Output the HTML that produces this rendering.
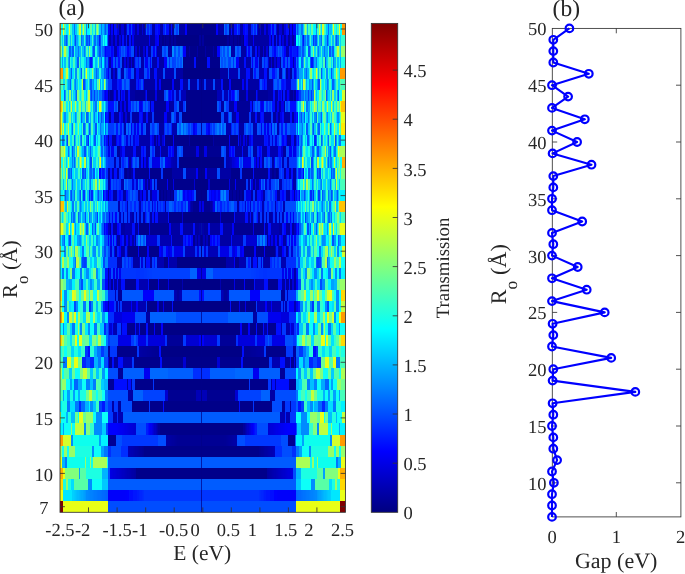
<!DOCTYPE html>
<html><head><meta charset="utf-8"><title>Figure</title>
<style>
html,body{margin:0;padding:0;background:#fff;}
body{width:685px;height:574px;overflow:hidden;font-family:"Liberation Serif",serif;}
svg{display:block;position:absolute;left:0;top:0;will-change:transform;transform:translateZ(0);}
text{font-family:"Liberation Serif",serif;fill:#262626;text-rendering:geometricPrecision;}
.tk{font-size:18.5px;}
.lb{font-size:21.5px;}
.tt{font-size:23.5px;}
.cl{font-size:18.8px;}
.ax{stroke:#333;stroke-width:0.85;fill:none;}
</style></head><body>
<svg width="685" height="574" viewBox="0 0 685 574">
<defs>
<linearGradient id="jet" x1="0" y1="1" x2="0" y2="0">
<stop offset="0.0000" stop-color="#000080"/><stop offset="0.0250" stop-color="#000099"/><stop offset="0.0500" stop-color="#0000b2"/><stop offset="0.0750" stop-color="#0000cc"/><stop offset="0.1000" stop-color="#0000e6"/><stop offset="0.1250" stop-color="#0000ff"/><stop offset="0.1500" stop-color="#0019ff"/><stop offset="0.1750" stop-color="#0033ff"/><stop offset="0.2000" stop-color="#004dff"/><stop offset="0.2250" stop-color="#0066ff"/><stop offset="0.2500" stop-color="#0080ff"/><stop offset="0.2750" stop-color="#0099ff"/><stop offset="0.3000" stop-color="#00b2ff"/><stop offset="0.3250" stop-color="#00ccff"/><stop offset="0.3500" stop-color="#00e5ff"/><stop offset="0.3750" stop-color="#00ffff"/><stop offset="0.4000" stop-color="#1affe5"/><stop offset="0.4250" stop-color="#33ffcc"/><stop offset="0.4500" stop-color="#4dffb2"/><stop offset="0.4750" stop-color="#66ff99"/><stop offset="0.5000" stop-color="#80ff80"/><stop offset="0.5250" stop-color="#99ff66"/><stop offset="0.5500" stop-color="#b3ff4c"/><stop offset="0.5750" stop-color="#ccff33"/><stop offset="0.6000" stop-color="#e5ff1a"/><stop offset="0.6250" stop-color="#ffff00"/><stop offset="0.6500" stop-color="#ffe500"/><stop offset="0.6750" stop-color="#ffcc00"/><stop offset="0.7000" stop-color="#ffb300"/><stop offset="0.7250" stop-color="#ff9900"/><stop offset="0.7500" stop-color="#ff8000"/><stop offset="0.7750" stop-color="#ff6600"/><stop offset="0.8000" stop-color="#ff4c00"/><stop offset="0.8250" stop-color="#ff3300"/><stop offset="0.8500" stop-color="#ff1a00"/><stop offset="0.8750" stop-color="#ff0000"/><stop offset="0.9000" stop-color="#e50000"/><stop offset="0.9250" stop-color="#cc0000"/><stop offset="0.9500" stop-color="#b30000"/><stop offset="0.9750" stop-color="#990000"/><stop offset="1.0000" stop-color="#800000"/></linearGradient>
<filter id="bl" x="-5%" y="-5%" width="110%" height="110%"><feGaussianBlur stdDeviation="0.75 0.3"/></filter>
<clipPath id="cp"><rect x="60.0" y="23.4" width="285.5" height="488.9"/></clipPath></defs>
<rect x="0" y="0" width="685" height="574" fill="#fff"/>
<g clip-path="url(#cp)"><g filter="url(#bl)" shape-rendering="crispEdges">
<rect x="50" y="15" width="305" height="505" fill="#0020e0"/>
<rect x="55.4" y="501" width="7.7" height="15" fill="#800000"/>
<rect x="62.8" y="501" width="45.0" height="15" fill="#e9ff16"/>
<rect x="107.5" y="501" width="188.2" height="15" fill="#004eff"/>
<rect x="295.5" y="501" width="45.0" height="15" fill="#e9ff16"/>
<rect x="340.2" y="501" width="10.2" height="15" fill="#800000"/>
<rect x="55.4" y="490" width="7.7" height="11" fill="#e9ff16"/>
<rect x="62.8" y="490" width="9.7" height="11" fill="#00e7ff"/>
<rect x="72.2" y="490" width="1.6" height="11" fill="#00d0ff"/>
<rect x="73.5" y="490" width="1.6" height="11" fill="#00caff"/>
<rect x="74.8" y="490" width="1.6" height="11" fill="#00c5ff"/>
<rect x="76.1" y="490" width="1.6" height="11" fill="#00bfff"/>
<rect x="77.4" y="490" width="1.6" height="11" fill="#00baff"/>
<rect x="78.7" y="490" width="1.6" height="11" fill="#00b4ff"/>
<rect x="79.9" y="490" width="1.6" height="11" fill="#00aeff"/>
<rect x="81.2" y="490" width="1.6" height="11" fill="#00a9ff"/>
<rect x="82.5" y="490" width="1.6" height="11" fill="#00a3ff"/>
<rect x="83.8" y="490" width="1.6" height="11" fill="#009eff"/>
<rect x="85.1" y="490" width="1.6" height="11" fill="#0098ff"/>
<rect x="86.4" y="490" width="1.6" height="11" fill="#008aff"/>
<rect x="87.7" y="490" width="1.6" height="11" fill="#0087ff"/>
<rect x="89.0" y="490" width="1.6" height="11" fill="#0085ff"/>
<rect x="90.3" y="490" width="1.6" height="11" fill="#0082ff"/>
<rect x="91.6" y="490" width="1.6" height="11" fill="#0080ff"/>
<rect x="93.0" y="490" width="1.6" height="11" fill="#007dff"/>
<rect x="94.3" y="490" width="1.6" height="11" fill="#007aff"/>
<rect x="95.6" y="490" width="1.6" height="11" fill="#0078ff"/>
<rect x="96.9" y="490" width="1.6" height="11" fill="#0075ff"/>
<rect x="98.3" y="490" width="1.6" height="11" fill="#0073ff"/>
<rect x="99.6" y="490" width="1.6" height="11" fill="#0070ff"/>
<rect x="100.9" y="490" width="1.6" height="11" fill="#006eff"/>
<rect x="102.2" y="490" width="1.6" height="11" fill="#006bff"/>
<rect x="103.6" y="490" width="1.6" height="11" fill="#0068ff"/>
<rect x="104.9" y="490" width="1.6" height="11" fill="#0066ff"/>
<rect x="106.2" y="490" width="1.6" height="11" fill="#0063ff"/>
<rect x="107.5" y="490" width="18.0" height="11" fill="#0000fb"/>
<rect x="125.3" y="490" width="1.6" height="11" fill="#0000fc"/>
<rect x="126.5" y="490" width="1.6" height="11" fill="#0001ff"/>
<rect x="127.8" y="490" width="1.6" height="11" fill="#0004ff"/>
<rect x="129.0" y="490" width="1.6" height="11" fill="#0007ff"/>
<rect x="130.3" y="490" width="1.6" height="11" fill="#000bff"/>
<rect x="131.5" y="490" width="1.6" height="11" fill="#000eff"/>
<rect x="132.8" y="490" width="1.6" height="11" fill="#0012ff"/>
<rect x="134.0" y="490" width="1.6" height="11" fill="#0015ff"/>
<rect x="135.3" y="490" width="1.6" height="11" fill="#0019ff"/>
<rect x="136.6" y="490" width="1.6" height="11" fill="#001cff"/>
<rect x="137.8" y="490" width="1.6" height="11" fill="#001fff"/>
<rect x="139.1" y="490" width="1.6" height="11" fill="#0023ff"/>
<rect x="140.3" y="490" width="1.6" height="11" fill="#0026ff"/>
<rect x="141.6" y="490" width="1.6" height="11" fill="#002aff"/>
<rect x="142.8" y="490" width="1.6" height="11" fill="#002dff"/>
<rect x="144.1" y="490" width="115.1" height="11" fill="#0035ff"/>
<rect x="258.9" y="490" width="1.6" height="11" fill="#002dff"/>
<rect x="260.2" y="490" width="1.6" height="11" fill="#002aff"/>
<rect x="261.4" y="490" width="1.6" height="11" fill="#0026ff"/>
<rect x="262.7" y="490" width="1.6" height="11" fill="#0023ff"/>
<rect x="263.9" y="490" width="1.6" height="11" fill="#001fff"/>
<rect x="265.2" y="490" width="1.6" height="11" fill="#001cff"/>
<rect x="266.4" y="490" width="1.6" height="11" fill="#0019ff"/>
<rect x="267.7" y="490" width="1.6" height="11" fill="#0015ff"/>
<rect x="268.9" y="490" width="1.6" height="11" fill="#0012ff"/>
<rect x="270.2" y="490" width="1.6" height="11" fill="#000eff"/>
<rect x="271.5" y="490" width="1.6" height="11" fill="#000bff"/>
<rect x="272.7" y="490" width="1.6" height="11" fill="#0007ff"/>
<rect x="274.0" y="490" width="1.6" height="11" fill="#0004ff"/>
<rect x="275.2" y="490" width="1.6" height="11" fill="#0001ff"/>
<rect x="276.5" y="490" width="1.6" height="11" fill="#0000fc"/>
<rect x="277.7" y="490" width="18.0" height="11" fill="#0000fb"/>
<rect x="295.5" y="490" width="1.6" height="11" fill="#0063ff"/>
<rect x="296.8" y="490" width="1.6" height="11" fill="#0066ff"/>
<rect x="298.1" y="490" width="1.6" height="11" fill="#0068ff"/>
<rect x="299.4" y="490" width="1.6" height="11" fill="#006bff"/>
<rect x="300.8" y="490" width="1.6" height="11" fill="#006eff"/>
<rect x="302.1" y="490" width="1.6" height="11" fill="#0070ff"/>
<rect x="303.4" y="490" width="1.6" height="11" fill="#0073ff"/>
<rect x="304.7" y="490" width="1.6" height="11" fill="#0075ff"/>
<rect x="306.0" y="490" width="1.6" height="11" fill="#0078ff"/>
<rect x="307.4" y="490" width="1.6" height="11" fill="#007aff"/>
<rect x="308.7" y="490" width="1.6" height="11" fill="#007dff"/>
<rect x="310.0" y="490" width="1.6" height="11" fill="#0080ff"/>
<rect x="311.3" y="490" width="1.6" height="11" fill="#0082ff"/>
<rect x="312.7" y="490" width="1.6" height="11" fill="#0085ff"/>
<rect x="314.0" y="490" width="1.6" height="11" fill="#0087ff"/>
<rect x="315.3" y="490" width="1.6" height="11" fill="#008aff"/>
<rect x="316.6" y="490" width="1.6" height="11" fill="#0098ff"/>
<rect x="317.9" y="490" width="1.6" height="11" fill="#009eff"/>
<rect x="319.2" y="490" width="1.6" height="11" fill="#00a3ff"/>
<rect x="320.5" y="490" width="1.6" height="11" fill="#00a9ff"/>
<rect x="321.8" y="490" width="1.6" height="11" fill="#00aeff"/>
<rect x="323.1" y="490" width="1.6" height="11" fill="#00b4ff"/>
<rect x="324.3" y="490" width="1.6" height="11" fill="#00baff"/>
<rect x="325.6" y="490" width="1.6" height="11" fill="#00bfff"/>
<rect x="326.9" y="490" width="1.6" height="11" fill="#00c5ff"/>
<rect x="328.2" y="490" width="1.6" height="11" fill="#00caff"/>
<rect x="329.5" y="490" width="1.6" height="11" fill="#00d0ff"/>
<rect x="330.8" y="490" width="9.7" height="11" fill="#00e7ff"/>
<rect x="340.2" y="490" width="10.2" height="11" fill="#e9ff16"/>
<rect x="55.4" y="479" width="7.7" height="11" fill="#ffd800"/>
<rect x="62.8" y="479" width="3.4" height="11" fill="#1cffe3"/>
<rect x="66.0" y="479" width="2.7" height="11" fill="#97ff68"/>
<rect x="68.3" y="479" width="2.7" height="11" fill="#1cffe3"/>
<rect x="70.7" y="479" width="3.4" height="11" fill="#00ddff"/>
<rect x="73.8" y="479" width="14.4" height="11" fill="#59ffa6"/>
<rect x="87.9" y="479" width="4.2" height="11" fill="#008bff"/>
<rect x="91.8" y="479" width="10.5" height="11" fill="#07fff8"/>
<rect x="102.0" y="479" width="5.8" height="11" fill="#00c9ff"/>
<rect x="107.5" y="479" width="188.2" height="11" fill="#005cff"/>
<rect x="295.5" y="479" width="5.8" height="11" fill="#00c9ff"/>
<rect x="300.9" y="479" width="10.5" height="11" fill="#07fff8"/>
<rect x="311.1" y="479" width="4.2" height="11" fill="#008bff"/>
<rect x="315.1" y="479" width="14.4" height="11" fill="#59ffa6"/>
<rect x="329.2" y="479" width="3.4" height="11" fill="#00ddff"/>
<rect x="332.3" y="479" width="2.7" height="11" fill="#1cffe3"/>
<rect x="334.7" y="479" width="2.7" height="11" fill="#97ff68"/>
<rect x="337.0" y="479" width="3.4" height="11" fill="#1cffe3"/>
<rect x="340.2" y="479" width="10.2" height="11" fill="#ffd800"/>
<rect x="55.4" y="468" width="7.7" height="11" fill="#ffaf00"/>
<rect x="62.8" y="468" width="2.7" height="11" fill="#e9ff16"/>
<rect x="65.2" y="468" width="13.6" height="11" fill="#82ff7d"/>
<rect x="78.5" y="468" width="1.9" height="11" fill="#00a0ff"/>
<rect x="80.1" y="468" width="6.6" height="11" fill="#59ffa6"/>
<rect x="86.4" y="468" width="16.0" height="11" fill="#1cffe3"/>
<rect x="102.0" y="468" width="5.8" height="11" fill="#00b4ff"/>
<rect x="107.5" y="468" width="2.3" height="11" fill="#004eff"/>
<rect x="109.6" y="468" width="1.6" height="11" fill="#0000e4"/>
<rect x="110.8" y="468" width="1.6" height="11" fill="#0000e1"/>
<rect x="112.1" y="468" width="1.6" height="11" fill="#0000dd"/>
<rect x="113.4" y="468" width="1.6" height="11" fill="#0000da"/>
<rect x="114.6" y="468" width="1.6" height="11" fill="#0000d7"/>
<rect x="115.9" y="468" width="1.6" height="11" fill="#0000d3"/>
<rect x="117.2" y="468" width="1.6" height="11" fill="#0000d0"/>
<rect x="118.5" y="468" width="1.6" height="11" fill="#0000cc"/>
<rect x="119.7" y="468" width="1.6" height="11" fill="#0000c9"/>
<rect x="121.0" y="468" width="1.6" height="11" fill="#0000c6"/>
<rect x="122.3" y="468" width="1.6" height="11" fill="#0000c2"/>
<rect x="123.5" y="468" width="1.6" height="11" fill="#0000bf"/>
<rect x="124.8" y="468" width="1.6" height="11" fill="#0000bb"/>
<rect x="126.1" y="468" width="1.6" height="11" fill="#0000b8"/>
<rect x="127.3" y="468" width="1.6" height="11" fill="#0000b4"/>
<rect x="128.6" y="468" width="1.6" height="11" fill="#0000b1"/>
<rect x="129.9" y="468" width="1.6" height="11" fill="#0000ae"/>
<rect x="131.2" y="468" width="1.6" height="11" fill="#0000aa"/>
<rect x="132.4" y="468" width="1.6" height="11" fill="#0000a7"/>
<rect x="133.7" y="468" width="1.6" height="11" fill="#0000a3"/>
<rect x="135.0" y="468" width="1.6" height="11" fill="#0000a0"/>
<rect x="136.2" y="468" width="130.8" height="11" fill="#00008a"/>
<rect x="266.7" y="468" width="1.6" height="11" fill="#0000a0"/>
<rect x="268.0" y="468" width="1.6" height="11" fill="#0000a3"/>
<rect x="269.3" y="468" width="1.6" height="11" fill="#0000a7"/>
<rect x="270.6" y="468" width="1.6" height="11" fill="#0000aa"/>
<rect x="271.8" y="468" width="1.6" height="11" fill="#0000ae"/>
<rect x="273.1" y="468" width="1.6" height="11" fill="#0000b1"/>
<rect x="274.4" y="468" width="1.6" height="11" fill="#0000b4"/>
<rect x="275.6" y="468" width="1.6" height="11" fill="#0000b8"/>
<rect x="276.9" y="468" width="1.6" height="11" fill="#0000bb"/>
<rect x="278.2" y="468" width="1.6" height="11" fill="#0000bf"/>
<rect x="279.4" y="468" width="1.6" height="11" fill="#0000c2"/>
<rect x="280.7" y="468" width="1.6" height="11" fill="#0000c6"/>
<rect x="282.0" y="468" width="1.6" height="11" fill="#0000c9"/>
<rect x="283.3" y="468" width="1.6" height="11" fill="#0000cc"/>
<rect x="284.5" y="468" width="1.6" height="11" fill="#0000d0"/>
<rect x="285.8" y="468" width="1.6" height="11" fill="#0000d3"/>
<rect x="287.1" y="468" width="1.6" height="11" fill="#0000d7"/>
<rect x="288.3" y="468" width="1.6" height="11" fill="#0000da"/>
<rect x="289.6" y="468" width="1.6" height="11" fill="#0000dd"/>
<rect x="290.9" y="468" width="1.6" height="11" fill="#0000e1"/>
<rect x="292.1" y="468" width="1.6" height="11" fill="#0000e4"/>
<rect x="293.4" y="468" width="2.3" height="11" fill="#004eff"/>
<rect x="295.5" y="468" width="5.8" height="11" fill="#00b4ff"/>
<rect x="300.9" y="468" width="16.0" height="11" fill="#1cffe3"/>
<rect x="316.6" y="468" width="6.6" height="11" fill="#59ffa6"/>
<rect x="322.9" y="468" width="1.9" height="11" fill="#00a0ff"/>
<rect x="324.5" y="468" width="13.6" height="11" fill="#82ff7d"/>
<rect x="337.8" y="468" width="2.7" height="11" fill="#e9ff16"/>
<rect x="340.2" y="468" width="10.2" height="11" fill="#ffaf00"/>
<rect x="55.4" y="457" width="6.9" height="11" fill="#e9ff16"/>
<rect x="62.0" y="457" width="3.4" height="11" fill="#00b4ff"/>
<rect x="65.2" y="457" width="1.9" height="11" fill="#0077ff"/>
<rect x="66.7" y="457" width="18.3" height="11" fill="#11ffee"/>
<rect x="84.8" y="457" width="1.9" height="11" fill="#97ff68"/>
<rect x="86.4" y="457" width="3.4" height="11" fill="#11ffee"/>
<rect x="89.5" y="457" width="1.9" height="11" fill="#97ff68"/>
<rect x="91.1" y="457" width="2.7" height="11" fill="#11ffee"/>
<rect x="93.4" y="457" width="13.6" height="11" fill="#abff54"/>
<rect x="106.7" y="457" width="1.1" height="11" fill="#1cffe3"/>
<rect x="107.5" y="457" width="188.2" height="11" fill="#005cff"/>
<rect x="295.5" y="457" width="1.1" height="11" fill="#1cffe3"/>
<rect x="296.2" y="457" width="13.6" height="11" fill="#abff54"/>
<rect x="309.6" y="457" width="2.7" height="11" fill="#11ffee"/>
<rect x="311.9" y="457" width="1.9" height="11" fill="#97ff68"/>
<rect x="313.5" y="457" width="3.4" height="11" fill="#11ffee"/>
<rect x="316.6" y="457" width="1.9" height="11" fill="#97ff68"/>
<rect x="318.2" y="457" width="18.3" height="11" fill="#11ffee"/>
<rect x="336.2" y="457" width="1.9" height="11" fill="#0077ff"/>
<rect x="337.8" y="457" width="3.4" height="11" fill="#00b4ff"/>
<rect x="340.9" y="457" width="9.4" height="11" fill="#e9ff16"/>
<rect x="55.4" y="446" width="6.9" height="11" fill="#97ff68"/>
<rect x="62.0" y="446" width="2.7" height="11" fill="#07fff8"/>
<rect x="64.4" y="446" width="2.7" height="11" fill="#97ff68"/>
<rect x="66.7" y="446" width="2.7" height="11" fill="#07fff8"/>
<rect x="69.1" y="446" width="6.6" height="11" fill="#97ff68"/>
<rect x="75.4" y="446" width="16.8" height="11" fill="#1cffe3"/>
<rect x="91.8" y="446" width="2.7" height="11" fill="#008bff"/>
<rect x="94.2" y="446" width="7.4" height="11" fill="#07fff8"/>
<rect x="101.3" y="446" width="2.7" height="11" fill="#00a0ff"/>
<rect x="103.6" y="446" width="4.2" height="11" fill="#0077ff"/>
<rect x="107.5" y="446" width="3.9" height="11" fill="#002fff"/>
<rect x="111.1" y="446" width="9.7" height="11" fill="#004eff"/>
<rect x="120.6" y="446" width="7.4" height="11" fill="#002fff"/>
<rect x="127.6" y="446" width="1.6" height="11" fill="#0000bb"/>
<rect x="128.9" y="446" width="1.6" height="11" fill="#0000b8"/>
<rect x="130.1" y="446" width="1.6" height="11" fill="#0000b4"/>
<rect x="131.4" y="446" width="1.6" height="11" fill="#0000b1"/>
<rect x="132.7" y="446" width="1.6" height="11" fill="#0000ad"/>
<rect x="133.9" y="446" width="1.6" height="11" fill="#0000aa"/>
<rect x="135.2" y="446" width="1.6" height="11" fill="#0000a6"/>
<rect x="136.5" y="446" width="1.6" height="11" fill="#0000a3"/>
<rect x="137.7" y="446" width="1.6" height="11" fill="#0000a0"/>
<rect x="139.0" y="446" width="1.6" height="11" fill="#00009c"/>
<rect x="140.3" y="446" width="1.6" height="11" fill="#000099"/>
<rect x="141.5" y="446" width="1.6" height="11" fill="#000095"/>
<rect x="142.8" y="446" width="1.6" height="11" fill="#000092"/>
<rect x="144.1" y="446" width="115.1" height="11" fill="#00008a"/>
<rect x="258.9" y="446" width="1.6" height="11" fill="#000092"/>
<rect x="260.2" y="446" width="1.6" height="11" fill="#000095"/>
<rect x="261.4" y="446" width="1.6" height="11" fill="#000099"/>
<rect x="262.7" y="446" width="1.6" height="11" fill="#00009c"/>
<rect x="264.0" y="446" width="1.6" height="11" fill="#0000a0"/>
<rect x="265.2" y="446" width="1.6" height="11" fill="#0000a3"/>
<rect x="266.5" y="446" width="1.6" height="11" fill="#0000a6"/>
<rect x="267.8" y="446" width="1.6" height="11" fill="#0000aa"/>
<rect x="269.0" y="446" width="1.6" height="11" fill="#0000ad"/>
<rect x="270.3" y="446" width="1.6" height="11" fill="#0000b1"/>
<rect x="271.6" y="446" width="1.6" height="11" fill="#0000b4"/>
<rect x="272.8" y="446" width="1.6" height="11" fill="#0000b8"/>
<rect x="274.1" y="446" width="1.6" height="11" fill="#0000bb"/>
<rect x="275.4" y="446" width="7.4" height="11" fill="#002fff"/>
<rect x="282.4" y="446" width="9.7" height="11" fill="#004eff"/>
<rect x="291.8" y="446" width="3.9" height="11" fill="#002fff"/>
<rect x="295.5" y="446" width="4.2" height="11" fill="#0077ff"/>
<rect x="299.4" y="446" width="2.7" height="11" fill="#00a0ff"/>
<rect x="301.7" y="446" width="7.4" height="11" fill="#07fff8"/>
<rect x="308.8" y="446" width="2.7" height="11" fill="#008bff"/>
<rect x="311.1" y="446" width="16.8" height="11" fill="#1cffe3"/>
<rect x="327.6" y="446" width="6.6" height="11" fill="#97ff68"/>
<rect x="333.9" y="446" width="2.7" height="11" fill="#07fff8"/>
<rect x="336.2" y="446" width="2.7" height="11" fill="#97ff68"/>
<rect x="338.6" y="446" width="2.7" height="11" fill="#07fff8"/>
<rect x="340.9" y="446" width="9.4" height="11" fill="#97ff68"/>
<rect x="55.4" y="435" width="7.7" height="11" fill="#ff9a00"/>
<rect x="62.8" y="435" width="8.1" height="11" fill="#d4ff2b"/>
<rect x="70.7" y="435" width="2.7" height="11" fill="#008bff"/>
<rect x="73.0" y="435" width="26.2" height="11" fill="#11ffee"/>
<rect x="98.9" y="435" width="2.7" height="11" fill="#00a0ff"/>
<rect x="101.3" y="435" width="6.6" height="11" fill="#00f2ff"/>
<rect x="107.5" y="435" width="0.8" height="11" fill="#0062ff"/>
<rect x="108.0" y="435" width="7.8" height="11" fill="#000094"/>
<rect x="115.5" y="435" width="6.9" height="11" fill="#004eff"/>
<rect x="122.1" y="435" width="36.4" height="11" fill="#0039ff"/>
<rect x="158.2" y="435" width="8.1" height="11" fill="#004eff"/>
<rect x="166.0" y="435" width="1.6" height="11" fill="#0000a7"/>
<rect x="167.3" y="435" width="1.6" height="11" fill="#0000a5"/>
<rect x="168.6" y="435" width="1.6" height="11" fill="#0000a3"/>
<rect x="169.8" y="435" width="1.6" height="11" fill="#0000a1"/>
<rect x="171.1" y="435" width="1.6" height="11" fill="#00009f"/>
<rect x="172.3" y="435" width="1.6" height="11" fill="#00009d"/>
<rect x="173.6" y="435" width="1.6" height="11" fill="#00009b"/>
<rect x="174.8" y="435" width="1.6" height="11" fill="#000099"/>
<rect x="176.1" y="435" width="1.6" height="11" fill="#000097"/>
<rect x="177.3" y="435" width="1.6" height="11" fill="#000095"/>
<rect x="178.6" y="435" width="46.1" height="11" fill="#000094"/>
<rect x="224.4" y="435" width="1.6" height="11" fill="#000095"/>
<rect x="225.7" y="435" width="1.6" height="11" fill="#000097"/>
<rect x="226.9" y="435" width="1.6" height="11" fill="#000099"/>
<rect x="228.2" y="435" width="1.6" height="11" fill="#00009b"/>
<rect x="229.4" y="435" width="1.6" height="11" fill="#00009d"/>
<rect x="230.7" y="435" width="1.6" height="11" fill="#00009f"/>
<rect x="231.9" y="435" width="1.6" height="11" fill="#0000a1"/>
<rect x="233.2" y="435" width="1.6" height="11" fill="#0000a3"/>
<rect x="234.4" y="435" width="1.6" height="11" fill="#0000a5"/>
<rect x="235.7" y="435" width="1.6" height="11" fill="#0000a7"/>
<rect x="236.9" y="435" width="8.1" height="11" fill="#004eff"/>
<rect x="244.8" y="435" width="36.4" height="11" fill="#0039ff"/>
<rect x="280.9" y="435" width="6.9" height="11" fill="#004eff"/>
<rect x="287.5" y="435" width="7.8" height="11" fill="#000094"/>
<rect x="295.0" y="435" width="0.8" height="11" fill="#0062ff"/>
<rect x="295.5" y="435" width="6.6" height="11" fill="#00f2ff"/>
<rect x="301.7" y="435" width="2.7" height="11" fill="#00a0ff"/>
<rect x="304.1" y="435" width="26.2" height="11" fill="#11ffee"/>
<rect x="330.0" y="435" width="2.7" height="11" fill="#008bff"/>
<rect x="332.3" y="435" width="8.1" height="11" fill="#d4ff2b"/>
<rect x="340.2" y="435" width="10.2" height="11" fill="#ff9a00"/>
<rect x="55.4" y="423" width="7.7" height="12" fill="#00f2ff"/>
<rect x="62.8" y="423" width="1.9" height="12" fill="#00a0ff"/>
<rect x="64.4" y="423" width="6.6" height="12" fill="#07fff8"/>
<rect x="70.7" y="423" width="1.9" height="12" fill="#97ff68"/>
<rect x="72.2" y="423" width="2.7" height="12" fill="#07fff8"/>
<rect x="74.6" y="423" width="9.7" height="12" fill="#c0ff3f"/>
<rect x="84.0" y="423" width="2.7" height="12" fill="#008bff"/>
<rect x="86.4" y="423" width="4.2" height="12" fill="#82ff7d"/>
<rect x="90.3" y="423" width="4.2" height="12" fill="#30ffcf"/>
<rect x="94.2" y="423" width="8.1" height="12" fill="#008bff"/>
<rect x="102.0" y="423" width="4.2" height="12" fill="#00c9ff"/>
<rect x="106.0" y="423" width="1.9" height="12" fill="#004eff"/>
<rect x="107.5" y="423" width="5.5" height="12" fill="#0006ff"/>
<rect x="112.7" y="423" width="1.6" height="12" fill="#0004ff"/>
<rect x="114.0" y="423" width="1.6" height="12" fill="#0001ff"/>
<rect x="115.2" y="423" width="1.6" height="12" fill="#0000fe"/>
<rect x="116.5" y="423" width="1.6" height="12" fill="#0000fb"/>
<rect x="117.8" y="423" width="1.6" height="12" fill="#0000f8"/>
<rect x="119.0" y="423" width="1.6" height="12" fill="#0000f5"/>
<rect x="120.3" y="423" width="1.6" height="12" fill="#0000f2"/>
<rect x="121.6" y="423" width="1.6" height="12" fill="#0000ef"/>
<rect x="122.8" y="423" width="1.6" height="12" fill="#0000ed"/>
<rect x="124.1" y="423" width="1.6" height="12" fill="#0000ea"/>
<rect x="125.3" y="423" width="1.6" height="12" fill="#0000e7"/>
<rect x="126.6" y="423" width="1.6" height="12" fill="#0000e4"/>
<rect x="127.9" y="423" width="1.6" height="12" fill="#0000e1"/>
<rect x="129.1" y="423" width="1.6" height="12" fill="#0000de"/>
<rect x="130.4" y="423" width="1.6" height="12" fill="#0000db"/>
<rect x="131.7" y="423" width="1.6" height="12" fill="#0000d9"/>
<rect x="132.9" y="423" width="1.6" height="12" fill="#0000d6"/>
<rect x="134.2" y="423" width="1.6" height="12" fill="#0000d3"/>
<rect x="135.5" y="423" width="11.3" height="12" fill="#004eff"/>
<rect x="146.4" y="423" width="1.6" height="12" fill="#001dff"/>
<rect x="147.8" y="423" width="1.6" height="12" fill="#000fff"/>
<rect x="149.1" y="423" width="1.6" height="12" fill="#0001ff"/>
<rect x="150.4" y="423" width="1.6" height="12" fill="#0000f1"/>
<rect x="151.8" y="423" width="1.6" height="12" fill="#0000e3"/>
<rect x="153.1" y="423" width="1.6" height="12" fill="#0000d5"/>
<rect x="154.4" y="423" width="1.6" height="12" fill="#0000c6"/>
<rect x="155.8" y="423" width="1.6" height="12" fill="#0000b8"/>
<rect x="157.1" y="423" width="1.6" height="12" fill="#0000aa"/>
<rect x="158.4" y="423" width="1.6" height="12" fill="#00009b"/>
<rect x="159.8" y="423" width="83.8" height="12" fill="#00008a"/>
<rect x="243.2" y="423" width="1.6" height="12" fill="#00009b"/>
<rect x="244.6" y="423" width="1.6" height="12" fill="#0000aa"/>
<rect x="245.9" y="423" width="1.6" height="12" fill="#0000b8"/>
<rect x="247.2" y="423" width="1.6" height="12" fill="#0000c6"/>
<rect x="248.6" y="423" width="1.6" height="12" fill="#0000d5"/>
<rect x="249.9" y="423" width="1.6" height="12" fill="#0000e3"/>
<rect x="251.2" y="423" width="1.6" height="12" fill="#0000f1"/>
<rect x="252.6" y="423" width="1.6" height="12" fill="#0001ff"/>
<rect x="253.9" y="423" width="1.6" height="12" fill="#000fff"/>
<rect x="255.2" y="423" width="1.6" height="12" fill="#001dff"/>
<rect x="256.6" y="423" width="11.3" height="12" fill="#004eff"/>
<rect x="267.5" y="423" width="1.6" height="12" fill="#0000d3"/>
<rect x="268.8" y="423" width="1.6" height="12" fill="#0000d6"/>
<rect x="270.1" y="423" width="1.6" height="12" fill="#0000d9"/>
<rect x="271.3" y="423" width="1.6" height="12" fill="#0000db"/>
<rect x="272.6" y="423" width="1.6" height="12" fill="#0000de"/>
<rect x="273.9" y="423" width="1.6" height="12" fill="#0000e1"/>
<rect x="275.1" y="423" width="1.6" height="12" fill="#0000e4"/>
<rect x="276.4" y="423" width="1.6" height="12" fill="#0000e7"/>
<rect x="277.6" y="423" width="1.6" height="12" fill="#0000ea"/>
<rect x="278.9" y="423" width="1.6" height="12" fill="#0000ed"/>
<rect x="280.2" y="423" width="1.6" height="12" fill="#0000ef"/>
<rect x="281.4" y="423" width="1.6" height="12" fill="#0000f2"/>
<rect x="282.7" y="423" width="1.6" height="12" fill="#0000f5"/>
<rect x="284.0" y="423" width="1.6" height="12" fill="#0000f8"/>
<rect x="285.2" y="423" width="1.6" height="12" fill="#0000fb"/>
<rect x="286.5" y="423" width="1.6" height="12" fill="#0000fe"/>
<rect x="287.8" y="423" width="1.6" height="12" fill="#0001ff"/>
<rect x="289.0" y="423" width="1.6" height="12" fill="#0004ff"/>
<rect x="290.3" y="423" width="5.5" height="12" fill="#0006ff"/>
<rect x="295.5" y="423" width="1.9" height="12" fill="#004eff"/>
<rect x="297.0" y="423" width="4.2" height="12" fill="#00c9ff"/>
<rect x="300.9" y="423" width="8.1" height="12" fill="#008bff"/>
<rect x="308.8" y="423" width="4.2" height="12" fill="#30ffcf"/>
<rect x="312.7" y="423" width="4.2" height="12" fill="#82ff7d"/>
<rect x="316.6" y="423" width="2.7" height="12" fill="#008bff"/>
<rect x="319.0" y="423" width="9.7" height="12" fill="#c0ff3f"/>
<rect x="328.4" y="423" width="2.7" height="12" fill="#07fff8"/>
<rect x="330.8" y="423" width="1.9" height="12" fill="#97ff68"/>
<rect x="332.3" y="423" width="6.6" height="12" fill="#07fff8"/>
<rect x="338.6" y="423" width="1.9" height="12" fill="#00a0ff"/>
<rect x="340.2" y="423" width="10.2" height="12" fill="#00f2ff"/>
<rect x="55.4" y="412" width="6.1" height="11" fill="#c0ff3f"/>
<rect x="61.3" y="412" width="5.0" height="11" fill="#07fff8"/>
<rect x="66.0" y="412" width="1.9" height="11" fill="#00b4ff"/>
<rect x="67.5" y="412" width="3.8" height="11" fill="#20ffdf"/>
<rect x="71.1" y="412" width="3.8" height="11" fill="#00beff"/>
<rect x="74.6" y="412" width="3.4" height="11" fill="#6eff91"/>
<rect x="77.7" y="412" width="1.9" height="11" fill="#07fff8"/>
<rect x="79.3" y="412" width="3.8" height="11" fill="#e9ff16"/>
<rect x="82.8" y="412" width="3.8" height="11" fill="#69ff96"/>
<rect x="86.4" y="412" width="6.6" height="11" fill="#97ff68"/>
<rect x="92.6" y="412" width="3.4" height="11" fill="#07fff8"/>
<rect x="95.8" y="412" width="6.6" height="11" fill="#008bff"/>
<rect x="102.0" y="412" width="5.8" height="11" fill="#07fff8"/>
<rect x="107.5" y="412" width="5.5" height="11" fill="#0039ff"/>
<rect x="112.7" y="412" width="4.2" height="11" fill="#0000b3"/>
<rect x="116.6" y="412" width="1.9" height="11" fill="#0025ff"/>
<rect x="118.2" y="412" width="5.0" height="11" fill="#0000b3"/>
<rect x="122.9" y="412" width="157.5" height="11" fill="#005cff"/>
<rect x="280.1" y="412" width="5.0" height="11" fill="#0000b3"/>
<rect x="284.8" y="412" width="1.9" height="11" fill="#0025ff"/>
<rect x="286.4" y="412" width="4.2" height="11" fill="#0000b3"/>
<rect x="290.3" y="412" width="5.5" height="11" fill="#0039ff"/>
<rect x="295.5" y="412" width="5.8" height="11" fill="#07fff8"/>
<rect x="300.9" y="412" width="6.6" height="11" fill="#008bff"/>
<rect x="307.2" y="412" width="3.4" height="11" fill="#07fff8"/>
<rect x="310.4" y="412" width="6.6" height="11" fill="#97ff68"/>
<rect x="316.6" y="412" width="3.8" height="11" fill="#69ff96"/>
<rect x="320.2" y="412" width="3.8" height="11" fill="#e9ff16"/>
<rect x="323.7" y="412" width="1.9" height="11" fill="#07fff8"/>
<rect x="325.3" y="412" width="3.4" height="11" fill="#6eff91"/>
<rect x="328.4" y="412" width="3.8" height="11" fill="#00beff"/>
<rect x="331.9" y="412" width="3.8" height="11" fill="#20ffdf"/>
<rect x="335.5" y="412" width="1.9" height="11" fill="#00b4ff"/>
<rect x="337.0" y="412" width="5.0" height="11" fill="#07fff8"/>
<rect x="341.7" y="412" width="8.6" height="11" fill="#c0ff3f"/>
<rect x="55.4" y="401" width="6.9" height="11" fill="#00f2ff"/>
<rect x="62.0" y="401" width="5.0" height="11" fill="#1cffe3"/>
<rect x="66.7" y="401" width="3.4" height="11" fill="#0077ff"/>
<rect x="69.9" y="401" width="5.8" height="11" fill="#00ddff"/>
<rect x="75.4" y="401" width="3.4" height="11" fill="#0077ff"/>
<rect x="78.5" y="401" width="2.7" height="11" fill="#0025ff"/>
<rect x="80.9" y="401" width="4.2" height="11" fill="#0069ff"/>
<rect x="84.8" y="401" width="4.2" height="11" fill="#00b2ff"/>
<rect x="88.7" y="401" width="1.9" height="11" fill="#00f2ff"/>
<rect x="90.3" y="401" width="2.7" height="11" fill="#008bff"/>
<rect x="92.6" y="401" width="3.4" height="11" fill="#00c1ff"/>
<rect x="95.8" y="401" width="3.4" height="11" fill="#3bffc4"/>
<rect x="98.9" y="401" width="3.4" height="11" fill="#0040ff"/>
<rect x="102.0" y="401" width="3.4" height="11" fill="#0015ff"/>
<rect x="105.2" y="401" width="2.7" height="11" fill="#0062ff"/>
<rect x="107.5" y="401" width="4.7" height="11" fill="#0039ff"/>
<rect x="111.9" y="401" width="1.9" height="11" fill="#0000a4"/>
<rect x="113.5" y="401" width="5.0" height="11" fill="#0039ff"/>
<rect x="118.2" y="401" width="2.7" height="11" fill="#00009e"/>
<rect x="120.6" y="401" width="11.3" height="11" fill="#004eff"/>
<rect x="131.5" y="401" width="17.6" height="11" fill="#00008c"/>
<rect x="148.8" y="401" width="1.4" height="11" fill="#0039ff"/>
<rect x="149.9" y="401" width="13.3" height="11" fill="#00008c"/>
<rect x="162.9" y="401" width="1.6" height="11" fill="#0010ff"/>
<rect x="164.2" y="401" width="75.0" height="11" fill="#000089"/>
<rect x="238.8" y="401" width="1.6" height="11" fill="#0010ff"/>
<rect x="240.1" y="401" width="13.3" height="11" fill="#00008c"/>
<rect x="253.1" y="401" width="1.4" height="11" fill="#0039ff"/>
<rect x="254.2" y="401" width="17.6" height="11" fill="#00008c"/>
<rect x="271.5" y="401" width="11.3" height="11" fill="#004eff"/>
<rect x="282.4" y="401" width="2.7" height="11" fill="#00009e"/>
<rect x="284.8" y="401" width="5.0" height="11" fill="#0039ff"/>
<rect x="289.5" y="401" width="1.9" height="11" fill="#0000a4"/>
<rect x="291.1" y="401" width="4.7" height="11" fill="#0039ff"/>
<rect x="295.5" y="401" width="2.7" height="11" fill="#0062ff"/>
<rect x="297.8" y="401" width="3.4" height="11" fill="#0015ff"/>
<rect x="300.9" y="401" width="3.4" height="11" fill="#0040ff"/>
<rect x="304.1" y="401" width="3.4" height="11" fill="#3bffc4"/>
<rect x="307.2" y="401" width="3.4" height="11" fill="#00c1ff"/>
<rect x="310.4" y="401" width="2.7" height="11" fill="#008bff"/>
<rect x="312.7" y="401" width="1.9" height="11" fill="#00f2ff"/>
<rect x="314.3" y="401" width="4.2" height="11" fill="#00b2ff"/>
<rect x="318.2" y="401" width="4.2" height="11" fill="#0069ff"/>
<rect x="322.1" y="401" width="2.7" height="11" fill="#0025ff"/>
<rect x="324.5" y="401" width="3.4" height="11" fill="#0077ff"/>
<rect x="327.6" y="401" width="5.8" height="11" fill="#00ddff"/>
<rect x="333.1" y="401" width="3.4" height="11" fill="#0077ff"/>
<rect x="336.2" y="401" width="5.0" height="11" fill="#1cffe3"/>
<rect x="340.9" y="401" width="9.4" height="11" fill="#00f2ff"/>
<rect x="55.4" y="390" width="7.7" height="11" fill="#45ffba"/>
<rect x="62.8" y="390" width="1.9" height="11" fill="#00a0ff"/>
<rect x="64.4" y="390" width="2.7" height="11" fill="#07fff8"/>
<rect x="66.7" y="390" width="3.4" height="11" fill="#00a0ff"/>
<rect x="69.9" y="390" width="3.4" height="11" fill="#1cffe3"/>
<rect x="73.0" y="390" width="1.9" height="11" fill="#00a0ff"/>
<rect x="74.6" y="390" width="3.4" height="11" fill="#07fff8"/>
<rect x="77.7" y="390" width="2.7" height="11" fill="#00b4ff"/>
<rect x="80.1" y="390" width="5.8" height="11" fill="#1cffe3"/>
<rect x="85.6" y="390" width="3.7" height="11" fill="#71ff8e"/>
<rect x="89.0" y="390" width="3.7" height="11" fill="#c6ff39"/>
<rect x="92.4" y="390" width="3.7" height="11" fill="#4affb5"/>
<rect x="95.8" y="390" width="2.7" height="11" fill="#07fff8"/>
<rect x="98.1" y="390" width="4.2" height="11" fill="#45ffba"/>
<rect x="102.0" y="390" width="3.4" height="11" fill="#07fff8"/>
<rect x="105.2" y="390" width="2.7" height="11" fill="#0077ff"/>
<rect x="107.5" y="390" width="21.2" height="11" fill="#004eff"/>
<rect x="128.4" y="390" width="5.0" height="11" fill="#0000a4"/>
<rect x="133.1" y="390" width="9.7" height="11" fill="#0062ff"/>
<rect x="142.5" y="390" width="23.0" height="11" fill="#0043ff"/>
<rect x="165.3" y="390" width="2.7" height="11" fill="#0000d2"/>
<rect x="167.6" y="390" width="28.5" height="11" fill="#000092"/>
<rect x="195.8" y="390" width="5.8" height="11" fill="#0000b7"/>
<rect x="201.3" y="390" width="0.6" height="11" fill="#000098"/>
<rect x="201.6" y="390" width="5.8" height="11" fill="#0000b7"/>
<rect x="207.1" y="390" width="28.5" height="11" fill="#000092"/>
<rect x="235.4" y="390" width="2.7" height="11" fill="#0000d2"/>
<rect x="237.7" y="390" width="23.0" height="11" fill="#0043ff"/>
<rect x="260.5" y="390" width="9.7" height="11" fill="#0062ff"/>
<rect x="269.9" y="390" width="5.0" height="11" fill="#0000a4"/>
<rect x="274.6" y="390" width="21.2" height="11" fill="#004eff"/>
<rect x="295.5" y="390" width="2.7" height="11" fill="#0077ff"/>
<rect x="297.8" y="390" width="3.4" height="11" fill="#07fff8"/>
<rect x="300.9" y="390" width="4.2" height="11" fill="#45ffba"/>
<rect x="304.9" y="390" width="2.7" height="11" fill="#07fff8"/>
<rect x="307.2" y="390" width="3.7" height="11" fill="#4affb5"/>
<rect x="310.6" y="390" width="3.7" height="11" fill="#c6ff39"/>
<rect x="314.0" y="390" width="3.7" height="11" fill="#71ff8e"/>
<rect x="317.4" y="390" width="5.8" height="11" fill="#1cffe3"/>
<rect x="322.9" y="390" width="2.7" height="11" fill="#00b4ff"/>
<rect x="325.3" y="390" width="3.4" height="11" fill="#07fff8"/>
<rect x="328.4" y="390" width="1.9" height="11" fill="#00a0ff"/>
<rect x="330.0" y="390" width="3.4" height="11" fill="#1cffe3"/>
<rect x="333.1" y="390" width="3.4" height="11" fill="#00a0ff"/>
<rect x="336.2" y="390" width="2.7" height="11" fill="#07fff8"/>
<rect x="338.6" y="390" width="1.9" height="11" fill="#00a0ff"/>
<rect x="340.2" y="390" width="10.2" height="11" fill="#45ffba"/>
<rect x="55.4" y="379" width="6.9" height="11" fill="#6eff91"/>
<rect x="62.0" y="379" width="4.2" height="11" fill="#97ff68"/>
<rect x="66.0" y="379" width="4.2" height="11" fill="#07fff8"/>
<rect x="69.9" y="379" width="2.3" height="11" fill="#00a0ff"/>
<rect x="71.9" y="379" width="2.2" height="11" fill="#00f2ff"/>
<rect x="73.8" y="379" width="4.2" height="11" fill="#0065ff"/>
<rect x="77.7" y="379" width="4.2" height="11" fill="#00aaff"/>
<rect x="81.6" y="379" width="5.0" height="11" fill="#07fff8"/>
<rect x="86.4" y="379" width="3.4" height="11" fill="#0080ff"/>
<rect x="89.5" y="379" width="3.4" height="11" fill="#00c0ff"/>
<rect x="92.6" y="379" width="3.4" height="11" fill="#007aff"/>
<rect x="95.8" y="379" width="2.7" height="11" fill="#59ffa6"/>
<rect x="98.1" y="379" width="3.4" height="11" fill="#4cffb3"/>
<rect x="101.3" y="379" width="3.4" height="11" fill="#00cfff"/>
<rect x="104.4" y="379" width="3.4" height="11" fill="#00b4ff"/>
<rect x="107.5" y="379" width="7.0" height="11" fill="#000098"/>
<rect x="114.3" y="379" width="12.8" height="11" fill="#0010ff"/>
<rect x="126.8" y="379" width="1.9" height="11" fill="#0000a4"/>
<rect x="128.4" y="379" width="2.7" height="11" fill="#0010ff"/>
<rect x="130.7" y="379" width="1.9" height="11" fill="#0000a4"/>
<rect x="132.3" y="379" width="2.7" height="11" fill="#0039ff"/>
<rect x="134.7" y="379" width="18.3" height="11" fill="#00008c"/>
<rect x="152.7" y="379" width="1.9" height="11" fill="#0039ff"/>
<rect x="154.3" y="379" width="94.7" height="11" fill="#000086"/>
<rect x="248.7" y="379" width="1.9" height="11" fill="#0039ff"/>
<rect x="250.3" y="379" width="18.3" height="11" fill="#00008c"/>
<rect x="268.3" y="379" width="2.7" height="11" fill="#0039ff"/>
<rect x="270.7" y="379" width="1.9" height="11" fill="#0000a4"/>
<rect x="272.2" y="379" width="2.7" height="11" fill="#0010ff"/>
<rect x="274.6" y="379" width="1.9" height="11" fill="#0000a4"/>
<rect x="276.2" y="379" width="12.8" height="11" fill="#0010ff"/>
<rect x="288.7" y="379" width="7.0" height="11" fill="#000098"/>
<rect x="295.5" y="379" width="3.4" height="11" fill="#00b4ff"/>
<rect x="298.6" y="379" width="3.4" height="11" fill="#00cfff"/>
<rect x="301.7" y="379" width="3.4" height="11" fill="#4cffb3"/>
<rect x="304.9" y="379" width="2.7" height="11" fill="#59ffa6"/>
<rect x="307.2" y="379" width="3.4" height="11" fill="#007aff"/>
<rect x="310.4" y="379" width="3.4" height="11" fill="#00c0ff"/>
<rect x="313.5" y="379" width="3.4" height="11" fill="#0080ff"/>
<rect x="316.6" y="379" width="5.0" height="11" fill="#07fff8"/>
<rect x="321.3" y="379" width="4.2" height="11" fill="#00aaff"/>
<rect x="325.3" y="379" width="4.2" height="11" fill="#0065ff"/>
<rect x="329.2" y="379" width="2.2" height="11" fill="#00f2ff"/>
<rect x="331.1" y="379" width="2.3" height="11" fill="#00a0ff"/>
<rect x="333.1" y="379" width="4.2" height="11" fill="#07fff8"/>
<rect x="337.0" y="379" width="4.2" height="11" fill="#97ff68"/>
<rect x="340.9" y="379" width="9.4" height="11" fill="#6eff91"/>
<rect x="55.4" y="368" width="6.9" height="11" fill="#abff54"/>
<rect x="62.0" y="368" width="2.7" height="11" fill="#07fff8"/>
<rect x="64.4" y="368" width="5.0" height="11" fill="#59ffa6"/>
<rect x="69.1" y="368" width="3.4" height="11" fill="#00ccff"/>
<rect x="72.2" y="368" width="3.4" height="11" fill="#6aff95"/>
<rect x="75.4" y="368" width="5.0" height="11" fill="#07fff8"/>
<rect x="80.1" y="368" width="3.4" height="11" fill="#82ff7d"/>
<rect x="83.2" y="368" width="3.8" height="11" fill="#ccff33"/>
<rect x="86.7" y="368" width="3.8" height="11" fill="#63ff9c"/>
<rect x="90.3" y="368" width="3.0" height="11" fill="#00c9ff"/>
<rect x="93.0" y="368" width="3.0" height="11" fill="#4effb1"/>
<rect x="95.8" y="368" width="3.4" height="11" fill="#00c9ff"/>
<rect x="98.9" y="368" width="3.4" height="11" fill="#30ffcf"/>
<rect x="102.0" y="368" width="3.0" height="11" fill="#0097ff"/>
<rect x="104.8" y="368" width="3.0" height="11" fill="#00fcff"/>
<rect x="107.5" y="368" width="11.0" height="11" fill="#004eff"/>
<rect x="118.2" y="368" width="5.0" height="11" fill="#000098"/>
<rect x="122.9" y="368" width="21.5" height="11" fill="#005eff"/>
<rect x="144.1" y="368" width="6.6" height="11" fill="#0000f0"/>
<rect x="150.4" y="368" width="17.6" height="11" fill="#0068ff"/>
<rect x="167.6" y="368" width="25.4" height="11" fill="#005eff"/>
<rect x="192.7" y="368" width="17.9" height="11" fill="#002fff"/>
<rect x="210.3" y="368" width="25.4" height="11" fill="#005eff"/>
<rect x="235.4" y="368" width="17.6" height="11" fill="#0068ff"/>
<rect x="252.6" y="368" width="6.6" height="11" fill="#0000f0"/>
<rect x="258.9" y="368" width="21.5" height="11" fill="#005eff"/>
<rect x="280.1" y="368" width="5.0" height="11" fill="#000098"/>
<rect x="284.8" y="368" width="11.0" height="11" fill="#004eff"/>
<rect x="295.5" y="368" width="3.0" height="11" fill="#00fcff"/>
<rect x="298.2" y="368" width="3.0" height="11" fill="#0097ff"/>
<rect x="300.9" y="368" width="3.4" height="11" fill="#30ffcf"/>
<rect x="304.1" y="368" width="3.4" height="11" fill="#00c9ff"/>
<rect x="307.2" y="368" width="3.0" height="11" fill="#4effb1"/>
<rect x="310.0" y="368" width="3.0" height="11" fill="#00c9ff"/>
<rect x="312.7" y="368" width="3.8" height="11" fill="#63ff9c"/>
<rect x="316.2" y="368" width="3.8" height="11" fill="#ccff33"/>
<rect x="319.8" y="368" width="3.4" height="11" fill="#82ff7d"/>
<rect x="322.9" y="368" width="5.0" height="11" fill="#07fff8"/>
<rect x="327.6" y="368" width="3.4" height="11" fill="#6aff95"/>
<rect x="330.8" y="368" width="3.4" height="11" fill="#00ccff"/>
<rect x="333.9" y="368" width="5.0" height="11" fill="#59ffa6"/>
<rect x="338.6" y="368" width="2.7" height="11" fill="#07fff8"/>
<rect x="340.9" y="368" width="9.4" height="11" fill="#abff54"/>
<rect x="55.4" y="357" width="7.7" height="11" fill="#45ffba"/>
<rect x="62.8" y="357" width="4.2" height="11" fill="#0077ff"/>
<rect x="66.7" y="357" width="4.0" height="11" fill="#e9ff16"/>
<rect x="70.5" y="357" width="4.0" height="11" fill="#4fffb0"/>
<rect x="74.2" y="357" width="4.0" height="11" fill="#e9ff16"/>
<rect x="77.9" y="357" width="4.0" height="11" fill="#6cff93"/>
<rect x="81.6" y="357" width="5.0" height="11" fill="#0025ff"/>
<rect x="86.4" y="357" width="4.2" height="11" fill="#004eff"/>
<rect x="90.3" y="357" width="4.2" height="11" fill="#0025ff"/>
<rect x="94.2" y="357" width="4.2" height="11" fill="#00b4ff"/>
<rect x="98.1" y="357" width="2.7" height="11" fill="#0077ff"/>
<rect x="100.5" y="357" width="3.4" height="11" fill="#00ddff"/>
<rect x="103.6" y="357" width="4.2" height="11" fill="#004eff"/>
<rect x="107.5" y="357" width="1.1" height="11" fill="#000092"/>
<rect x="108.3" y="357" width="1.1" height="11" fill="#0000e6"/>
<rect x="109.1" y="357" width="3.1" height="11" fill="#000092"/>
<rect x="111.9" y="357" width="1.9" height="11" fill="#0010ff"/>
<rect x="113.5" y="357" width="5.0" height="11" fill="#00009e"/>
<rect x="118.2" y="357" width="5.0" height="11" fill="#0010ff"/>
<rect x="122.9" y="357" width="8.9" height="11" fill="#0000b1"/>
<rect x="131.5" y="357" width="2.7" height="11" fill="#0039ff"/>
<rect x="133.9" y="357" width="26.2" height="11" fill="#00008c"/>
<rect x="159.8" y="357" width="2.7" height="11" fill="#0010ff"/>
<rect x="162.1" y="357" width="21.5" height="11" fill="#00008e"/>
<rect x="183.3" y="357" width="2.7" height="11" fill="#0000d2"/>
<rect x="185.7" y="357" width="32.0" height="11" fill="#000089"/>
<rect x="217.3" y="357" width="2.7" height="11" fill="#0000d2"/>
<rect x="219.7" y="357" width="21.5" height="11" fill="#00008e"/>
<rect x="240.9" y="357" width="2.7" height="11" fill="#0010ff"/>
<rect x="243.2" y="357" width="26.2" height="11" fill="#00008c"/>
<rect x="269.1" y="357" width="2.7" height="11" fill="#0039ff"/>
<rect x="271.5" y="357" width="8.9" height="11" fill="#0000b1"/>
<rect x="280.1" y="357" width="5.0" height="11" fill="#0010ff"/>
<rect x="284.8" y="357" width="5.0" height="11" fill="#00009e"/>
<rect x="289.5" y="357" width="1.9" height="11" fill="#0010ff"/>
<rect x="291.1" y="357" width="3.1" height="11" fill="#000092"/>
<rect x="293.9" y="357" width="1.1" height="11" fill="#0000e6"/>
<rect x="294.7" y="357" width="1.1" height="11" fill="#000092"/>
<rect x="295.5" y="357" width="4.2" height="11" fill="#004eff"/>
<rect x="299.4" y="357" width="3.4" height="11" fill="#00ddff"/>
<rect x="302.5" y="357" width="2.7" height="11" fill="#0077ff"/>
<rect x="304.9" y="357" width="4.2" height="11" fill="#00b4ff"/>
<rect x="308.8" y="357" width="4.2" height="11" fill="#0025ff"/>
<rect x="312.7" y="357" width="4.2" height="11" fill="#004eff"/>
<rect x="316.6" y="357" width="5.0" height="11" fill="#0025ff"/>
<rect x="321.3" y="357" width="4.0" height="11" fill="#6cff93"/>
<rect x="325.1" y="357" width="4.0" height="11" fill="#e9ff16"/>
<rect x="328.8" y="357" width="4.0" height="11" fill="#4fffb0"/>
<rect x="332.5" y="357" width="4.0" height="11" fill="#e9ff16"/>
<rect x="336.2" y="357" width="4.2" height="11" fill="#0077ff"/>
<rect x="340.2" y="357" width="10.2" height="11" fill="#45ffba"/>
<rect x="55.4" y="346" width="6.9" height="11" fill="#1cffe3"/>
<rect x="62.0" y="346" width="2.7" height="11" fill="#45ffba"/>
<rect x="64.4" y="346" width="2.7" height="11" fill="#07fff8"/>
<rect x="66.7" y="346" width="4.2" height="11" fill="#45ffba"/>
<rect x="70.7" y="346" width="3.8" height="11" fill="#00d2ff"/>
<rect x="74.2" y="346" width="3.8" height="11" fill="#23ffdc"/>
<rect x="77.7" y="346" width="3.8" height="11" fill="#00e0ff"/>
<rect x="81.3" y="346" width="3.8" height="11" fill="#32ffcd"/>
<rect x="84.8" y="346" width="3.0" height="11" fill="#0036ff"/>
<rect x="87.5" y="346" width="3.0" height="11" fill="#000dff"/>
<rect x="90.3" y="346" width="3.8" height="11" fill="#27ffd8"/>
<rect x="93.8" y="346" width="3.8" height="11" fill="#00acff"/>
<rect x="97.3" y="346" width="3.4" height="11" fill="#0077ff"/>
<rect x="100.5" y="346" width="3.8" height="11" fill="#0037ff"/>
<rect x="104.0" y="346" width="3.8" height="11" fill="#0064ff"/>
<rect x="107.5" y="346" width="2.3" height="11" fill="#0000a4"/>
<rect x="109.6" y="346" width="7.4" height="11" fill="#0039ff"/>
<rect x="116.6" y="346" width="20.7" height="11" fill="#00008c"/>
<rect x="137.0" y="346" width="2.7" height="11" fill="#0039ff"/>
<rect x="139.4" y="346" width="1.6" height="11" fill="#0000a4"/>
<rect x="140.7" y="346" width="1.6" height="11" fill="#0000a3"/>
<rect x="142.0" y="346" width="1.6" height="11" fill="#0000a1"/>
<rect x="143.3" y="346" width="1.6" height="11" fill="#0000a0"/>
<rect x="144.6" y="346" width="1.6" height="11" fill="#00009f"/>
<rect x="145.9" y="346" width="1.6" height="11" fill="#00009e"/>
<rect x="147.2" y="346" width="1.6" height="11" fill="#00009c"/>
<rect x="148.5" y="346" width="1.6" height="11" fill="#00009b"/>
<rect x="149.8" y="346" width="1.6" height="11" fill="#00009a"/>
<rect x="151.1" y="346" width="1.6" height="11" fill="#000099"/>
<rect x="152.4" y="346" width="1.6" height="11" fill="#000097"/>
<rect x="153.8" y="346" width="1.6" height="11" fill="#000096"/>
<rect x="155.1" y="346" width="1.6" height="11" fill="#000095"/>
<rect x="156.4" y="346" width="1.6" height="11" fill="#000094"/>
<rect x="157.7" y="346" width="1.6" height="11" fill="#000093"/>
<rect x="159.0" y="346" width="1.9" height="11" fill="#0010ff"/>
<rect x="160.6" y="346" width="82.2" height="11" fill="#000086"/>
<rect x="242.4" y="346" width="1.9" height="11" fill="#0010ff"/>
<rect x="244.0" y="346" width="1.6" height="11" fill="#000093"/>
<rect x="245.3" y="346" width="1.6" height="11" fill="#000094"/>
<rect x="246.6" y="346" width="1.6" height="11" fill="#000095"/>
<rect x="247.9" y="346" width="1.6" height="11" fill="#000096"/>
<rect x="249.2" y="346" width="1.6" height="11" fill="#000097"/>
<rect x="250.5" y="346" width="1.6" height="11" fill="#000099"/>
<rect x="251.8" y="346" width="1.6" height="11" fill="#00009a"/>
<rect x="253.2" y="346" width="1.6" height="11" fill="#00009b"/>
<rect x="254.5" y="346" width="1.6" height="11" fill="#00009c"/>
<rect x="255.8" y="346" width="1.6" height="11" fill="#00009e"/>
<rect x="257.1" y="346" width="1.6" height="11" fill="#00009f"/>
<rect x="258.4" y="346" width="1.6" height="11" fill="#0000a0"/>
<rect x="259.7" y="346" width="1.6" height="11" fill="#0000a1"/>
<rect x="261.0" y="346" width="1.6" height="11" fill="#0000a3"/>
<rect x="262.3" y="346" width="1.6" height="11" fill="#0000a4"/>
<rect x="263.6" y="346" width="2.7" height="11" fill="#0039ff"/>
<rect x="266.0" y="346" width="20.7" height="11" fill="#00008c"/>
<rect x="286.4" y="346" width="7.4" height="11" fill="#0039ff"/>
<rect x="293.4" y="346" width="2.3" height="11" fill="#0000a4"/>
<rect x="295.5" y="346" width="3.8" height="11" fill="#0064ff"/>
<rect x="299.0" y="346" width="3.8" height="11" fill="#0037ff"/>
<rect x="302.5" y="346" width="3.4" height="11" fill="#0077ff"/>
<rect x="305.7" y="346" width="3.8" height="11" fill="#00acff"/>
<rect x="309.2" y="346" width="3.8" height="11" fill="#27ffd8"/>
<rect x="312.7" y="346" width="3.0" height="11" fill="#000dff"/>
<rect x="315.5" y="346" width="3.0" height="11" fill="#0036ff"/>
<rect x="318.2" y="346" width="3.8" height="11" fill="#32ffcd"/>
<rect x="321.7" y="346" width="3.8" height="11" fill="#00e0ff"/>
<rect x="325.3" y="346" width="3.8" height="11" fill="#23ffdc"/>
<rect x="328.8" y="346" width="3.8" height="11" fill="#00d2ff"/>
<rect x="332.3" y="346" width="4.2" height="11" fill="#45ffba"/>
<rect x="336.2" y="346" width="2.7" height="11" fill="#07fff8"/>
<rect x="338.6" y="346" width="2.7" height="11" fill="#45ffba"/>
<rect x="340.9" y="346" width="9.4" height="11" fill="#1cffe3"/>
<rect x="55.4" y="335" width="6.9" height="11" fill="#ffd800"/>
<rect x="62.0" y="335" width="2.7" height="11" fill="#bbff44"/>
<rect x="64.4" y="335" width="2.7" height="11" fill="#5dffa2"/>
<rect x="66.7" y="335" width="3.0" height="11" fill="#35ffca"/>
<rect x="69.5" y="335" width="3.0" height="11" fill="#00e1ff"/>
<rect x="72.2" y="335" width="2.7" height="11" fill="#57ffa8"/>
<rect x="74.6" y="335" width="2.7" height="11" fill="#e9ff16"/>
<rect x="76.9" y="335" width="1.9" height="11" fill="#07fff8"/>
<rect x="78.5" y="335" width="3.4" height="11" fill="#e9ff16"/>
<rect x="81.6" y="335" width="3.4" height="11" fill="#5bffa4"/>
<rect x="84.8" y="335" width="4.2" height="11" fill="#6eff91"/>
<rect x="88.7" y="335" width="3.8" height="11" fill="#00deff"/>
<rect x="92.2" y="335" width="3.8" height="11" fill="#81ff7e"/>
<rect x="95.8" y="335" width="2.9" height="11" fill="#42ffbd"/>
<rect x="98.4" y="335" width="2.9" height="11" fill="#b5ff4a"/>
<rect x="101.0" y="335" width="2.9" height="11" fill="#3dffc2"/>
<rect x="103.6" y="335" width="2.7" height="11" fill="#07fff8"/>
<rect x="106.0" y="335" width="1.9" height="11" fill="#0077ff"/>
<rect x="107.5" y="335" width="2.3" height="11" fill="#0039ff"/>
<rect x="109.6" y="335" width="8.9" height="11" fill="#004eff"/>
<rect x="118.2" y="335" width="12.8" height="11" fill="#0000e6"/>
<rect x="130.7" y="335" width="3.4" height="11" fill="#0039ff"/>
<rect x="133.9" y="335" width="1.9" height="11" fill="#0058ff"/>
<rect x="135.5" y="335" width="2.7" height="11" fill="#0039ff"/>
<rect x="137.8" y="335" width="8.9" height="11" fill="#0000e6"/>
<rect x="146.4" y="335" width="1.9" height="11" fill="#0039ff"/>
<rect x="148.0" y="335" width="17.6" height="11" fill="#0000dc"/>
<rect x="165.3" y="335" width="1.9" height="11" fill="#002fff"/>
<rect x="166.8" y="335" width="16.8" height="11" fill="#000098"/>
<rect x="183.3" y="335" width="2.7" height="11" fill="#0039ff"/>
<rect x="185.7" y="335" width="13.6" height="11" fill="#0000d2"/>
<rect x="199.0" y="335" width="1.9" height="11" fill="#0000fb"/>
<rect x="200.6" y="335" width="2.2" height="11" fill="#000098"/>
<rect x="202.4" y="335" width="1.9" height="11" fill="#0000fb"/>
<rect x="204.0" y="335" width="13.6" height="11" fill="#0000d2"/>
<rect x="217.3" y="335" width="2.7" height="11" fill="#0039ff"/>
<rect x="219.7" y="335" width="16.8" height="11" fill="#000098"/>
<rect x="236.2" y="335" width="1.9" height="11" fill="#002fff"/>
<rect x="237.7" y="335" width="17.6" height="11" fill="#0000dc"/>
<rect x="255.0" y="335" width="1.9" height="11" fill="#0039ff"/>
<rect x="256.6" y="335" width="8.9" height="11" fill="#0000e6"/>
<rect x="265.2" y="335" width="2.7" height="11" fill="#0039ff"/>
<rect x="267.5" y="335" width="1.9" height="11" fill="#0058ff"/>
<rect x="269.1" y="335" width="3.4" height="11" fill="#0039ff"/>
<rect x="272.2" y="335" width="12.8" height="11" fill="#0000e6"/>
<rect x="284.8" y="335" width="8.9" height="11" fill="#004eff"/>
<rect x="293.4" y="335" width="2.3" height="11" fill="#0039ff"/>
<rect x="295.5" y="335" width="1.9" height="11" fill="#0077ff"/>
<rect x="297.0" y="335" width="2.7" height="11" fill="#07fff8"/>
<rect x="299.4" y="335" width="2.9" height="11" fill="#3dffc2"/>
<rect x="302.0" y="335" width="2.9" height="11" fill="#b5ff4a"/>
<rect x="304.6" y="335" width="2.9" height="11" fill="#42ffbd"/>
<rect x="307.2" y="335" width="3.8" height="11" fill="#81ff7e"/>
<rect x="310.8" y="335" width="3.8" height="11" fill="#00deff"/>
<rect x="314.3" y="335" width="4.2" height="11" fill="#6eff91"/>
<rect x="318.2" y="335" width="3.4" height="11" fill="#5bffa4"/>
<rect x="321.3" y="335" width="3.4" height="11" fill="#e9ff16"/>
<rect x="324.5" y="335" width="1.9" height="11" fill="#07fff8"/>
<rect x="326.0" y="335" width="2.7" height="11" fill="#e9ff16"/>
<rect x="328.4" y="335" width="2.7" height="11" fill="#57ffa8"/>
<rect x="330.8" y="335" width="3.0" height="11" fill="#00e1ff"/>
<rect x="333.5" y="335" width="3.0" height="11" fill="#35ffca"/>
<rect x="336.2" y="335" width="2.7" height="11" fill="#5dffa2"/>
<rect x="338.6" y="335" width="2.7" height="11" fill="#bbff44"/>
<rect x="340.9" y="335" width="9.4" height="11" fill="#ffd800"/>
<rect x="55.4" y="323" width="7.7" height="12" fill="#07fff8"/>
<rect x="62.8" y="323" width="1.9" height="12" fill="#008bff"/>
<rect x="64.4" y="323" width="2.9" height="12" fill="#00eeff"/>
<rect x="67.0" y="323" width="2.9" height="12" fill="#55ffaa"/>
<rect x="69.6" y="323" width="2.9" height="12" fill="#00d3ff"/>
<rect x="72.2" y="323" width="2.7" height="12" fill="#0077ff"/>
<rect x="74.6" y="323" width="3.8" height="12" fill="#1cffe3"/>
<rect x="78.0" y="323" width="1.2" height="12" fill="#abff54"/>
<rect x="79.0" y="323" width="1.4" height="12" fill="#1cffe3"/>
<rect x="80.1" y="323" width="2.7" height="12" fill="#008bff"/>
<rect x="82.4" y="323" width="3.0" height="12" fill="#72ff8d"/>
<rect x="85.2" y="323" width="3.0" height="12" fill="#00ebff"/>
<rect x="87.9" y="323" width="2.7" height="12" fill="#008bff"/>
<rect x="90.3" y="323" width="4.2" height="12" fill="#07fff8"/>
<rect x="94.2" y="323" width="2.7" height="12" fill="#0077ff"/>
<rect x="96.6" y="323" width="3.8" height="12" fill="#3cffc3"/>
<rect x="100.1" y="323" width="3.8" height="12" fill="#00c6ff"/>
<rect x="103.6" y="323" width="2.7" height="12" fill="#0025ff"/>
<rect x="106.0" y="323" width="1.9" height="12" fill="#0062ff"/>
<rect x="107.5" y="323" width="2.2" height="12" fill="#0031ff"/>
<rect x="109.4" y="323" width="2.8" height="12" fill="#0000d5"/>
<rect x="111.9" y="323" width="1.5" height="12" fill="#0018ff"/>
<rect x="113.1" y="323" width="1.4" height="12" fill="#0000b7"/>
<rect x="114.3" y="323" width="2.7" height="12" fill="#0000b1"/>
<rect x="116.6" y="323" width="4.2" height="12" fill="#0039ff"/>
<rect x="120.6" y="323" width="1.9" height="12" fill="#0000b1"/>
<rect x="122.1" y="323" width="5.0" height="12" fill="#0010ff"/>
<rect x="126.8" y="323" width="8.1" height="12" fill="#000092"/>
<rect x="134.7" y="323" width="1.9" height="12" fill="#0010ff"/>
<rect x="136.2" y="323" width="2.7" height="12" fill="#0000a4"/>
<rect x="138.6" y="323" width="1.9" height="12" fill="#0010ff"/>
<rect x="140.2" y="323" width="6.6" height="12" fill="#00008e"/>
<rect x="146.4" y="323" width="1.4" height="12" fill="#0010ff"/>
<rect x="147.5" y="323" width="6.3" height="12" fill="#00008c"/>
<rect x="153.5" y="323" width="1.6" height="12" fill="#0000fb"/>
<rect x="154.7" y="323" width="6.9" height="12" fill="#00008c"/>
<rect x="161.3" y="323" width="1.9" height="12" fill="#0000fb"/>
<rect x="162.9" y="323" width="77.5" height="12" fill="#000086"/>
<rect x="240.1" y="323" width="1.9" height="12" fill="#0000fb"/>
<rect x="241.7" y="323" width="6.9" height="12" fill="#00008c"/>
<rect x="248.2" y="323" width="1.6" height="12" fill="#0000fb"/>
<rect x="249.5" y="323" width="6.3" height="12" fill="#00008c"/>
<rect x="255.5" y="323" width="1.4" height="12" fill="#0010ff"/>
<rect x="256.6" y="323" width="6.6" height="12" fill="#00008e"/>
<rect x="262.8" y="323" width="1.9" height="12" fill="#0010ff"/>
<rect x="264.4" y="323" width="2.7" height="12" fill="#0000a4"/>
<rect x="266.7" y="323" width="1.9" height="12" fill="#0010ff"/>
<rect x="268.3" y="323" width="8.1" height="12" fill="#000092"/>
<rect x="276.2" y="323" width="5.0" height="12" fill="#0010ff"/>
<rect x="280.9" y="323" width="1.9" height="12" fill="#0000b1"/>
<rect x="282.4" y="323" width="4.2" height="12" fill="#0039ff"/>
<rect x="286.4" y="323" width="2.7" height="12" fill="#0000b1"/>
<rect x="288.7" y="323" width="1.4" height="12" fill="#0000b7"/>
<rect x="289.9" y="323" width="1.5" height="12" fill="#0018ff"/>
<rect x="291.1" y="323" width="2.8" height="12" fill="#0000d5"/>
<rect x="293.6" y="323" width="2.2" height="12" fill="#0031ff"/>
<rect x="295.5" y="323" width="1.9" height="12" fill="#0062ff"/>
<rect x="297.0" y="323" width="2.7" height="12" fill="#0025ff"/>
<rect x="299.4" y="323" width="3.8" height="12" fill="#00c6ff"/>
<rect x="302.9" y="323" width="3.8" height="12" fill="#3cffc3"/>
<rect x="306.4" y="323" width="2.7" height="12" fill="#0077ff"/>
<rect x="308.8" y="323" width="4.2" height="12" fill="#07fff8"/>
<rect x="312.7" y="323" width="2.7" height="12" fill="#008bff"/>
<rect x="315.1" y="323" width="3.0" height="12" fill="#00ebff"/>
<rect x="317.8" y="323" width="3.0" height="12" fill="#72ff8d"/>
<rect x="320.6" y="323" width="2.7" height="12" fill="#008bff"/>
<rect x="322.9" y="323" width="1.4" height="12" fill="#1cffe3"/>
<rect x="324.0" y="323" width="1.2" height="12" fill="#abff54"/>
<rect x="324.9" y="323" width="3.8" height="12" fill="#1cffe3"/>
<rect x="328.4" y="323" width="2.7" height="12" fill="#0077ff"/>
<rect x="330.8" y="323" width="2.9" height="12" fill="#00d3ff"/>
<rect x="333.4" y="323" width="2.9" height="12" fill="#55ffaa"/>
<rect x="336.0" y="323" width="2.9" height="12" fill="#00eeff"/>
<rect x="338.6" y="323" width="1.9" height="12" fill="#008bff"/>
<rect x="340.2" y="323" width="10.2" height="12" fill="#07fff8"/>
<rect x="55.4" y="312" width="6.9" height="11" fill="#ff9a00"/>
<rect x="62.0" y="312" width="1.9" height="11" fill="#e9ff16"/>
<rect x="63.6" y="312" width="3.4" height="11" fill="#07fff8"/>
<rect x="66.7" y="312" width="2.7" height="11" fill="#008bff"/>
<rect x="69.1" y="312" width="2.7" height="11" fill="#cfff30"/>
<rect x="71.5" y="312" width="2.7" height="11" fill="#73ff8c"/>
<rect x="73.8" y="312" width="2.7" height="11" fill="#e9ff16"/>
<rect x="76.2" y="312" width="1.9" height="11" fill="#07fff8"/>
<rect x="77.7" y="312" width="2.7" height="11" fill="#abff54"/>
<rect x="80.1" y="312" width="3.4" height="11" fill="#34ffcb"/>
<rect x="83.2" y="312" width="3.4" height="11" fill="#00dbff"/>
<rect x="86.4" y="312" width="3.4" height="11" fill="#abff54"/>
<rect x="89.5" y="312" width="3.4" height="11" fill="#07fff8"/>
<rect x="92.6" y="312" width="2.7" height="11" fill="#abff54"/>
<rect x="95.0" y="312" width="2.7" height="11" fill="#21ffde"/>
<rect x="97.3" y="312" width="2.7" height="11" fill="#00dbff"/>
<rect x="99.7" y="312" width="2.7" height="11" fill="#2fffd0"/>
<rect x="102.0" y="312" width="3.0" height="11" fill="#0094ff"/>
<rect x="104.8" y="312" width="3.0" height="11" fill="#00e7ff"/>
<rect x="107.5" y="312" width="7.0" height="11" fill="#002fff"/>
<rect x="114.3" y="312" width="8.1" height="11" fill="#0000dc"/>
<rect x="122.1" y="312" width="12.8" height="11" fill="#0000f0"/>
<rect x="134.7" y="312" width="12.1" height="11" fill="#004eff"/>
<rect x="146.4" y="312" width="3.4" height="11" fill="#0000a4"/>
<rect x="149.6" y="312" width="26.2" height="11" fill="#0062ff"/>
<rect x="175.5" y="312" width="52.4" height="11" fill="#004eff"/>
<rect x="227.5" y="312" width="26.2" height="11" fill="#0062ff"/>
<rect x="253.4" y="312" width="3.4" height="11" fill="#0000a4"/>
<rect x="256.6" y="312" width="12.1" height="11" fill="#004eff"/>
<rect x="268.3" y="312" width="12.8" height="11" fill="#0000f0"/>
<rect x="280.9" y="312" width="8.1" height="11" fill="#0000dc"/>
<rect x="288.7" y="312" width="7.0" height="11" fill="#002fff"/>
<rect x="295.5" y="312" width="3.0" height="11" fill="#00e7ff"/>
<rect x="298.2" y="312" width="3.0" height="11" fill="#0094ff"/>
<rect x="300.9" y="312" width="2.7" height="11" fill="#2fffd0"/>
<rect x="303.3" y="312" width="2.7" height="11" fill="#00dbff"/>
<rect x="305.7" y="312" width="2.7" height="11" fill="#21ffde"/>
<rect x="308.0" y="312" width="2.7" height="11" fill="#abff54"/>
<rect x="310.4" y="312" width="3.4" height="11" fill="#07fff8"/>
<rect x="313.5" y="312" width="3.4" height="11" fill="#abff54"/>
<rect x="316.6" y="312" width="3.4" height="11" fill="#00dbff"/>
<rect x="319.8" y="312" width="3.4" height="11" fill="#34ffcb"/>
<rect x="322.9" y="312" width="2.7" height="11" fill="#abff54"/>
<rect x="325.3" y="312" width="1.9" height="11" fill="#07fff8"/>
<rect x="326.8" y="312" width="2.7" height="11" fill="#e9ff16"/>
<rect x="329.2" y="312" width="2.7" height="11" fill="#73ff8c"/>
<rect x="331.5" y="312" width="2.7" height="11" fill="#cfff30"/>
<rect x="333.9" y="312" width="2.7" height="11" fill="#008bff"/>
<rect x="336.2" y="312" width="3.4" height="11" fill="#07fff8"/>
<rect x="339.4" y="312" width="1.9" height="11" fill="#e9ff16"/>
<rect x="340.9" y="312" width="9.4" height="11" fill="#ff9a00"/>
<rect x="55.4" y="301" width="6.9" height="11" fill="#c0ff3f"/>
<rect x="62.0" y="301" width="2.7" height="11" fill="#07fff8"/>
<rect x="64.4" y="301" width="2.7" height="11" fill="#008bff"/>
<rect x="66.7" y="301" width="2.3" height="11" fill="#59ffa6"/>
<rect x="68.7" y="301" width="2.3" height="11" fill="#00deff"/>
<rect x="70.7" y="301" width="3.4" height="11" fill="#00f2ff"/>
<rect x="73.8" y="301" width="2.3" height="11" fill="#0049ff"/>
<rect x="75.8" y="301" width="2.3" height="11" fill="#008cff"/>
<rect x="77.7" y="301" width="2.7" height="11" fill="#07fff8"/>
<rect x="80.1" y="301" width="3.4" height="11" fill="#30ffcf"/>
<rect x="83.2" y="301" width="2.7" height="11" fill="#0077ff"/>
<rect x="85.6" y="301" width="3.4" height="11" fill="#30ffcf"/>
<rect x="88.7" y="301" width="2.7" height="11" fill="#0036ff"/>
<rect x="91.1" y="301" width="2.7" height="11" fill="#007eff"/>
<rect x="93.4" y="301" width="2.7" height="11" fill="#37ffc8"/>
<rect x="95.8" y="301" width="2.7" height="11" fill="#00b8ff"/>
<rect x="98.1" y="301" width="2.7" height="11" fill="#30ffcf"/>
<rect x="100.5" y="301" width="2.7" height="11" fill="#008bff"/>
<rect x="102.8" y="301" width="2.7" height="11" fill="#0019ff"/>
<rect x="105.2" y="301" width="2.7" height="11" fill="#0000f4"/>
<rect x="107.5" y="301" width="1.6" height="11" fill="#0000b1"/>
<rect x="108.8" y="301" width="5.8" height="11" fill="#0000fb"/>
<rect x="114.3" y="301" width="1.8" height="11" fill="#0034ff"/>
<rect x="115.8" y="301" width="2.2" height="11" fill="#0000b5"/>
<rect x="117.7" y="301" width="1.5" height="11" fill="#0038ff"/>
<rect x="118.9" y="301" width="1.8" height="11" fill="#0000b4"/>
<rect x="120.4" y="301" width="1.7" height="11" fill="#0034ff"/>
<rect x="121.8" y="301" width="1.4" height="11" fill="#0000ae"/>
<rect x="122.9" y="301" width="8.1" height="11" fill="#0000b1"/>
<rect x="130.7" y="301" width="1.9" height="11" fill="#0000fb"/>
<rect x="132.3" y="301" width="4.2" height="11" fill="#0000b1"/>
<rect x="136.2" y="301" width="1.9" height="11" fill="#0000fb"/>
<rect x="137.8" y="301" width="8.1" height="11" fill="#0000b1"/>
<rect x="145.7" y="301" width="1.9" height="11" fill="#0039ff"/>
<rect x="147.2" y="301" width="10.5" height="11" fill="#00008c"/>
<rect x="157.4" y="301" width="1.4" height="11" fill="#0000e6"/>
<rect x="158.5" y="301" width="4.7" height="11" fill="#00008c"/>
<rect x="162.9" y="301" width="1.6" height="11" fill="#0000e6"/>
<rect x="164.2" y="301" width="8.5" height="11" fill="#00008c"/>
<rect x="172.3" y="301" width="1.4" height="11" fill="#0010ff"/>
<rect x="173.4" y="301" width="56.5" height="11" fill="#000086"/>
<rect x="229.6" y="301" width="1.4" height="11" fill="#0010ff"/>
<rect x="230.7" y="301" width="8.5" height="11" fill="#00008c"/>
<rect x="238.8" y="301" width="1.6" height="11" fill="#0000e6"/>
<rect x="240.1" y="301" width="4.7" height="11" fill="#00008c"/>
<rect x="244.5" y="301" width="1.4" height="11" fill="#0000e6"/>
<rect x="245.6" y="301" width="10.5" height="11" fill="#00008c"/>
<rect x="255.8" y="301" width="1.9" height="11" fill="#0039ff"/>
<rect x="257.3" y="301" width="8.1" height="11" fill="#0000b1"/>
<rect x="265.2" y="301" width="1.9" height="11" fill="#0000fb"/>
<rect x="266.7" y="301" width="4.2" height="11" fill="#0000b1"/>
<rect x="270.7" y="301" width="1.9" height="11" fill="#0000fb"/>
<rect x="272.2" y="301" width="8.1" height="11" fill="#0000b1"/>
<rect x="280.1" y="301" width="1.4" height="11" fill="#0000ae"/>
<rect x="281.2" y="301" width="1.7" height="11" fill="#0034ff"/>
<rect x="282.6" y="301" width="1.8" height="11" fill="#0000b4"/>
<rect x="284.1" y="301" width="1.5" height="11" fill="#0038ff"/>
<rect x="285.3" y="301" width="2.2" height="11" fill="#0000b5"/>
<rect x="287.2" y="301" width="1.8" height="11" fill="#0034ff"/>
<rect x="288.7" y="301" width="5.8" height="11" fill="#0000fb"/>
<rect x="294.2" y="301" width="1.6" height="11" fill="#0000b1"/>
<rect x="295.5" y="301" width="2.7" height="11" fill="#0000f4"/>
<rect x="297.8" y="301" width="2.7" height="11" fill="#0019ff"/>
<rect x="300.2" y="301" width="2.7" height="11" fill="#008bff"/>
<rect x="302.5" y="301" width="2.7" height="11" fill="#30ffcf"/>
<rect x="304.9" y="301" width="2.7" height="11" fill="#00b8ff"/>
<rect x="307.2" y="301" width="2.7" height="11" fill="#37ffc8"/>
<rect x="309.6" y="301" width="2.7" height="11" fill="#007eff"/>
<rect x="311.9" y="301" width="2.7" height="11" fill="#0036ff"/>
<rect x="314.3" y="301" width="3.4" height="11" fill="#30ffcf"/>
<rect x="317.4" y="301" width="2.7" height="11" fill="#0077ff"/>
<rect x="319.8" y="301" width="3.4" height="11" fill="#30ffcf"/>
<rect x="322.9" y="301" width="2.7" height="11" fill="#07fff8"/>
<rect x="325.3" y="301" width="2.3" height="11" fill="#008cff"/>
<rect x="327.2" y="301" width="2.3" height="11" fill="#0049ff"/>
<rect x="329.2" y="301" width="3.4" height="11" fill="#00f2ff"/>
<rect x="332.3" y="301" width="2.3" height="11" fill="#00deff"/>
<rect x="334.3" y="301" width="2.3" height="11" fill="#59ffa6"/>
<rect x="336.2" y="301" width="2.7" height="11" fill="#008bff"/>
<rect x="338.6" y="301" width="2.7" height="11" fill="#07fff8"/>
<rect x="340.9" y="301" width="9.4" height="11" fill="#c0ff3f"/>
<rect x="55.4" y="290" width="6.9" height="11" fill="#ffd800"/>
<rect x="62.0" y="290" width="2.7" height="11" fill="#07fff8"/>
<rect x="64.4" y="290" width="2.7" height="11" fill="#008bff"/>
<rect x="66.7" y="290" width="2.7" height="11" fill="#07fff8"/>
<rect x="69.1" y="290" width="2.7" height="11" fill="#40ffbf"/>
<rect x="71.5" y="290" width="2.7" height="11" fill="#e9ff16"/>
<rect x="73.8" y="290" width="2.7" height="11" fill="#d4ff2b"/>
<rect x="76.2" y="290" width="2.7" height="11" fill="#6eff91"/>
<rect x="78.5" y="290" width="2.7" height="11" fill="#07fff8"/>
<rect x="80.9" y="290" width="3.4" height="11" fill="#6eff91"/>
<rect x="84.0" y="290" width="2.7" height="11" fill="#e9ff16"/>
<rect x="86.4" y="290" width="2.7" height="11" fill="#77ff88"/>
<rect x="88.7" y="290" width="1.9" height="11" fill="#07fff8"/>
<rect x="90.3" y="290" width="3.4" height="11" fill="#97ff68"/>
<rect x="93.4" y="290" width="3.4" height="11" fill="#07fff8"/>
<rect x="96.6" y="290" width="3.0" height="11" fill="#c5ff3a"/>
<rect x="99.3" y="290" width="3.0" height="11" fill="#60ff9f"/>
<rect x="102.0" y="290" width="3.0" height="11" fill="#3bffc4"/>
<rect x="104.8" y="290" width="3.0" height="11" fill="#00abff"/>
<rect x="107.5" y="290" width="7.8" height="11" fill="#0039ff"/>
<rect x="115.1" y="290" width="1.1" height="11" fill="#0000b1"/>
<rect x="115.8" y="290" width="2.7" height="11" fill="#0039ff"/>
<rect x="118.2" y="290" width="3.9" height="11" fill="#000098"/>
<rect x="121.8" y="290" width="21.8" height="11" fill="#0058ff"/>
<rect x="143.3" y="290" width="10.5" height="11" fill="#0000fb"/>
<rect x="153.5" y="290" width="20.7" height="11" fill="#0058ff"/>
<rect x="173.9" y="290" width="1.6" height="11" fill="#0000b7"/>
<rect x="175.2" y="290" width="1.6" height="11" fill="#0000ab"/>
<rect x="176.5" y="290" width="2.9" height="11" fill="#00009e"/>
<rect x="179.1" y="290" width="1.6" height="11" fill="#0000ab"/>
<rect x="180.4" y="290" width="1.6" height="11" fill="#0000b7"/>
<rect x="181.7" y="290" width="17.6" height="11" fill="#004eff"/>
<rect x="199.0" y="290" width="5.3" height="11" fill="#0010ff"/>
<rect x="204.0" y="290" width="17.6" height="11" fill="#004eff"/>
<rect x="221.3" y="290" width="1.6" height="11" fill="#0000b7"/>
<rect x="222.6" y="290" width="1.6" height="11" fill="#0000ab"/>
<rect x="223.9" y="290" width="2.9" height="11" fill="#00009e"/>
<rect x="226.5" y="290" width="1.6" height="11" fill="#0000ab"/>
<rect x="227.8" y="290" width="1.6" height="11" fill="#0000b7"/>
<rect x="229.1" y="290" width="20.7" height="11" fill="#0058ff"/>
<rect x="249.5" y="290" width="10.5" height="11" fill="#0000fb"/>
<rect x="259.7" y="290" width="21.8" height="11" fill="#0058ff"/>
<rect x="281.2" y="290" width="3.9" height="11" fill="#000098"/>
<rect x="284.8" y="290" width="2.7" height="11" fill="#0039ff"/>
<rect x="287.1" y="290" width="1.1" height="11" fill="#0000b1"/>
<rect x="287.9" y="290" width="7.8" height="11" fill="#0039ff"/>
<rect x="295.5" y="290" width="3.0" height="11" fill="#00abff"/>
<rect x="298.2" y="290" width="3.0" height="11" fill="#3bffc4"/>
<rect x="300.9" y="290" width="3.0" height="11" fill="#60ff9f"/>
<rect x="303.7" y="290" width="3.0" height="11" fill="#c5ff3a"/>
<rect x="306.4" y="290" width="3.4" height="11" fill="#07fff8"/>
<rect x="309.6" y="290" width="3.4" height="11" fill="#97ff68"/>
<rect x="312.7" y="290" width="1.9" height="11" fill="#07fff8"/>
<rect x="314.3" y="290" width="2.7" height="11" fill="#77ff88"/>
<rect x="316.6" y="290" width="2.7" height="11" fill="#e9ff16"/>
<rect x="319.0" y="290" width="3.4" height="11" fill="#6eff91"/>
<rect x="322.1" y="290" width="2.7" height="11" fill="#07fff8"/>
<rect x="324.5" y="290" width="2.7" height="11" fill="#6eff91"/>
<rect x="326.8" y="290" width="2.7" height="11" fill="#d4ff2b"/>
<rect x="329.2" y="290" width="2.7" height="11" fill="#e9ff16"/>
<rect x="331.5" y="290" width="2.7" height="11" fill="#40ffbf"/>
<rect x="333.9" y="290" width="2.7" height="11" fill="#07fff8"/>
<rect x="336.2" y="290" width="2.7" height="11" fill="#008bff"/>
<rect x="338.6" y="290" width="2.7" height="11" fill="#07fff8"/>
<rect x="340.9" y="290" width="9.4" height="11" fill="#ffd800"/>
<rect x="55.4" y="279" width="7.7" height="11" fill="#97ff68"/>
<rect x="62.8" y="279" width="3.4" height="11" fill="#6eff91"/>
<rect x="66.0" y="279" width="3.4" height="11" fill="#00b4ff"/>
<rect x="69.1" y="279" width="3.4" height="11" fill="#00a0ff"/>
<rect x="72.2" y="279" width="3.4" height="11" fill="#00f2ff"/>
<rect x="75.4" y="279" width="3.4" height="11" fill="#45ffba"/>
<rect x="78.5" y="279" width="2.7" height="11" fill="#008bff"/>
<rect x="80.9" y="279" width="2.7" height="11" fill="#004eff"/>
<rect x="83.2" y="279" width="2.7" height="11" fill="#00d4ff"/>
<rect x="85.6" y="279" width="2.7" height="11" fill="#3affc5"/>
<rect x="87.9" y="279" width="2.7" height="11" fill="#00cdff"/>
<rect x="90.3" y="279" width="1.9" height="11" fill="#008bff"/>
<rect x="91.8" y="279" width="2.8" height="11" fill="#00c1ff"/>
<rect x="94.4" y="279" width="2.8" height="11" fill="#37ffc8"/>
<rect x="96.9" y="279" width="2.8" height="11" fill="#00a8ff"/>
<rect x="99.5" y="279" width="2.8" height="11" fill="#3cffc3"/>
<rect x="102.0" y="279" width="3.4" height="11" fill="#004eff"/>
<rect x="105.2" y="279" width="2.7" height="11" fill="#0000fb"/>
<rect x="107.5" y="279" width="1.5" height="11" fill="#00009d"/>
<rect x="108.8" y="279" width="2.8" height="11" fill="#0000db"/>
<rect x="111.2" y="279" width="1.8" height="11" fill="#000096"/>
<rect x="112.7" y="279" width="1.9" height="11" fill="#0010ff"/>
<rect x="114.3" y="279" width="2.7" height="11" fill="#0000a4"/>
<rect x="116.6" y="279" width="1.9" height="11" fill="#0010ff"/>
<rect x="118.2" y="279" width="2.7" height="11" fill="#0000a4"/>
<rect x="120.6" y="279" width="5.0" height="11" fill="#0010ff"/>
<rect x="125.3" y="279" width="10.5" height="11" fill="#000092"/>
<rect x="135.5" y="279" width="3.4" height="11" fill="#0010ff"/>
<rect x="138.6" y="279" width="9.7" height="11" fill="#0000b1"/>
<rect x="148.0" y="279" width="1.4" height="11" fill="#0010ff"/>
<rect x="149.1" y="279" width="9.4" height="11" fill="#00008c"/>
<rect x="158.2" y="279" width="1.4" height="11" fill="#0000fb"/>
<rect x="159.3" y="279" width="8.6" height="11" fill="#00008c"/>
<rect x="167.6" y="279" width="1.2" height="11" fill="#0000e6"/>
<rect x="168.6" y="279" width="13.5" height="11" fill="#000089"/>
<rect x="181.7" y="279" width="1.4" height="11" fill="#0000b1"/>
<rect x="182.8" y="279" width="37.6" height="11" fill="#000086"/>
<rect x="220.2" y="279" width="1.4" height="11" fill="#0000b1"/>
<rect x="221.3" y="279" width="13.5" height="11" fill="#000089"/>
<rect x="234.4" y="279" width="1.2" height="11" fill="#0000e6"/>
<rect x="235.4" y="279" width="8.6" height="11" fill="#00008c"/>
<rect x="243.7" y="279" width="1.4" height="11" fill="#0000fb"/>
<rect x="244.8" y="279" width="9.4" height="11" fill="#00008c"/>
<rect x="253.9" y="279" width="1.4" height="11" fill="#0010ff"/>
<rect x="255.0" y="279" width="9.7" height="11" fill="#0000b1"/>
<rect x="264.4" y="279" width="3.4" height="11" fill="#0010ff"/>
<rect x="267.5" y="279" width="10.5" height="11" fill="#000092"/>
<rect x="277.7" y="279" width="5.0" height="11" fill="#0010ff"/>
<rect x="282.4" y="279" width="2.7" height="11" fill="#0000a4"/>
<rect x="284.8" y="279" width="1.9" height="11" fill="#0010ff"/>
<rect x="286.4" y="279" width="2.7" height="11" fill="#0000a4"/>
<rect x="288.7" y="279" width="1.9" height="11" fill="#0010ff"/>
<rect x="290.3" y="279" width="1.8" height="11" fill="#000096"/>
<rect x="291.8" y="279" width="2.8" height="11" fill="#0000db"/>
<rect x="294.2" y="279" width="1.5" height="11" fill="#00009d"/>
<rect x="295.5" y="279" width="2.7" height="11" fill="#0000fb"/>
<rect x="297.8" y="279" width="3.4" height="11" fill="#004eff"/>
<rect x="300.9" y="279" width="2.8" height="11" fill="#3cffc3"/>
<rect x="303.5" y="279" width="2.8" height="11" fill="#00a8ff"/>
<rect x="306.0" y="279" width="2.8" height="11" fill="#37ffc8"/>
<rect x="308.6" y="279" width="2.8" height="11" fill="#00c1ff"/>
<rect x="311.1" y="279" width="1.9" height="11" fill="#008bff"/>
<rect x="312.7" y="279" width="2.7" height="11" fill="#00cdff"/>
<rect x="315.1" y="279" width="2.7" height="11" fill="#3affc5"/>
<rect x="317.4" y="279" width="2.7" height="11" fill="#00d4ff"/>
<rect x="319.8" y="279" width="2.7" height="11" fill="#004eff"/>
<rect x="322.1" y="279" width="2.7" height="11" fill="#008bff"/>
<rect x="324.5" y="279" width="3.4" height="11" fill="#45ffba"/>
<rect x="327.6" y="279" width="3.4" height="11" fill="#00f2ff"/>
<rect x="330.8" y="279" width="3.4" height="11" fill="#00a0ff"/>
<rect x="333.9" y="279" width="3.4" height="11" fill="#00b4ff"/>
<rect x="337.0" y="279" width="3.4" height="11" fill="#6eff91"/>
<rect x="340.2" y="279" width="10.2" height="11" fill="#97ff68"/>
<rect x="55.4" y="268" width="6.9" height="11" fill="#00f2ff"/>
<rect x="62.0" y="268" width="2.7" height="11" fill="#0077ff"/>
<rect x="64.4" y="268" width="1.9" height="11" fill="#07fff8"/>
<rect x="66.0" y="268" width="2.7" height="11" fill="#008bff"/>
<rect x="68.3" y="268" width="1.9" height="11" fill="#07fff8"/>
<rect x="69.9" y="268" width="2.7" height="11" fill="#82ff7d"/>
<rect x="72.2" y="268" width="2.7" height="11" fill="#0077ff"/>
<rect x="74.6" y="268" width="2.7" height="11" fill="#00f2ff"/>
<rect x="76.9" y="268" width="3.4" height="11" fill="#07fff8"/>
<rect x="80.1" y="268" width="2.7" height="11" fill="#0077ff"/>
<rect x="82.4" y="268" width="2.3" height="11" fill="#37ffc8"/>
<rect x="84.4" y="268" width="2.3" height="11" fill="#00d0ff"/>
<rect x="86.4" y="268" width="2.7" height="11" fill="#008bff"/>
<rect x="88.7" y="268" width="2.7" height="11" fill="#00e4ff"/>
<rect x="91.1" y="268" width="2.7" height="11" fill="#34ffcb"/>
<rect x="93.4" y="268" width="2.7" height="11" fill="#82ff7d"/>
<rect x="95.8" y="268" width="2.7" height="11" fill="#008bff"/>
<rect x="98.1" y="268" width="2.3" height="11" fill="#00daff"/>
<rect x="100.1" y="268" width="2.3" height="11" fill="#38ffc7"/>
<rect x="102.0" y="268" width="3.4" height="11" fill="#00a0ff"/>
<rect x="105.2" y="268" width="2.7" height="11" fill="#0010ff"/>
<rect x="107.5" y="268" width="1.6" height="11" fill="#0000a4"/>
<rect x="108.8" y="268" width="2.2" height="11" fill="#0000ee"/>
<rect x="110.7" y="268" width="2.1" height="11" fill="#004cff"/>
<rect x="112.5" y="268" width="2.7" height="11" fill="#0000ea"/>
<rect x="114.8" y="268" width="1.6" height="11" fill="#004aff"/>
<rect x="116.1" y="268" width="1.9" height="11" fill="#0000e7"/>
<rect x="117.7" y="268" width="1.8" height="11" fill="#0042ff"/>
<rect x="119.3" y="268" width="1.6" height="11" fill="#0000ef"/>
<rect x="120.6" y="268" width="16.0" height="11" fill="#0035ff"/>
<rect x="136.2" y="268" width="1.6" height="11" fill="#0031ff"/>
<rect x="137.5" y="268" width="1.6" height="11" fill="#0032ff"/>
<rect x="138.9" y="268" width="1.6" height="11" fill="#0033ff"/>
<rect x="140.2" y="268" width="1.6" height="11" fill="#0034ff"/>
<rect x="141.5" y="268" width="1.6" height="11" fill="#0035ff"/>
<rect x="142.8" y="268" width="1.6" height="11" fill="#0036ff"/>
<rect x="144.1" y="268" width="1.6" height="11" fill="#0037ff"/>
<rect x="145.4" y="268" width="1.6" height="11" fill="#0039ff"/>
<rect x="146.7" y="268" width="1.6" height="11" fill="#003aff"/>
<rect x="148.0" y="268" width="1.6" height="11" fill="#003bff"/>
<rect x="149.3" y="268" width="1.6" height="11" fill="#003cff"/>
<rect x="150.6" y="268" width="1.6" height="11" fill="#003dff"/>
<rect x="151.9" y="268" width="37.9" height="11" fill="#003fff"/>
<rect x="189.6" y="268" width="8.1" height="11" fill="#0062ff"/>
<rect x="197.4" y="268" width="8.5" height="11" fill="#0000e6"/>
<rect x="205.6" y="268" width="8.1" height="11" fill="#0062ff"/>
<rect x="213.4" y="268" width="37.9" height="11" fill="#003fff"/>
<rect x="251.1" y="268" width="1.6" height="11" fill="#003dff"/>
<rect x="252.4" y="268" width="1.6" height="11" fill="#003cff"/>
<rect x="253.7" y="268" width="1.6" height="11" fill="#003bff"/>
<rect x="255.0" y="268" width="1.6" height="11" fill="#003aff"/>
<rect x="256.3" y="268" width="1.6" height="11" fill="#0039ff"/>
<rect x="257.6" y="268" width="1.6" height="11" fill="#0037ff"/>
<rect x="258.9" y="268" width="1.6" height="11" fill="#0036ff"/>
<rect x="260.2" y="268" width="1.6" height="11" fill="#0035ff"/>
<rect x="261.5" y="268" width="1.6" height="11" fill="#0034ff"/>
<rect x="262.8" y="268" width="1.6" height="11" fill="#0033ff"/>
<rect x="264.1" y="268" width="1.6" height="11" fill="#0032ff"/>
<rect x="265.4" y="268" width="1.6" height="11" fill="#0031ff"/>
<rect x="266.7" y="268" width="16.0" height="11" fill="#0035ff"/>
<rect x="282.4" y="268" width="1.6" height="11" fill="#0000ef"/>
<rect x="283.7" y="268" width="1.8" height="11" fill="#0042ff"/>
<rect x="285.3" y="268" width="1.9" height="11" fill="#0000e7"/>
<rect x="286.9" y="268" width="1.6" height="11" fill="#004aff"/>
<rect x="288.2" y="268" width="2.7" height="11" fill="#0000ea"/>
<rect x="290.5" y="268" width="2.1" height="11" fill="#004cff"/>
<rect x="292.3" y="268" width="2.2" height="11" fill="#0000ee"/>
<rect x="294.2" y="268" width="1.6" height="11" fill="#0000a4"/>
<rect x="295.5" y="268" width="2.7" height="11" fill="#0010ff"/>
<rect x="297.8" y="268" width="3.4" height="11" fill="#00a0ff"/>
<rect x="300.9" y="268" width="2.3" height="11" fill="#38ffc7"/>
<rect x="302.9" y="268" width="2.3" height="11" fill="#00daff"/>
<rect x="304.9" y="268" width="2.7" height="11" fill="#008bff"/>
<rect x="307.2" y="268" width="2.7" height="11" fill="#82ff7d"/>
<rect x="309.6" y="268" width="2.7" height="11" fill="#34ffcb"/>
<rect x="311.9" y="268" width="2.7" height="11" fill="#00e4ff"/>
<rect x="314.3" y="268" width="2.7" height="11" fill="#008bff"/>
<rect x="316.6" y="268" width="2.3" height="11" fill="#00d0ff"/>
<rect x="318.6" y="268" width="2.3" height="11" fill="#37ffc8"/>
<rect x="320.6" y="268" width="2.7" height="11" fill="#0077ff"/>
<rect x="322.9" y="268" width="3.4" height="11" fill="#07fff8"/>
<rect x="326.0" y="268" width="2.7" height="11" fill="#00f2ff"/>
<rect x="328.4" y="268" width="2.7" height="11" fill="#0077ff"/>
<rect x="330.8" y="268" width="2.7" height="11" fill="#82ff7d"/>
<rect x="333.1" y="268" width="1.9" height="11" fill="#07fff8"/>
<rect x="334.7" y="268" width="2.7" height="11" fill="#008bff"/>
<rect x="337.0" y="268" width="1.9" height="11" fill="#07fff8"/>
<rect x="338.6" y="268" width="2.7" height="11" fill="#0077ff"/>
<rect x="340.9" y="268" width="9.4" height="11" fill="#00f2ff"/>
<rect x="55.4" y="257" width="6.9" height="11" fill="#07fff8"/>
<rect x="62.0" y="257" width="2.7" height="11" fill="#baff45"/>
<rect x="64.4" y="257" width="2.7" height="11" fill="#40ffbf"/>
<rect x="66.7" y="257" width="2.3" height="11" fill="#97ff68"/>
<rect x="68.8" y="257" width="2.2" height="11" fill="#1cffe3"/>
<rect x="70.7" y="257" width="2.7" height="11" fill="#07fff8"/>
<rect x="73.0" y="257" width="1.9" height="11" fill="#00aaff"/>
<rect x="74.6" y="257" width="1.9" height="11" fill="#0073ff"/>
<rect x="76.2" y="257" width="2.7" height="11" fill="#b9ff46"/>
<rect x="78.5" y="257" width="2.7" height="11" fill="#56ffa9"/>
<rect x="80.9" y="257" width="1.9" height="11" fill="#0094ff"/>
<rect x="82.4" y="257" width="1.9" height="11" fill="#0046ff"/>
<rect x="84.0" y="257" width="1.9" height="11" fill="#003cff"/>
<rect x="85.6" y="257" width="1.9" height="11" fill="#005fff"/>
<rect x="87.1" y="257" width="2.7" height="11" fill="#37ffc8"/>
<rect x="89.5" y="257" width="2.7" height="11" fill="#00d1ff"/>
<rect x="91.8" y="257" width="2.7" height="11" fill="#0dfff2"/>
<rect x="94.2" y="257" width="2.7" height="11" fill="#00bbff"/>
<rect x="96.6" y="257" width="1.9" height="11" fill="#59ffa6"/>
<rect x="98.1" y="257" width="2.7" height="11" fill="#2effd1"/>
<rect x="100.5" y="257" width="2.7" height="11" fill="#00d1ff"/>
<rect x="102.8" y="257" width="2.7" height="11" fill="#0047ff"/>
<rect x="105.2" y="257" width="2.7" height="11" fill="#008aff"/>
<rect x="107.5" y="257" width="9.4" height="11" fill="#002fff"/>
<rect x="116.6" y="257" width="5.8" height="11" fill="#0000b1"/>
<rect x="122.1" y="257" width="2.1" height="11" fill="#0050ff"/>
<rect x="123.9" y="257" width="2.1" height="11" fill="#0031ff"/>
<rect x="125.8" y="257" width="2.1" height="11" fill="#004aff"/>
<rect x="127.6" y="257" width="2.1" height="11" fill="#0024ff"/>
<rect x="129.4" y="257" width="2.1" height="11" fill="#0043ff"/>
<rect x="131.3" y="257" width="2.1" height="11" fill="#0025ff"/>
<rect x="133.1" y="257" width="5.8" height="11" fill="#0000a4"/>
<rect x="138.6" y="257" width="1.4" height="11" fill="#0000b7"/>
<rect x="139.7" y="257" width="1.4" height="11" fill="#0048ff"/>
<rect x="140.8" y="257" width="2.0" height="11" fill="#0000d8"/>
<rect x="142.5" y="257" width="2.5" height="11" fill="#003dff"/>
<rect x="144.7" y="257" width="0.5" height="11" fill="#0000bd"/>
<rect x="144.9" y="257" width="1.9" height="11" fill="#0000a4"/>
<rect x="146.4" y="257" width="3.4" height="11" fill="#0010ff"/>
<rect x="149.6" y="257" width="2.7" height="11" fill="#0000a4"/>
<rect x="151.9" y="257" width="1.9" height="11" fill="#003bff"/>
<rect x="153.5" y="257" width="1.9" height="11" fill="#0014ff"/>
<rect x="155.1" y="257" width="1.9" height="11" fill="#0048ff"/>
<rect x="156.6" y="257" width="7.4" height="11" fill="#0000b1"/>
<rect x="163.7" y="257" width="4.2" height="11" fill="#00008e"/>
<rect x="167.6" y="257" width="1.6" height="11" fill="#0000fb"/>
<rect x="168.9" y="257" width="8.5" height="11" fill="#0000ab"/>
<rect x="177.0" y="257" width="49.2" height="11" fill="#000086"/>
<rect x="226.0" y="257" width="8.5" height="11" fill="#0000ab"/>
<rect x="234.1" y="257" width="1.6" height="11" fill="#0000fb"/>
<rect x="235.4" y="257" width="4.2" height="11" fill="#00008e"/>
<rect x="239.3" y="257" width="7.4" height="11" fill="#0000b1"/>
<rect x="246.4" y="257" width="1.9" height="11" fill="#0048ff"/>
<rect x="247.9" y="257" width="1.9" height="11" fill="#0014ff"/>
<rect x="249.5" y="257" width="1.9" height="11" fill="#003bff"/>
<rect x="251.1" y="257" width="2.7" height="11" fill="#0000a4"/>
<rect x="253.4" y="257" width="3.4" height="11" fill="#0010ff"/>
<rect x="256.6" y="257" width="1.9" height="11" fill="#0000a4"/>
<rect x="258.1" y="257" width="0.5" height="11" fill="#0000bd"/>
<rect x="258.3" y="257" width="2.5" height="11" fill="#003dff"/>
<rect x="260.5" y="257" width="2.0" height="11" fill="#0000d8"/>
<rect x="262.2" y="257" width="1.4" height="11" fill="#0048ff"/>
<rect x="263.3" y="257" width="1.4" height="11" fill="#0000b7"/>
<rect x="264.4" y="257" width="5.8" height="11" fill="#0000a4"/>
<rect x="269.9" y="257" width="2.1" height="11" fill="#0025ff"/>
<rect x="271.7" y="257" width="2.1" height="11" fill="#0043ff"/>
<rect x="273.5" y="257" width="2.1" height="11" fill="#0024ff"/>
<rect x="275.4" y="257" width="2.1" height="11" fill="#004aff"/>
<rect x="277.2" y="257" width="2.1" height="11" fill="#0031ff"/>
<rect x="279.0" y="257" width="2.1" height="11" fill="#0050ff"/>
<rect x="280.9" y="257" width="5.8" height="11" fill="#0000b1"/>
<rect x="286.4" y="257" width="9.4" height="11" fill="#002fff"/>
<rect x="295.5" y="257" width="2.7" height="11" fill="#008aff"/>
<rect x="297.8" y="257" width="2.7" height="11" fill="#0047ff"/>
<rect x="300.2" y="257" width="2.7" height="11" fill="#00d1ff"/>
<rect x="302.5" y="257" width="2.7" height="11" fill="#2effd1"/>
<rect x="304.9" y="257" width="1.9" height="11" fill="#59ffa6"/>
<rect x="306.4" y="257" width="2.7" height="11" fill="#00bbff"/>
<rect x="308.8" y="257" width="2.7" height="11" fill="#0dfff2"/>
<rect x="311.1" y="257" width="2.7" height="11" fill="#00d1ff"/>
<rect x="313.5" y="257" width="2.7" height="11" fill="#37ffc8"/>
<rect x="315.8" y="257" width="1.9" height="11" fill="#005fff"/>
<rect x="317.4" y="257" width="1.9" height="11" fill="#003cff"/>
<rect x="319.0" y="257" width="1.9" height="11" fill="#0046ff"/>
<rect x="320.6" y="257" width="1.9" height="11" fill="#0094ff"/>
<rect x="322.1" y="257" width="2.7" height="11" fill="#56ffa9"/>
<rect x="324.5" y="257" width="2.7" height="11" fill="#b9ff46"/>
<rect x="326.8" y="257" width="1.9" height="11" fill="#0073ff"/>
<rect x="328.4" y="257" width="1.9" height="11" fill="#00aaff"/>
<rect x="330.0" y="257" width="2.7" height="11" fill="#07fff8"/>
<rect x="332.3" y="257" width="2.2" height="11" fill="#1cffe3"/>
<rect x="334.2" y="257" width="2.3" height="11" fill="#97ff68"/>
<rect x="336.2" y="257" width="2.7" height="11" fill="#40ffbf"/>
<rect x="338.6" y="257" width="2.7" height="11" fill="#baff45"/>
<rect x="340.9" y="257" width="9.4" height="11" fill="#07fff8"/>
<rect x="55.4" y="246" width="6.1" height="11" fill="#d4ff2b"/>
<rect x="61.3" y="246" width="3.4" height="11" fill="#07fff8"/>
<rect x="64.4" y="246" width="1.9" height="11" fill="#008bff"/>
<rect x="66.0" y="246" width="1.9" height="11" fill="#69ff96"/>
<rect x="67.5" y="246" width="1.9" height="11" fill="#00ddff"/>
<rect x="69.1" y="246" width="1.9" height="11" fill="#5bffa4"/>
<rect x="70.7" y="246" width="1.9" height="11" fill="#abff54"/>
<rect x="72.2" y="246" width="1.9" height="11" fill="#3effc1"/>
<rect x="73.8" y="246" width="1.9" height="11" fill="#00ccff"/>
<rect x="75.4" y="246" width="2.7" height="11" fill="#abff54"/>
<rect x="77.7" y="246" width="2.3" height="11" fill="#42ffbd"/>
<rect x="79.7" y="246" width="2.3" height="11" fill="#00dcff"/>
<rect x="81.6" y="246" width="2.7" height="11" fill="#0077ff"/>
<rect x="84.0" y="246" width="2.7" height="11" fill="#07fff8"/>
<rect x="86.4" y="246" width="2.7" height="11" fill="#59ffa6"/>
<rect x="88.7" y="246" width="1.9" height="11" fill="#00c9ff"/>
<rect x="90.3" y="246" width="1.9" height="11" fill="#39ffc6"/>
<rect x="91.8" y="246" width="1.9" height="11" fill="#00beff"/>
<rect x="93.4" y="246" width="2.7" height="11" fill="#008bff"/>
<rect x="95.8" y="246" width="2.4" height="11" fill="#30ffcf"/>
<rect x="97.9" y="246" width="2.4" height="11" fill="#00b2ff"/>
<rect x="99.9" y="246" width="2.4" height="11" fill="#25ffda"/>
<rect x="102.0" y="246" width="2.1" height="11" fill="#0083ff"/>
<rect x="103.9" y="246" width="2.1" height="11" fill="#0042ff"/>
<rect x="105.7" y="246" width="2.1" height="11" fill="#007bff"/>
<rect x="107.5" y="246" width="2.7" height="11" fill="#0048ff"/>
<rect x="109.9" y="246" width="2.3" height="11" fill="#0000d3"/>
<rect x="111.9" y="246" width="2.5" height="11" fill="#0049ff"/>
<rect x="114.1" y="246" width="1.3" height="11" fill="#0000e7"/>
<rect x="115.1" y="246" width="1.9" height="11" fill="#0000a4"/>
<rect x="116.6" y="246" width="2.3" height="11" fill="#001bff"/>
<rect x="118.6" y="246" width="2.3" height="11" fill="#0000fe"/>
<rect x="120.6" y="246" width="3.4" height="11" fill="#0000a4"/>
<rect x="123.7" y="246" width="1.9" height="11" fill="#0000b2"/>
<rect x="125.2" y="246" width="2.1" height="11" fill="#001aff"/>
<rect x="127.0" y="246" width="1.7" height="11" fill="#0000b5"/>
<rect x="128.4" y="246" width="9.7" height="11" fill="#00008c"/>
<rect x="137.8" y="246" width="1.6" height="11" fill="#0000fb"/>
<rect x="139.1" y="246" width="8.5" height="11" fill="#00008c"/>
<rect x="147.2" y="246" width="1.9" height="11" fill="#0000fb"/>
<rect x="148.8" y="246" width="10.5" height="11" fill="#00008c"/>
<rect x="159.0" y="246" width="2.3" height="11" fill="#0001ff"/>
<rect x="160.9" y="246" width="2.3" height="11" fill="#0000ea"/>
<rect x="162.9" y="246" width="3.4" height="11" fill="#0039ff"/>
<rect x="166.0" y="246" width="2.1" height="11" fill="#0000f9"/>
<rect x="167.9" y="246" width="2.1" height="11" fill="#0000df"/>
<rect x="169.7" y="246" width="2.1" height="11" fill="#0000f6"/>
<rect x="171.5" y="246" width="2.7" height="11" fill="#0039ff"/>
<rect x="173.9" y="246" width="9.7" height="11" fill="#0000e6"/>
<rect x="183.3" y="246" width="1.9" height="11" fill="#0043ff"/>
<rect x="184.9" y="246" width="10.5" height="11" fill="#0000b7"/>
<rect x="195.1" y="246" width="2.5" height="11" fill="#0033ff"/>
<rect x="197.2" y="246" width="2.1" height="11" fill="#0000d7"/>
<rect x="199.1" y="246" width="1.8" height="11" fill="#0040ff"/>
<rect x="200.6" y="246" width="2.2" height="11" fill="#00009e"/>
<rect x="202.4" y="246" width="1.8" height="11" fill="#0040ff"/>
<rect x="203.9" y="246" width="2.1" height="11" fill="#0000d7"/>
<rect x="205.8" y="246" width="2.5" height="11" fill="#0033ff"/>
<rect x="207.9" y="246" width="10.5" height="11" fill="#0000b7"/>
<rect x="218.1" y="246" width="1.9" height="11" fill="#0043ff"/>
<rect x="219.7" y="246" width="9.7" height="11" fill="#0000e6"/>
<rect x="229.1" y="246" width="2.7" height="11" fill="#0039ff"/>
<rect x="231.5" y="246" width="2.1" height="11" fill="#0000f6"/>
<rect x="233.3" y="246" width="2.1" height="11" fill="#0000df"/>
<rect x="235.1" y="246" width="2.1" height="11" fill="#0000f9"/>
<rect x="236.9" y="246" width="3.4" height="11" fill="#0039ff"/>
<rect x="240.1" y="246" width="2.3" height="11" fill="#0000ea"/>
<rect x="242.0" y="246" width="2.3" height="11" fill="#0001ff"/>
<rect x="244.0" y="246" width="10.5" height="11" fill="#00008c"/>
<rect x="254.2" y="246" width="1.9" height="11" fill="#0000fb"/>
<rect x="255.8" y="246" width="8.5" height="11" fill="#00008c"/>
<rect x="263.9" y="246" width="1.6" height="11" fill="#0000fb"/>
<rect x="265.2" y="246" width="9.7" height="11" fill="#00008c"/>
<rect x="274.6" y="246" width="1.7" height="11" fill="#0000b5"/>
<rect x="276.0" y="246" width="2.1" height="11" fill="#001aff"/>
<rect x="277.7" y="246" width="1.9" height="11" fill="#0000b2"/>
<rect x="279.3" y="246" width="3.4" height="11" fill="#0000a4"/>
<rect x="282.4" y="246" width="2.3" height="11" fill="#0000fe"/>
<rect x="284.4" y="246" width="2.3" height="11" fill="#001bff"/>
<rect x="286.4" y="246" width="1.9" height="11" fill="#0000a4"/>
<rect x="287.9" y="246" width="1.3" height="11" fill="#0000e7"/>
<rect x="288.9" y="246" width="2.5" height="11" fill="#0049ff"/>
<rect x="291.1" y="246" width="2.3" height="11" fill="#0000d3"/>
<rect x="293.1" y="246" width="2.7" height="11" fill="#0048ff"/>
<rect x="295.5" y="246" width="2.1" height="11" fill="#007bff"/>
<rect x="297.3" y="246" width="2.1" height="11" fill="#0042ff"/>
<rect x="299.1" y="246" width="2.1" height="11" fill="#0083ff"/>
<rect x="300.9" y="246" width="2.4" height="11" fill="#25ffda"/>
<rect x="303.0" y="246" width="2.4" height="11" fill="#00b2ff"/>
<rect x="305.1" y="246" width="2.4" height="11" fill="#30ffcf"/>
<rect x="307.2" y="246" width="2.7" height="11" fill="#008bff"/>
<rect x="309.6" y="246" width="1.9" height="11" fill="#00beff"/>
<rect x="311.1" y="246" width="1.9" height="11" fill="#39ffc6"/>
<rect x="312.7" y="246" width="1.9" height="11" fill="#00c9ff"/>
<rect x="314.3" y="246" width="2.7" height="11" fill="#59ffa6"/>
<rect x="316.6" y="246" width="2.7" height="11" fill="#07fff8"/>
<rect x="319.0" y="246" width="2.7" height="11" fill="#0077ff"/>
<rect x="321.3" y="246" width="2.3" height="11" fill="#00dcff"/>
<rect x="323.3" y="246" width="2.3" height="11" fill="#42ffbd"/>
<rect x="325.3" y="246" width="2.7" height="11" fill="#abff54"/>
<rect x="327.6" y="246" width="1.9" height="11" fill="#00ccff"/>
<rect x="329.2" y="246" width="1.9" height="11" fill="#3effc1"/>
<rect x="330.8" y="246" width="1.9" height="11" fill="#abff54"/>
<rect x="332.3" y="246" width="1.9" height="11" fill="#5bffa4"/>
<rect x="333.9" y="246" width="1.9" height="11" fill="#00ddff"/>
<rect x="335.5" y="246" width="1.9" height="11" fill="#69ff96"/>
<rect x="337.0" y="246" width="1.9" height="11" fill="#008bff"/>
<rect x="338.6" y="246" width="3.4" height="11" fill="#07fff8"/>
<rect x="341.7" y="246" width="8.6" height="11" fill="#d4ff2b"/>
<rect x="55.4" y="235" width="6.9" height="11" fill="#00f2ff"/>
<rect x="62.0" y="235" width="1.9" height="11" fill="#0091ff"/>
<rect x="63.6" y="235" width="1.9" height="11" fill="#0061ff"/>
<rect x="65.2" y="235" width="2.7" height="11" fill="#07fff8"/>
<rect x="67.5" y="235" width="1.9" height="11" fill="#0098ff"/>
<rect x="69.1" y="235" width="1.9" height="11" fill="#0053ff"/>
<rect x="70.7" y="235" width="1.9" height="11" fill="#00f5ff"/>
<rect x="72.2" y="235" width="1.9" height="11" fill="#59ffa6"/>
<rect x="73.8" y="235" width="1.9" height="11" fill="#00dfff"/>
<rect x="75.4" y="235" width="1.9" height="11" fill="#00f8ff"/>
<rect x="76.9" y="235" width="1.9" height="11" fill="#009fff"/>
<rect x="78.5" y="235" width="2.7" height="11" fill="#008bff"/>
<rect x="80.9" y="235" width="1.9" height="11" fill="#00caff"/>
<rect x="82.4" y="235" width="1.9" height="11" fill="#3bffc4"/>
<rect x="84.0" y="235" width="1.9" height="11" fill="#00eaff"/>
<rect x="85.6" y="235" width="1.9" height="11" fill="#97ff68"/>
<rect x="87.1" y="235" width="2.1" height="11" fill="#2cffd3"/>
<rect x="89.0" y="235" width="2.1" height="11" fill="#00ccff"/>
<rect x="90.8" y="235" width="2.1" height="11" fill="#35ffca"/>
<rect x="92.6" y="235" width="1.9" height="11" fill="#00b6ff"/>
<rect x="94.2" y="235" width="1.9" height="11" fill="#11ffee"/>
<rect x="95.8" y="235" width="2.7" height="11" fill="#008bff"/>
<rect x="98.1" y="235" width="2.3" height="11" fill="#00b2ff"/>
<rect x="100.1" y="235" width="2.3" height="11" fill="#06fff9"/>
<rect x="102.0" y="235" width="1.9" height="11" fill="#00beff"/>
<rect x="103.6" y="235" width="1.9" height="11" fill="#0059ff"/>
<rect x="105.2" y="235" width="2.7" height="11" fill="#004eff"/>
<rect x="107.5" y="235" width="1.8" height="11" fill="#0000fe"/>
<rect x="109.1" y="235" width="1.6" height="11" fill="#004bff"/>
<rect x="110.4" y="235" width="1.8" height="11" fill="#0000f4"/>
<rect x="111.9" y="235" width="1.7" height="11" fill="#0055ff"/>
<rect x="113.3" y="235" width="1.4" height="11" fill="#0005ff"/>
<rect x="114.4" y="235" width="1.6" height="11" fill="#0048ff"/>
<rect x="115.8" y="235" width="2.0" height="11" fill="#0000f2"/>
<rect x="117.4" y="235" width="2.7" height="11" fill="#0000a4"/>
<rect x="119.8" y="235" width="2.3" height="11" fill="#0000fb"/>
<rect x="121.7" y="235" width="2.3" height="11" fill="#0018ff"/>
<rect x="123.7" y="235" width="2.7" height="11" fill="#0000a6"/>
<rect x="126.1" y="235" width="2.6" height="11" fill="#0004ff"/>
<rect x="128.4" y="235" width="1.5" height="11" fill="#0000ab"/>
<rect x="129.6" y="235" width="2.7" height="11" fill="#0000ed"/>
<rect x="132.0" y="235" width="1.9" height="11" fill="#0000a8"/>
<rect x="133.5" y="235" width="2.1" height="11" fill="#0000eb"/>
<rect x="135.4" y="235" width="1.2" height="11" fill="#00009e"/>
<rect x="136.2" y="235" width="2.0" height="11" fill="#0040ff"/>
<rect x="137.9" y="235" width="2.0" height="11" fill="#0086ff"/>
<rect x="139.6" y="235" width="2.0" height="11" fill="#0045ff"/>
<rect x="141.3" y="235" width="2.0" height="11" fill="#007dff"/>
<rect x="143.0" y="235" width="2.0" height="11" fill="#004fff"/>
<rect x="144.7" y="235" width="2.0" height="11" fill="#0079ff"/>
<rect x="146.4" y="235" width="10.5" height="11" fill="#0000d2"/>
<rect x="156.6" y="235" width="3.4" height="11" fill="#0039ff"/>
<rect x="159.8" y="235" width="11.3" height="11" fill="#0000b1"/>
<rect x="170.7" y="235" width="1.9" height="11" fill="#0010ff"/>
<rect x="172.3" y="235" width="11.3" height="11" fill="#0000a4"/>
<rect x="183.3" y="235" width="1.9" height="11" fill="#0017ff"/>
<rect x="184.9" y="235" width="1.9" height="11" fill="#0000f9"/>
<rect x="186.4" y="235" width="1.9" height="11" fill="#0021ff"/>
<rect x="188.0" y="235" width="1.9" height="11" fill="#0000ff"/>
<rect x="189.6" y="235" width="1.9" height="11" fill="#001dff"/>
<rect x="191.1" y="235" width="1.9" height="11" fill="#0000fb"/>
<rect x="192.7" y="235" width="2.4" height="11" fill="#00008e"/>
<rect x="194.8" y="235" width="2.1" height="11" fill="#0000b9"/>
<rect x="196.6" y="235" width="1.7" height="11" fill="#000095"/>
<rect x="198.0" y="235" width="2.0" height="11" fill="#0000bc"/>
<rect x="199.7" y="235" width="3.8" height="11" fill="#000096"/>
<rect x="203.3" y="235" width="2.0" height="11" fill="#0000bc"/>
<rect x="205.0" y="235" width="1.7" height="11" fill="#000095"/>
<rect x="206.4" y="235" width="2.1" height="11" fill="#0000b9"/>
<rect x="208.1" y="235" width="2.4" height="11" fill="#00008e"/>
<rect x="210.3" y="235" width="1.9" height="11" fill="#0000fb"/>
<rect x="211.8" y="235" width="1.9" height="11" fill="#001dff"/>
<rect x="213.4" y="235" width="1.9" height="11" fill="#0000ff"/>
<rect x="215.0" y="235" width="1.9" height="11" fill="#0021ff"/>
<rect x="216.6" y="235" width="1.9" height="11" fill="#0000f9"/>
<rect x="218.1" y="235" width="1.9" height="11" fill="#0017ff"/>
<rect x="219.7" y="235" width="11.3" height="11" fill="#0000a4"/>
<rect x="230.7" y="235" width="1.9" height="11" fill="#0010ff"/>
<rect x="232.2" y="235" width="11.3" height="11" fill="#0000b1"/>
<rect x="243.2" y="235" width="3.4" height="11" fill="#0039ff"/>
<rect x="246.4" y="235" width="10.5" height="11" fill="#0000d2"/>
<rect x="256.6" y="235" width="2.0" height="11" fill="#0079ff"/>
<rect x="258.3" y="235" width="2.0" height="11" fill="#004fff"/>
<rect x="260.0" y="235" width="2.0" height="11" fill="#007dff"/>
<rect x="261.7" y="235" width="2.0" height="11" fill="#0045ff"/>
<rect x="263.4" y="235" width="2.0" height="11" fill="#0086ff"/>
<rect x="265.1" y="235" width="2.0" height="11" fill="#0040ff"/>
<rect x="266.7" y="235" width="1.2" height="11" fill="#00009e"/>
<rect x="267.6" y="235" width="2.1" height="11" fill="#0000eb"/>
<rect x="269.5" y="235" width="1.9" height="11" fill="#0000a8"/>
<rect x="271.0" y="235" width="2.7" height="11" fill="#0000ed"/>
<rect x="273.4" y="235" width="1.5" height="11" fill="#0000ab"/>
<rect x="274.6" y="235" width="2.6" height="11" fill="#0004ff"/>
<rect x="276.9" y="235" width="2.7" height="11" fill="#0000a6"/>
<rect x="279.3" y="235" width="2.3" height="11" fill="#0018ff"/>
<rect x="281.3" y="235" width="2.3" height="11" fill="#0000fb"/>
<rect x="283.2" y="235" width="2.7" height="11" fill="#0000a4"/>
<rect x="285.6" y="235" width="2.0" height="11" fill="#0000f2"/>
<rect x="287.2" y="235" width="1.6" height="11" fill="#0048ff"/>
<rect x="288.6" y="235" width="1.4" height="11" fill="#0005ff"/>
<rect x="289.7" y="235" width="1.7" height="11" fill="#0055ff"/>
<rect x="291.1" y="235" width="1.8" height="11" fill="#0000f4"/>
<rect x="292.6" y="235" width="1.6" height="11" fill="#004bff"/>
<rect x="293.9" y="235" width="1.8" height="11" fill="#0000fe"/>
<rect x="295.5" y="235" width="2.7" height="11" fill="#004eff"/>
<rect x="297.8" y="235" width="1.9" height="11" fill="#0059ff"/>
<rect x="299.4" y="235" width="1.9" height="11" fill="#00beff"/>
<rect x="300.9" y="235" width="2.3" height="11" fill="#06fff9"/>
<rect x="302.9" y="235" width="2.3" height="11" fill="#00b2ff"/>
<rect x="304.9" y="235" width="2.7" height="11" fill="#008bff"/>
<rect x="307.2" y="235" width="1.9" height="11" fill="#11ffee"/>
<rect x="308.8" y="235" width="1.9" height="11" fill="#00b6ff"/>
<rect x="310.4" y="235" width="2.1" height="11" fill="#35ffca"/>
<rect x="312.2" y="235" width="2.1" height="11" fill="#00ccff"/>
<rect x="314.0" y="235" width="2.1" height="11" fill="#2cffd3"/>
<rect x="315.8" y="235" width="1.9" height="11" fill="#97ff68"/>
<rect x="317.4" y="235" width="1.9" height="11" fill="#00eaff"/>
<rect x="319.0" y="235" width="1.9" height="11" fill="#3bffc4"/>
<rect x="320.6" y="235" width="1.9" height="11" fill="#00caff"/>
<rect x="322.1" y="235" width="2.7" height="11" fill="#008bff"/>
<rect x="324.5" y="235" width="1.9" height="11" fill="#009fff"/>
<rect x="326.0" y="235" width="1.9" height="11" fill="#00f8ff"/>
<rect x="327.6" y="235" width="1.9" height="11" fill="#00dfff"/>
<rect x="329.2" y="235" width="1.9" height="11" fill="#59ffa6"/>
<rect x="330.8" y="235" width="1.9" height="11" fill="#00f5ff"/>
<rect x="332.3" y="235" width="1.9" height="11" fill="#0053ff"/>
<rect x="333.9" y="235" width="1.9" height="11" fill="#0098ff"/>
<rect x="335.5" y="235" width="2.7" height="11" fill="#07fff8"/>
<rect x="337.8" y="235" width="1.9" height="11" fill="#0061ff"/>
<rect x="339.4" y="235" width="1.9" height="11" fill="#0091ff"/>
<rect x="340.9" y="235" width="9.4" height="11" fill="#00f2ff"/>
<rect x="55.4" y="223" width="7.7" height="12" fill="#e9ff16"/>
<rect x="62.8" y="223" width="1.9" height="12" fill="#97ff68"/>
<rect x="64.4" y="223" width="1.9" height="12" fill="#65ff9a"/>
<rect x="66.0" y="223" width="1.9" height="12" fill="#00dcff"/>
<rect x="67.5" y="223" width="1.5" height="12" fill="#32ffcd"/>
<rect x="68.7" y="223" width="1.5" height="12" fill="#e9ff16"/>
<rect x="69.9" y="223" width="1.5" height="12" fill="#00d3ff"/>
<rect x="71.1" y="223" width="1.5" height="12" fill="#27ffd8"/>
<rect x="72.2" y="223" width="1.9" height="12" fill="#d4ff2b"/>
<rect x="73.8" y="223" width="1.6" height="12" fill="#00ebff"/>
<rect x="75.1" y="223" width="1.6" height="12" fill="#0095ff"/>
<rect x="76.4" y="223" width="1.6" height="12" fill="#00e2ff"/>
<rect x="77.7" y="223" width="1.5" height="12" fill="#00d6ff"/>
<rect x="78.9" y="223" width="1.5" height="12" fill="#2affd5"/>
<rect x="80.1" y="223" width="1.6" height="12" fill="#ceff31"/>
<rect x="81.4" y="223" width="1.6" height="12" fill="#7dff82"/>
<rect x="82.7" y="223" width="1.6" height="12" fill="#d0ff2f"/>
<rect x="84.0" y="223" width="1.5" height="12" fill="#30ffcf"/>
<rect x="85.2" y="223" width="1.5" height="12" fill="#00bbff"/>
<rect x="86.4" y="223" width="1.5" height="12" fill="#005fff"/>
<rect x="87.5" y="223" width="1.5" height="12" fill="#00bfff"/>
<rect x="88.7" y="223" width="1.9" height="12" fill="#72ff8d"/>
<rect x="90.3" y="223" width="1.9" height="12" fill="#06fff9"/>
<rect x="91.8" y="223" width="1.6" height="12" fill="#005eff"/>
<rect x="93.2" y="223" width="1.6" height="12" fill="#00a7ff"/>
<rect x="94.5" y="223" width="1.6" height="12" fill="#004cff"/>
<rect x="95.8" y="223" width="1.9" height="12" fill="#00f2ff"/>
<rect x="97.3" y="223" width="1.9" height="12" fill="#57ffa8"/>
<rect x="98.9" y="223" width="1.9" height="12" fill="#00d8ff"/>
<rect x="100.5" y="223" width="1.9" height="12" fill="#0093ff"/>
<rect x="102.0" y="223" width="1.9" height="12" fill="#0058ff"/>
<rect x="103.6" y="223" width="1.6" height="12" fill="#0000f6"/>
<rect x="104.9" y="223" width="1.6" height="12" fill="#0023ff"/>
<rect x="106.2" y="223" width="1.6" height="12" fill="#0000ff"/>
<rect x="107.5" y="223" width="2.2" height="12" fill="#0000bd"/>
<rect x="109.5" y="223" width="2.0" height="12" fill="#00009b"/>
<rect x="111.1" y="223" width="1.9" height="12" fill="#0010ff"/>
<rect x="112.7" y="223" width="5.0" height="12" fill="#0000a4"/>
<rect x="117.4" y="223" width="2.3" height="12" fill="#0003ff"/>
<rect x="119.4" y="223" width="2.3" height="12" fill="#0016ff"/>
<rect x="121.3" y="223" width="3.4" height="12" fill="#0000a4"/>
<rect x="124.5" y="223" width="8.1" height="12" fill="#0000b1"/>
<rect x="132.3" y="223" width="2.7" height="12" fill="#0010ff"/>
<rect x="134.7" y="223" width="3.4" height="12" fill="#00009e"/>
<rect x="137.8" y="223" width="1.9" height="12" fill="#0010ff"/>
<rect x="139.4" y="223" width="9.7" height="12" fill="#00008e"/>
<rect x="148.8" y="223" width="1.9" height="12" fill="#0000e6"/>
<rect x="150.4" y="223" width="19.1" height="12" fill="#000092"/>
<rect x="169.2" y="223" width="1.9" height="12" fill="#0000fb"/>
<rect x="170.7" y="223" width="9.7" height="12" fill="#0000a4"/>
<rect x="180.2" y="223" width="3.4" height="12" fill="#0010ff"/>
<rect x="183.3" y="223" width="9.7" height="12" fill="#0000a4"/>
<rect x="192.7" y="223" width="2.7" height="12" fill="#0010ff"/>
<rect x="195.1" y="223" width="4.2" height="12" fill="#00009e"/>
<rect x="199.0" y="223" width="2.7" height="12" fill="#0000a9"/>
<rect x="201.4" y="223" width="0.5" height="12" fill="#0036ff"/>
<rect x="201.6" y="223" width="2.7" height="12" fill="#0000a9"/>
<rect x="204.0" y="223" width="4.2" height="12" fill="#00009e"/>
<rect x="207.9" y="223" width="2.7" height="12" fill="#0010ff"/>
<rect x="210.3" y="223" width="9.7" height="12" fill="#0000a4"/>
<rect x="219.7" y="223" width="3.4" height="12" fill="#0010ff"/>
<rect x="222.8" y="223" width="9.7" height="12" fill="#0000a4"/>
<rect x="232.2" y="223" width="1.9" height="12" fill="#0000fb"/>
<rect x="233.8" y="223" width="19.1" height="12" fill="#000092"/>
<rect x="252.6" y="223" width="1.9" height="12" fill="#0000e6"/>
<rect x="254.2" y="223" width="9.7" height="12" fill="#00008e"/>
<rect x="263.6" y="223" width="1.9" height="12" fill="#0010ff"/>
<rect x="265.2" y="223" width="3.4" height="12" fill="#00009e"/>
<rect x="268.3" y="223" width="2.7" height="12" fill="#0010ff"/>
<rect x="270.7" y="223" width="8.1" height="12" fill="#0000b1"/>
<rect x="278.5" y="223" width="3.4" height="12" fill="#0000a4"/>
<rect x="281.7" y="223" width="2.3" height="12" fill="#0016ff"/>
<rect x="283.6" y="223" width="2.3" height="12" fill="#0003ff"/>
<rect x="285.6" y="223" width="5.0" height="12" fill="#0000a4"/>
<rect x="290.3" y="223" width="1.9" height="12" fill="#0010ff"/>
<rect x="291.8" y="223" width="2.0" height="12" fill="#00009b"/>
<rect x="293.5" y="223" width="2.2" height="12" fill="#0000bd"/>
<rect x="295.5" y="223" width="1.6" height="12" fill="#0000ff"/>
<rect x="296.8" y="223" width="1.6" height="12" fill="#0023ff"/>
<rect x="298.1" y="223" width="1.6" height="12" fill="#0000f6"/>
<rect x="299.4" y="223" width="1.9" height="12" fill="#0058ff"/>
<rect x="300.9" y="223" width="1.9" height="12" fill="#0093ff"/>
<rect x="302.5" y="223" width="1.9" height="12" fill="#00d8ff"/>
<rect x="304.1" y="223" width="1.9" height="12" fill="#57ffa8"/>
<rect x="305.7" y="223" width="1.9" height="12" fill="#00f2ff"/>
<rect x="307.2" y="223" width="1.6" height="12" fill="#004cff"/>
<rect x="308.5" y="223" width="1.6" height="12" fill="#00a7ff"/>
<rect x="309.8" y="223" width="1.6" height="12" fill="#005eff"/>
<rect x="311.1" y="223" width="1.9" height="12" fill="#06fff9"/>
<rect x="312.7" y="223" width="1.9" height="12" fill="#72ff8d"/>
<rect x="314.3" y="223" width="1.5" height="12" fill="#00bfff"/>
<rect x="315.5" y="223" width="1.5" height="12" fill="#005fff"/>
<rect x="316.6" y="223" width="1.5" height="12" fill="#00bbff"/>
<rect x="317.8" y="223" width="1.5" height="12" fill="#30ffcf"/>
<rect x="319.0" y="223" width="1.6" height="12" fill="#d0ff2f"/>
<rect x="320.3" y="223" width="1.6" height="12" fill="#7dff82"/>
<rect x="321.6" y="223" width="1.6" height="12" fill="#ceff31"/>
<rect x="322.9" y="223" width="1.5" height="12" fill="#2affd5"/>
<rect x="324.1" y="223" width="1.5" height="12" fill="#00d6ff"/>
<rect x="325.3" y="223" width="1.6" height="12" fill="#00e2ff"/>
<rect x="326.6" y="223" width="1.6" height="12" fill="#0095ff"/>
<rect x="327.9" y="223" width="1.6" height="12" fill="#00ebff"/>
<rect x="329.2" y="223" width="1.9" height="12" fill="#d4ff2b"/>
<rect x="330.8" y="223" width="1.5" height="12" fill="#27ffd8"/>
<rect x="331.9" y="223" width="1.5" height="12" fill="#00d3ff"/>
<rect x="333.1" y="223" width="1.5" height="12" fill="#e9ff16"/>
<rect x="334.3" y="223" width="1.5" height="12" fill="#32ffcd"/>
<rect x="335.5" y="223" width="1.9" height="12" fill="#00dcff"/>
<rect x="337.0" y="223" width="1.9" height="12" fill="#65ff9a"/>
<rect x="338.6" y="223" width="1.9" height="12" fill="#97ff68"/>
<rect x="340.2" y="223" width="10.2" height="12" fill="#e9ff16"/>
<rect x="55.4" y="212" width="6.9" height="11" fill="#45ffba"/>
<rect x="62.0" y="212" width="1.5" height="11" fill="#00d7ff"/>
<rect x="63.2" y="212" width="1.5" height="11" fill="#2cffd3"/>
<rect x="64.4" y="212" width="1.5" height="11" fill="#8cff73"/>
<rect x="65.6" y="212" width="1.5" height="11" fill="#30ffcf"/>
<rect x="66.7" y="212" width="1.6" height="11" fill="#35ffca"/>
<rect x="68.1" y="212" width="1.6" height="11" fill="#00daff"/>
<rect x="69.4" y="212" width="1.6" height="11" fill="#1affe5"/>
<rect x="70.7" y="212" width="1.6" height="11" fill="#0070ff"/>
<rect x="72.0" y="212" width="1.6" height="11" fill="#00b1ff"/>
<rect x="73.3" y="212" width="1.6" height="11" fill="#006aff"/>
<rect x="74.6" y="212" width="1.9" height="11" fill="#00c2ff"/>
<rect x="76.2" y="212" width="1.9" height="11" fill="#3affc5"/>
<rect x="77.7" y="212" width="1.9" height="11" fill="#0065ff"/>
<rect x="79.3" y="212" width="1.9" height="11" fill="#009cff"/>
<rect x="80.9" y="212" width="1.5" height="11" fill="#12ffed"/>
<rect x="82.0" y="212" width="1.5" height="11" fill="#00b5ff"/>
<rect x="83.2" y="212" width="1.9" height="11" fill="#00a7ff"/>
<rect x="84.8" y="212" width="1.9" height="11" fill="#004eff"/>
<rect x="86.4" y="212" width="1.5" height="11" fill="#00daff"/>
<rect x="87.5" y="212" width="1.5" height="11" fill="#36ffc9"/>
<rect x="88.7" y="212" width="1.9" height="11" fill="#0071ff"/>
<rect x="90.3" y="212" width="1.9" height="11" fill="#00a3ff"/>
<rect x="91.8" y="212" width="1.9" height="11" fill="#20ffdf"/>
<rect x="93.4" y="212" width="1.9" height="11" fill="#00b5ff"/>
<rect x="95.0" y="212" width="1.9" height="11" fill="#008aff"/>
<rect x="96.6" y="212" width="1.9" height="11" fill="#0041ff"/>
<rect x="98.1" y="212" width="1.6" height="11" fill="#03fffc"/>
<rect x="99.4" y="212" width="1.6" height="11" fill="#00acff"/>
<rect x="100.7" y="212" width="1.6" height="11" fill="#08fff7"/>
<rect x="102.0" y="212" width="1.7" height="11" fill="#0090ff"/>
<rect x="103.4" y="212" width="1.7" height="11" fill="#0066ff"/>
<rect x="104.8" y="212" width="1.7" height="11" fill="#009fff"/>
<rect x="106.2" y="212" width="1.7" height="11" fill="#0053ff"/>
<rect x="107.5" y="212" width="1.6" height="11" fill="#004bff"/>
<rect x="108.8" y="212" width="1.6" height="11" fill="#0000f2"/>
<rect x="110.1" y="212" width="1.8" height="11" fill="#0043ff"/>
<rect x="111.5" y="212" width="1.9" height="11" fill="#0000f8"/>
<rect x="113.2" y="212" width="2.2" height="11" fill="#004aff"/>
<rect x="115.0" y="212" width="2.5" height="11" fill="#0000fb"/>
<rect x="117.2" y="212" width="2.0" height="11" fill="#004dff"/>
<rect x="119.0" y="212" width="2.7" height="11" fill="#0000b8"/>
<rect x="121.4" y="212" width="1.5" height="11" fill="#0039ff"/>
<rect x="122.7" y="212" width="1.7" height="11" fill="#0000b2"/>
<rect x="124.1" y="212" width="2.8" height="11" fill="#003fff"/>
<rect x="126.5" y="212" width="1.9" height="11" fill="#0000b6"/>
<rect x="128.1" y="212" width="2.2" height="11" fill="#0032ff"/>
<rect x="130.1" y="212" width="1.7" height="11" fill="#0000b5"/>
<rect x="131.5" y="212" width="0.3" height="11" fill="#0044ff"/>
<rect x="131.5" y="212" width="2.7" height="11" fill="#0000a5"/>
<rect x="133.9" y="212" width="2.1" height="11" fill="#0035ff"/>
<rect x="135.7" y="212" width="1.8" height="11" fill="#0000ae"/>
<rect x="137.2" y="212" width="2.2" height="11" fill="#0034ff"/>
<rect x="139.1" y="212" width="1.9" height="11" fill="#0000a6"/>
<rect x="140.7" y="212" width="2.2" height="11" fill="#0034ff"/>
<rect x="142.6" y="212" width="2.5" height="11" fill="#0000a5"/>
<rect x="144.7" y="212" width="1.2" height="11" fill="#0007ff"/>
<rect x="145.7" y="212" width="1.9" height="11" fill="#0030ff"/>
<rect x="147.2" y="212" width="1.9" height="11" fill="#0049ff"/>
<rect x="148.8" y="212" width="1.9" height="11" fill="#0022ff"/>
<rect x="150.4" y="212" width="1.9" height="11" fill="#0000a4"/>
<rect x="151.9" y="212" width="1.9" height="11" fill="#0010ff"/>
<rect x="153.5" y="212" width="1.9" height="11" fill="#0000a4"/>
<rect x="155.1" y="212" width="3.4" height="11" fill="#0010ff"/>
<rect x="158.2" y="212" width="9.7" height="11" fill="#0000a4"/>
<rect x="167.6" y="212" width="1.9" height="11" fill="#0010ff"/>
<rect x="169.2" y="212" width="12.8" height="11" fill="#00008c"/>
<rect x="181.7" y="212" width="1.4" height="11" fill="#0000d2"/>
<rect x="182.8" y="212" width="37.6" height="11" fill="#000086"/>
<rect x="220.2" y="212" width="1.4" height="11" fill="#0000d2"/>
<rect x="221.3" y="212" width="12.8" height="11" fill="#00008c"/>
<rect x="233.8" y="212" width="1.9" height="11" fill="#0010ff"/>
<rect x="235.4" y="212" width="9.7" height="11" fill="#0000a4"/>
<rect x="244.8" y="212" width="3.4" height="11" fill="#0010ff"/>
<rect x="247.9" y="212" width="1.9" height="11" fill="#0000a4"/>
<rect x="249.5" y="212" width="1.9" height="11" fill="#0010ff"/>
<rect x="251.1" y="212" width="1.9" height="11" fill="#0000a4"/>
<rect x="252.6" y="212" width="1.9" height="11" fill="#0022ff"/>
<rect x="254.2" y="212" width="1.9" height="11" fill="#0049ff"/>
<rect x="255.8" y="212" width="1.9" height="11" fill="#0030ff"/>
<rect x="257.3" y="212" width="1.2" height="11" fill="#0007ff"/>
<rect x="258.2" y="212" width="2.5" height="11" fill="#0000a5"/>
<rect x="260.4" y="212" width="2.2" height="11" fill="#0034ff"/>
<rect x="262.3" y="212" width="1.9" height="11" fill="#0000a6"/>
<rect x="263.8" y="212" width="2.2" height="11" fill="#0034ff"/>
<rect x="265.8" y="212" width="1.8" height="11" fill="#0000ae"/>
<rect x="267.3" y="212" width="2.1" height="11" fill="#0035ff"/>
<rect x="269.1" y="212" width="2.7" height="11" fill="#0000a5"/>
<rect x="271.5" y="212" width="0.3" height="11" fill="#0044ff"/>
<rect x="271.5" y="212" width="1.7" height="11" fill="#0000b5"/>
<rect x="272.9" y="212" width="2.2" height="11" fill="#0032ff"/>
<rect x="274.9" y="212" width="1.9" height="11" fill="#0000b6"/>
<rect x="276.5" y="212" width="2.8" height="11" fill="#003fff"/>
<rect x="278.9" y="212" width="1.7" height="11" fill="#0000b2"/>
<rect x="280.3" y="212" width="1.5" height="11" fill="#0039ff"/>
<rect x="281.6" y="212" width="2.7" height="11" fill="#0000b8"/>
<rect x="284.0" y="212" width="2.0" height="11" fill="#004dff"/>
<rect x="285.7" y="212" width="2.5" height="11" fill="#0000fb"/>
<rect x="287.9" y="212" width="2.2" height="11" fill="#004aff"/>
<rect x="289.8" y="212" width="1.9" height="11" fill="#0000f8"/>
<rect x="291.4" y="212" width="1.8" height="11" fill="#0043ff"/>
<rect x="292.9" y="212" width="1.6" height="11" fill="#0000f2"/>
<rect x="294.2" y="212" width="1.6" height="11" fill="#004bff"/>
<rect x="295.5" y="212" width="1.7" height="11" fill="#0053ff"/>
<rect x="296.8" y="212" width="1.7" height="11" fill="#009fff"/>
<rect x="298.2" y="212" width="1.7" height="11" fill="#0066ff"/>
<rect x="299.6" y="212" width="1.7" height="11" fill="#0090ff"/>
<rect x="300.9" y="212" width="1.6" height="11" fill="#08fff7"/>
<rect x="302.3" y="212" width="1.6" height="11" fill="#00acff"/>
<rect x="303.6" y="212" width="1.6" height="11" fill="#03fffc"/>
<rect x="304.9" y="212" width="1.9" height="11" fill="#0041ff"/>
<rect x="306.4" y="212" width="1.9" height="11" fill="#008aff"/>
<rect x="308.0" y="212" width="1.9" height="11" fill="#00b5ff"/>
<rect x="309.6" y="212" width="1.9" height="11" fill="#20ffdf"/>
<rect x="311.1" y="212" width="1.9" height="11" fill="#00a3ff"/>
<rect x="312.7" y="212" width="1.9" height="11" fill="#0071ff"/>
<rect x="314.3" y="212" width="1.5" height="11" fill="#36ffc9"/>
<rect x="315.5" y="212" width="1.5" height="11" fill="#00daff"/>
<rect x="316.6" y="212" width="1.9" height="11" fill="#004eff"/>
<rect x="318.2" y="212" width="1.9" height="11" fill="#00a7ff"/>
<rect x="319.8" y="212" width="1.5" height="11" fill="#00b5ff"/>
<rect x="320.9" y="212" width="1.5" height="11" fill="#12ffed"/>
<rect x="322.1" y="212" width="1.9" height="11" fill="#009cff"/>
<rect x="323.7" y="212" width="1.9" height="11" fill="#0065ff"/>
<rect x="325.3" y="212" width="1.9" height="11" fill="#3affc5"/>
<rect x="326.8" y="212" width="1.9" height="11" fill="#00c2ff"/>
<rect x="328.4" y="212" width="1.6" height="11" fill="#006aff"/>
<rect x="329.7" y="212" width="1.6" height="11" fill="#00b1ff"/>
<rect x="331.0" y="212" width="1.6" height="11" fill="#0070ff"/>
<rect x="332.3" y="212" width="1.6" height="11" fill="#1affe5"/>
<rect x="333.6" y="212" width="1.6" height="11" fill="#00daff"/>
<rect x="334.9" y="212" width="1.6" height="11" fill="#35ffca"/>
<rect x="336.2" y="212" width="1.5" height="11" fill="#30ffcf"/>
<rect x="337.4" y="212" width="1.5" height="11" fill="#8cff73"/>
<rect x="338.6" y="212" width="1.5" height="11" fill="#2cffd3"/>
<rect x="339.8" y="212" width="1.5" height="11" fill="#00d7ff"/>
<rect x="340.9" y="212" width="9.4" height="11" fill="#45ffba"/>
<rect x="55.4" y="201" width="8.5" height="11" fill="#ffc300"/>
<rect x="63.6" y="201" width="1.9" height="11" fill="#40ffbf"/>
<rect x="65.2" y="201" width="1.9" height="11" fill="#00c4ff"/>
<rect x="66.7" y="201" width="1.9" height="11" fill="#caff35"/>
<rect x="68.3" y="201" width="1.9" height="11" fill="#48ffb7"/>
<rect x="69.9" y="201" width="1.5" height="11" fill="#2bffd4"/>
<rect x="71.1" y="201" width="1.5" height="11" fill="#00dfff"/>
<rect x="72.2" y="201" width="1.9" height="11" fill="#0077ff"/>
<rect x="73.8" y="201" width="1.9" height="11" fill="#37ffc8"/>
<rect x="75.4" y="201" width="1.9" height="11" fill="#00b9ff"/>
<rect x="76.9" y="201" width="1.9" height="11" fill="#50ffaf"/>
<rect x="78.5" y="201" width="1.9" height="11" fill="#00c2ff"/>
<rect x="80.1" y="201" width="1.5" height="11" fill="#0079ff"/>
<rect x="81.3" y="201" width="1.5" height="11" fill="#00a8ff"/>
<rect x="82.4" y="201" width="1.7" height="11" fill="#00dbff"/>
<rect x="83.8" y="201" width="1.7" height="11" fill="#42ffbd"/>
<rect x="85.3" y="201" width="1.7" height="11" fill="#00cbff"/>
<rect x="86.7" y="201" width="1.7" height="11" fill="#3dffc2"/>
<rect x="88.1" y="201" width="1.7" height="11" fill="#00d1ff"/>
<rect x="89.5" y="201" width="1.5" height="11" fill="#8fff70"/>
<rect x="90.7" y="201" width="1.5" height="11" fill="#2dffd2"/>
<rect x="91.8" y="201" width="1.6" height="11" fill="#40ffbf"/>
<rect x="93.2" y="201" width="1.6" height="11" fill="#00c3ff"/>
<rect x="94.5" y="201" width="1.6" height="11" fill="#36ffc9"/>
<rect x="95.8" y="201" width="1.6" height="11" fill="#00dfff"/>
<rect x="97.1" y="201" width="1.6" height="11" fill="#7eff81"/>
<rect x="98.4" y="201" width="1.6" height="11" fill="#08fff7"/>
<rect x="99.7" y="201" width="1.7" height="11" fill="#00d3ff"/>
<rect x="101.1" y="201" width="1.7" height="11" fill="#26ffd9"/>
<rect x="102.4" y="201" width="1.7" height="11" fill="#00ccff"/>
<rect x="103.8" y="201" width="1.7" height="11" fill="#0ffff0"/>
<rect x="105.2" y="201" width="1.5" height="11" fill="#008eff"/>
<rect x="106.4" y="201" width="1.5" height="11" fill="#00bfff"/>
<rect x="107.5" y="201" width="11.0" height="11" fill="#004eff"/>
<rect x="118.2" y="201" width="1.9" height="11" fill="#0000b1"/>
<rect x="119.8" y="201" width="2.1" height="11" fill="#0045ff"/>
<rect x="121.5" y="201" width="2.1" height="11" fill="#0025ff"/>
<rect x="123.3" y="201" width="2.1" height="11" fill="#0042ff"/>
<rect x="125.1" y="201" width="2.1" height="11" fill="#0024ff"/>
<rect x="126.8" y="201" width="1.9" height="11" fill="#0000b1"/>
<rect x="128.4" y="201" width="2.1" height="11" fill="#0040ff"/>
<rect x="130.2" y="201" width="2.1" height="11" fill="#002eff"/>
<rect x="132.1" y="201" width="2.1" height="11" fill="#004dff"/>
<rect x="133.9" y="201" width="2.1" height="11" fill="#0024ff"/>
<rect x="135.7" y="201" width="2.1" height="11" fill="#0045ff"/>
<rect x="137.5" y="201" width="2.1" height="11" fill="#002eff"/>
<rect x="139.4" y="201" width="1.9" height="11" fill="#0000b1"/>
<rect x="140.9" y="201" width="2.1" height="11" fill="#0024ff"/>
<rect x="142.7" y="201" width="2.1" height="11" fill="#0049ff"/>
<rect x="144.5" y="201" width="2.1" height="11" fill="#001aff"/>
<rect x="146.3" y="201" width="2.1" height="11" fill="#004aff"/>
<rect x="148.1" y="201" width="2.1" height="11" fill="#001bff"/>
<rect x="149.8" y="201" width="2.1" height="11" fill="#0046ff"/>
<rect x="151.6" y="201" width="1.2" height="11" fill="#0000d2"/>
<rect x="152.6" y="201" width="1.8" height="11" fill="#0036ff"/>
<rect x="154.1" y="201" width="1.8" height="11" fill="#0019ff"/>
<rect x="155.6" y="201" width="1.8" height="11" fill="#004bff"/>
<rect x="157.1" y="201" width="1.2" height="11" fill="#0000d2"/>
<rect x="158.0" y="201" width="1.9" height="11" fill="#0038ff"/>
<rect x="159.7" y="201" width="1.9" height="11" fill="#0027ff"/>
<rect x="161.3" y="201" width="1.9" height="11" fill="#003cff"/>
<rect x="162.9" y="201" width="1.9" height="11" fill="#0024ff"/>
<rect x="164.5" y="201" width="1.9" height="11" fill="#0000a4"/>
<rect x="166.0" y="201" width="3.4" height="11" fill="#0039ff"/>
<rect x="169.2" y="201" width="3.4" height="11" fill="#0062ff"/>
<rect x="172.3" y="201" width="2.1" height="11" fill="#004fff"/>
<rect x="174.1" y="201" width="2.1" height="11" fill="#0027ff"/>
<rect x="175.8" y="201" width="2.1" height="11" fill="#004bff"/>
<rect x="177.6" y="201" width="2.1" height="11" fill="#002fff"/>
<rect x="179.4" y="201" width="2.1" height="11" fill="#0043ff"/>
<rect x="181.1" y="201" width="2.1" height="11" fill="#001eff"/>
<rect x="182.9" y="201" width="2.1" height="11" fill="#0043ff"/>
<rect x="184.7" y="201" width="2.1" height="11" fill="#0027ff"/>
<rect x="186.4" y="201" width="1.9" height="11" fill="#0062ff"/>
<rect x="188.0" y="201" width="1.9" height="11" fill="#0000e9"/>
<rect x="189.6" y="201" width="1.9" height="11" fill="#0000b7"/>
<rect x="191.1" y="201" width="1.9" height="11" fill="#0000a2"/>
<rect x="192.7" y="201" width="6.6" height="11" fill="#000092"/>
<rect x="199.0" y="201" width="5.3" height="11" fill="#0000e6"/>
<rect x="204.0" y="201" width="6.6" height="11" fill="#000092"/>
<rect x="210.3" y="201" width="1.9" height="11" fill="#0000a2"/>
<rect x="211.8" y="201" width="1.9" height="11" fill="#0000b7"/>
<rect x="213.4" y="201" width="1.9" height="11" fill="#0000e9"/>
<rect x="215.0" y="201" width="1.9" height="11" fill="#0062ff"/>
<rect x="216.6" y="201" width="2.1" height="11" fill="#0027ff"/>
<rect x="218.3" y="201" width="2.1" height="11" fill="#0043ff"/>
<rect x="220.1" y="201" width="2.1" height="11" fill="#001eff"/>
<rect x="221.8" y="201" width="2.1" height="11" fill="#0043ff"/>
<rect x="223.6" y="201" width="2.1" height="11" fill="#002fff"/>
<rect x="225.4" y="201" width="2.1" height="11" fill="#004bff"/>
<rect x="227.1" y="201" width="2.1" height="11" fill="#0027ff"/>
<rect x="228.9" y="201" width="2.1" height="11" fill="#004fff"/>
<rect x="230.7" y="201" width="3.4" height="11" fill="#0062ff"/>
<rect x="233.8" y="201" width="3.4" height="11" fill="#0039ff"/>
<rect x="236.9" y="201" width="1.9" height="11" fill="#0000a4"/>
<rect x="238.5" y="201" width="1.9" height="11" fill="#0024ff"/>
<rect x="240.1" y="201" width="1.9" height="11" fill="#003cff"/>
<rect x="241.7" y="201" width="1.9" height="11" fill="#0027ff"/>
<rect x="243.3" y="201" width="1.9" height="11" fill="#0038ff"/>
<rect x="244.9" y="201" width="1.2" height="11" fill="#0000d2"/>
<rect x="245.9" y="201" width="1.8" height="11" fill="#004bff"/>
<rect x="247.4" y="201" width="1.8" height="11" fill="#0019ff"/>
<rect x="248.9" y="201" width="1.8" height="11" fill="#0036ff"/>
<rect x="250.4" y="201" width="1.2" height="11" fill="#0000d2"/>
<rect x="251.4" y="201" width="2.1" height="11" fill="#0046ff"/>
<rect x="253.2" y="201" width="2.1" height="11" fill="#001bff"/>
<rect x="254.9" y="201" width="2.1" height="11" fill="#004aff"/>
<rect x="256.7" y="201" width="2.1" height="11" fill="#001aff"/>
<rect x="258.5" y="201" width="2.1" height="11" fill="#0049ff"/>
<rect x="260.3" y="201" width="2.1" height="11" fill="#0024ff"/>
<rect x="262.0" y="201" width="1.9" height="11" fill="#0000b1"/>
<rect x="263.6" y="201" width="2.1" height="11" fill="#002eff"/>
<rect x="265.4" y="201" width="2.1" height="11" fill="#0045ff"/>
<rect x="267.3" y="201" width="2.1" height="11" fill="#0024ff"/>
<rect x="269.1" y="201" width="2.1" height="11" fill="#004dff"/>
<rect x="270.9" y="201" width="2.1" height="11" fill="#002eff"/>
<rect x="272.8" y="201" width="2.1" height="11" fill="#0040ff"/>
<rect x="274.6" y="201" width="1.9" height="11" fill="#0000b1"/>
<rect x="276.2" y="201" width="2.1" height="11" fill="#0024ff"/>
<rect x="277.9" y="201" width="2.1" height="11" fill="#0042ff"/>
<rect x="279.7" y="201" width="2.1" height="11" fill="#0025ff"/>
<rect x="281.5" y="201" width="2.1" height="11" fill="#0045ff"/>
<rect x="283.2" y="201" width="1.9" height="11" fill="#0000b1"/>
<rect x="284.8" y="201" width="11.0" height="11" fill="#004eff"/>
<rect x="295.5" y="201" width="1.5" height="11" fill="#00bfff"/>
<rect x="296.6" y="201" width="1.5" height="11" fill="#008eff"/>
<rect x="297.8" y="201" width="1.7" height="11" fill="#0ffff0"/>
<rect x="299.2" y="201" width="1.7" height="11" fill="#00ccff"/>
<rect x="300.6" y="201" width="1.7" height="11" fill="#26ffd9"/>
<rect x="301.9" y="201" width="1.7" height="11" fill="#00d3ff"/>
<rect x="303.3" y="201" width="1.6" height="11" fill="#08fff7"/>
<rect x="304.6" y="201" width="1.6" height="11" fill="#7eff81"/>
<rect x="305.9" y="201" width="1.6" height="11" fill="#00dfff"/>
<rect x="307.2" y="201" width="1.6" height="11" fill="#36ffc9"/>
<rect x="308.5" y="201" width="1.6" height="11" fill="#00c3ff"/>
<rect x="309.8" y="201" width="1.6" height="11" fill="#40ffbf"/>
<rect x="311.1" y="201" width="1.5" height="11" fill="#2dffd2"/>
<rect x="312.3" y="201" width="1.5" height="11" fill="#8fff70"/>
<rect x="313.5" y="201" width="1.7" height="11" fill="#00d1ff"/>
<rect x="314.9" y="201" width="1.7" height="11" fill="#3dffc2"/>
<rect x="316.3" y="201" width="1.7" height="11" fill="#00cbff"/>
<rect x="317.7" y="201" width="1.7" height="11" fill="#42ffbd"/>
<rect x="319.1" y="201" width="1.7" height="11" fill="#00dbff"/>
<rect x="320.6" y="201" width="1.5" height="11" fill="#00a8ff"/>
<rect x="321.7" y="201" width="1.5" height="11" fill="#0079ff"/>
<rect x="322.9" y="201" width="1.9" height="11" fill="#00c2ff"/>
<rect x="324.5" y="201" width="1.9" height="11" fill="#50ffaf"/>
<rect x="326.0" y="201" width="1.9" height="11" fill="#00b9ff"/>
<rect x="327.6" y="201" width="1.9" height="11" fill="#37ffc8"/>
<rect x="329.2" y="201" width="1.9" height="11" fill="#0077ff"/>
<rect x="330.8" y="201" width="1.5" height="11" fill="#00dfff"/>
<rect x="331.9" y="201" width="1.5" height="11" fill="#2bffd4"/>
<rect x="333.1" y="201" width="1.9" height="11" fill="#48ffb7"/>
<rect x="334.7" y="201" width="1.9" height="11" fill="#caff35"/>
<rect x="336.2" y="201" width="1.9" height="11" fill="#00c4ff"/>
<rect x="337.8" y="201" width="1.9" height="11" fill="#40ffbf"/>
<rect x="339.4" y="201" width="11.0" height="11" fill="#ffc300"/>
<rect x="55.4" y="190" width="7.7" height="11" fill="#00f2ff"/>
<rect x="62.8" y="190" width="1.5" height="11" fill="#20ffdf"/>
<rect x="64.0" y="190" width="1.5" height="11" fill="#00bbff"/>
<rect x="65.2" y="190" width="1.5" height="11" fill="#0059ff"/>
<rect x="66.4" y="190" width="1.5" height="11" fill="#009fff"/>
<rect x="67.5" y="190" width="1.5" height="11" fill="#00c1ff"/>
<rect x="68.7" y="190" width="1.5" height="11" fill="#33ffcc"/>
<rect x="69.9" y="190" width="1.5" height="11" fill="#007bff"/>
<rect x="71.1" y="190" width="1.5" height="11" fill="#0050ff"/>
<rect x="72.2" y="190" width="1.9" height="11" fill="#00abff"/>
<rect x="73.8" y="190" width="1.9" height="11" fill="#0074ff"/>
<rect x="75.4" y="190" width="1.9" height="11" fill="#38ffc7"/>
<rect x="76.9" y="190" width="1.9" height="11" fill="#00c4ff"/>
<rect x="78.5" y="190" width="1.5" height="11" fill="#008bff"/>
<rect x="79.7" y="190" width="1.5" height="11" fill="#0055ff"/>
<rect x="80.9" y="190" width="1.5" height="11" fill="#29ffd6"/>
<rect x="82.0" y="190" width="1.5" height="11" fill="#00a9ff"/>
<rect x="83.2" y="190" width="1.9" height="11" fill="#0039ff"/>
<rect x="84.8" y="190" width="1.6" height="11" fill="#00bcff"/>
<rect x="86.1" y="190" width="1.6" height="11" fill="#37ffc8"/>
<rect x="87.4" y="190" width="1.6" height="11" fill="#00bfff"/>
<rect x="88.7" y="190" width="1.6" height="11" fill="#0025ff"/>
<rect x="90.0" y="190" width="1.6" height="11" fill="#006eff"/>
<rect x="91.3" y="190" width="1.6" height="11" fill="#0027ff"/>
<rect x="92.6" y="190" width="1.6" height="11" fill="#00b3ff"/>
<rect x="93.9" y="190" width="1.6" height="11" fill="#17ffe8"/>
<rect x="95.2" y="190" width="1.6" height="11" fill="#00cdff"/>
<rect x="96.6" y="190" width="1.6" height="11" fill="#0087ff"/>
<rect x="97.9" y="190" width="1.6" height="11" fill="#004dff"/>
<rect x="99.2" y="190" width="1.6" height="11" fill="#00a0ff"/>
<rect x="100.5" y="190" width="1.5" height="11" fill="#0097ff"/>
<rect x="101.6" y="190" width="1.5" height="11" fill="#00e3ff"/>
<rect x="102.8" y="190" width="1.9" height="11" fill="#0000fa"/>
<rect x="104.4" y="190" width="1.9" height="11" fill="#002dff"/>
<rect x="106.0" y="190" width="1.9" height="11" fill="#0000fa"/>
<rect x="107.5" y="190" width="0.5" height="11" fill="#0010ff"/>
<rect x="107.7" y="190" width="1.2" height="11" fill="#0000a4"/>
<rect x="108.6" y="190" width="2.3" height="11" fill="#0005ff"/>
<rect x="110.7" y="190" width="2.3" height="11" fill="#0019ff"/>
<rect x="112.7" y="190" width="5.0" height="11" fill="#0000a4"/>
<rect x="117.4" y="190" width="2.1" height="11" fill="#001eff"/>
<rect x="119.2" y="190" width="2.1" height="11" fill="#0000fd"/>
<rect x="121.1" y="190" width="2.1" height="11" fill="#0019ff"/>
<rect x="122.9" y="190" width="3.4" height="11" fill="#0000a4"/>
<rect x="126.0" y="190" width="2.7" height="11" fill="#0010ff"/>
<rect x="128.4" y="190" width="1.9" height="11" fill="#0039ff"/>
<rect x="130.0" y="190" width="1.9" height="11" fill="#0058ff"/>
<rect x="131.5" y="190" width="1.9" height="11" fill="#0030ff"/>
<rect x="133.1" y="190" width="1.9" height="11" fill="#0055ff"/>
<rect x="134.7" y="190" width="1.9" height="11" fill="#0046ff"/>
<rect x="136.2" y="190" width="1.9" height="11" fill="#0039ff"/>
<rect x="137.8" y="190" width="2.4" height="11" fill="#0000a7"/>
<rect x="139.9" y="190" width="2.7" height="11" fill="#0000e6"/>
<rect x="142.3" y="190" width="0.5" height="11" fill="#00009d"/>
<rect x="142.5" y="190" width="3.4" height="11" fill="#0010ff"/>
<rect x="145.7" y="190" width="2.7" height="11" fill="#0000a4"/>
<rect x="148.0" y="190" width="1.9" height="11" fill="#0039ff"/>
<rect x="149.6" y="190" width="2.7" height="11" fill="#0000a4"/>
<rect x="151.9" y="190" width="3.4" height="11" fill="#0000e6"/>
<rect x="155.1" y="190" width="2.6" height="11" fill="#0000e4"/>
<rect x="157.4" y="190" width="1.9" height="11" fill="#0030ff"/>
<rect x="159.0" y="190" width="2.3" height="11" fill="#000089"/>
<rect x="161.0" y="190" width="2.1" height="11" fill="#000099"/>
<rect x="162.9" y="190" width="1.7" height="11" fill="#000087"/>
<rect x="164.2" y="190" width="1.8" height="11" fill="#000099"/>
<rect x="165.7" y="190" width="1.8" height="11" fill="#00008b"/>
<rect x="167.2" y="190" width="2.7" height="11" fill="#00009e"/>
<rect x="169.6" y="190" width="2.1" height="11" fill="#00008a"/>
<rect x="171.4" y="190" width="1.5" height="11" fill="#00009a"/>
<rect x="172.6" y="190" width="1.6" height="11" fill="#000087"/>
<rect x="173.9" y="190" width="3.4" height="11" fill="#0039ff"/>
<rect x="177.0" y="190" width="1.9" height="11" fill="#0089ff"/>
<rect x="178.6" y="190" width="1.9" height="11" fill="#005cff"/>
<rect x="180.2" y="190" width="1.9" height="11" fill="#007fff"/>
<rect x="181.7" y="190" width="1.9" height="11" fill="#004eff"/>
<rect x="183.3" y="190" width="2.1" height="11" fill="#0000f3"/>
<rect x="185.1" y="190" width="2.1" height="11" fill="#0008ff"/>
<rect x="187.0" y="190" width="2.1" height="11" fill="#0000f0"/>
<rect x="188.8" y="190" width="2.1" height="11" fill="#0001ff"/>
<rect x="190.6" y="190" width="2.1" height="11" fill="#0000ec"/>
<rect x="192.4" y="190" width="2.1" height="11" fill="#000cff"/>
<rect x="194.3" y="190" width="1.9" height="11" fill="#004eff"/>
<rect x="195.8" y="190" width="11.6" height="11" fill="#00008c"/>
<rect x="207.1" y="190" width="1.9" height="11" fill="#004eff"/>
<rect x="208.7" y="190" width="2.1" height="11" fill="#000cff"/>
<rect x="210.5" y="190" width="2.1" height="11" fill="#0000ec"/>
<rect x="212.4" y="190" width="2.1" height="11" fill="#0001ff"/>
<rect x="214.2" y="190" width="2.1" height="11" fill="#0000f0"/>
<rect x="216.0" y="190" width="2.1" height="11" fill="#0008ff"/>
<rect x="217.9" y="190" width="2.1" height="11" fill="#0000f3"/>
<rect x="219.7" y="190" width="1.9" height="11" fill="#004eff"/>
<rect x="221.3" y="190" width="1.9" height="11" fill="#007fff"/>
<rect x="222.8" y="190" width="1.9" height="11" fill="#005cff"/>
<rect x="224.4" y="190" width="1.9" height="11" fill="#0089ff"/>
<rect x="226.0" y="190" width="3.4" height="11" fill="#0039ff"/>
<rect x="229.1" y="190" width="1.6" height="11" fill="#000087"/>
<rect x="230.4" y="190" width="1.5" height="11" fill="#00009a"/>
<rect x="231.6" y="190" width="2.1" height="11" fill="#00008a"/>
<rect x="233.4" y="190" width="2.7" height="11" fill="#00009e"/>
<rect x="235.8" y="190" width="1.8" height="11" fill="#00008b"/>
<rect x="237.3" y="190" width="1.8" height="11" fill="#000099"/>
<rect x="238.8" y="190" width="1.7" height="11" fill="#000087"/>
<rect x="240.1" y="190" width="2.1" height="11" fill="#000099"/>
<rect x="242.0" y="190" width="2.3" height="11" fill="#000089"/>
<rect x="244.0" y="190" width="1.9" height="11" fill="#0030ff"/>
<rect x="245.6" y="190" width="2.6" height="11" fill="#0000e4"/>
<rect x="247.9" y="190" width="3.4" height="11" fill="#0000e6"/>
<rect x="251.1" y="190" width="2.7" height="11" fill="#0000a4"/>
<rect x="253.4" y="190" width="1.9" height="11" fill="#0039ff"/>
<rect x="255.0" y="190" width="2.7" height="11" fill="#0000a4"/>
<rect x="257.3" y="190" width="3.4" height="11" fill="#0010ff"/>
<rect x="260.5" y="190" width="0.5" height="11" fill="#00009d"/>
<rect x="260.7" y="190" width="2.7" height="11" fill="#0000e6"/>
<rect x="263.1" y="190" width="2.4" height="11" fill="#0000a7"/>
<rect x="265.2" y="190" width="1.9" height="11" fill="#0039ff"/>
<rect x="266.7" y="190" width="1.9" height="11" fill="#0046ff"/>
<rect x="268.3" y="190" width="1.9" height="11" fill="#0055ff"/>
<rect x="269.9" y="190" width="1.9" height="11" fill="#0030ff"/>
<rect x="271.5" y="190" width="1.9" height="11" fill="#0058ff"/>
<rect x="273.0" y="190" width="1.9" height="11" fill="#0039ff"/>
<rect x="274.6" y="190" width="2.7" height="11" fill="#0010ff"/>
<rect x="276.9" y="190" width="3.4" height="11" fill="#0000a4"/>
<rect x="280.1" y="190" width="2.1" height="11" fill="#0019ff"/>
<rect x="281.9" y="190" width="2.1" height="11" fill="#0000fd"/>
<rect x="283.7" y="190" width="2.1" height="11" fill="#001eff"/>
<rect x="285.6" y="190" width="5.0" height="11" fill="#0000a4"/>
<rect x="290.3" y="190" width="2.3" height="11" fill="#0019ff"/>
<rect x="292.3" y="190" width="2.3" height="11" fill="#0005ff"/>
<rect x="294.4" y="190" width="1.2" height="11" fill="#0000a4"/>
<rect x="295.3" y="190" width="0.5" height="11" fill="#0010ff"/>
<rect x="295.5" y="190" width="1.9" height="11" fill="#0000fa"/>
<rect x="297.0" y="190" width="1.9" height="11" fill="#002dff"/>
<rect x="298.6" y="190" width="1.9" height="11" fill="#0000fa"/>
<rect x="300.2" y="190" width="1.5" height="11" fill="#00e3ff"/>
<rect x="301.3" y="190" width="1.5" height="11" fill="#0097ff"/>
<rect x="302.5" y="190" width="1.6" height="11" fill="#00a0ff"/>
<rect x="303.8" y="190" width="1.6" height="11" fill="#004dff"/>
<rect x="305.1" y="190" width="1.6" height="11" fill="#0087ff"/>
<rect x="306.4" y="190" width="1.6" height="11" fill="#00cdff"/>
<rect x="307.7" y="190" width="1.6" height="11" fill="#17ffe8"/>
<rect x="309.1" y="190" width="1.6" height="11" fill="#00b3ff"/>
<rect x="310.4" y="190" width="1.6" height="11" fill="#0027ff"/>
<rect x="311.7" y="190" width="1.6" height="11" fill="#006eff"/>
<rect x="313.0" y="190" width="1.6" height="11" fill="#0025ff"/>
<rect x="314.3" y="190" width="1.6" height="11" fill="#00bfff"/>
<rect x="315.6" y="190" width="1.6" height="11" fill="#37ffc8"/>
<rect x="316.9" y="190" width="1.6" height="11" fill="#00bcff"/>
<rect x="318.2" y="190" width="1.9" height="11" fill="#0039ff"/>
<rect x="319.8" y="190" width="1.5" height="11" fill="#00a9ff"/>
<rect x="320.9" y="190" width="1.5" height="11" fill="#29ffd6"/>
<rect x="322.1" y="190" width="1.5" height="11" fill="#0055ff"/>
<rect x="323.3" y="190" width="1.5" height="11" fill="#008bff"/>
<rect x="324.5" y="190" width="1.9" height="11" fill="#00c4ff"/>
<rect x="326.0" y="190" width="1.9" height="11" fill="#38ffc7"/>
<rect x="327.6" y="190" width="1.9" height="11" fill="#0074ff"/>
<rect x="329.2" y="190" width="1.9" height="11" fill="#00abff"/>
<rect x="330.8" y="190" width="1.5" height="11" fill="#0050ff"/>
<rect x="331.9" y="190" width="1.5" height="11" fill="#007bff"/>
<rect x="333.1" y="190" width="1.5" height="11" fill="#33ffcc"/>
<rect x="334.3" y="190" width="1.5" height="11" fill="#00c1ff"/>
<rect x="335.5" y="190" width="1.5" height="11" fill="#009fff"/>
<rect x="336.6" y="190" width="1.5" height="11" fill="#0059ff"/>
<rect x="337.8" y="190" width="1.5" height="11" fill="#00bbff"/>
<rect x="339.0" y="190" width="1.5" height="11" fill="#20ffdf"/>
<rect x="340.2" y="190" width="10.2" height="11" fill="#00f2ff"/>
<rect x="55.4" y="179" width="6.9" height="11" fill="#45ffba"/>
<rect x="62.0" y="179" width="1.5" height="11" fill="#3cffc3"/>
<rect x="63.2" y="179" width="1.5" height="11" fill="#00beff"/>
<rect x="64.4" y="179" width="1.5" height="11" fill="#2effd1"/>
<rect x="65.6" y="179" width="1.5" height="11" fill="#d6ff29"/>
<rect x="66.7" y="179" width="1.9" height="11" fill="#00bbff"/>
<rect x="68.3" y="179" width="3.0" height="11" fill="#3dffc2"/>
<rect x="71.1" y="179" width="1.5" height="11" fill="#00ccff"/>
<rect x="72.2" y="179" width="1.5" height="11" fill="#0074ff"/>
<rect x="73.4" y="179" width="1.5" height="11" fill="#00c2ff"/>
<rect x="74.6" y="179" width="1.6" height="11" fill="#00dcff"/>
<rect x="75.9" y="179" width="1.6" height="11" fill="#5affa5"/>
<rect x="77.2" y="179" width="1.6" height="11" fill="#00cfff"/>
<rect x="78.5" y="179" width="1.5" height="11" fill="#00d9ff"/>
<rect x="79.7" y="179" width="1.5" height="11" fill="#2fffd0"/>
<rect x="80.9" y="179" width="1.5" height="11" fill="#007aff"/>
<rect x="82.0" y="179" width="1.5" height="11" fill="#009bff"/>
<rect x="83.2" y="179" width="1.7" height="11" fill="#00d0ff"/>
<rect x="84.6" y="179" width="1.7" height="11" fill="#47ffb8"/>
<rect x="86.0" y="179" width="1.7" height="11" fill="#00d9ff"/>
<rect x="87.3" y="179" width="1.7" height="11" fill="#38ffc7"/>
<rect x="88.7" y="179" width="1.5" height="11" fill="#00b4ff"/>
<rect x="89.9" y="179" width="1.5" height="11" fill="#0075ff"/>
<rect x="91.1" y="179" width="1.9" height="11" fill="#00deff"/>
<rect x="92.6" y="179" width="1.9" height="11" fill="#54ffab"/>
<rect x="94.2" y="179" width="1.5" height="11" fill="#38ffc7"/>
<rect x="95.4" y="179" width="1.5" height="11" fill="#b3ff4c"/>
<rect x="96.6" y="179" width="1.5" height="11" fill="#00cfff"/>
<rect x="97.7" y="179" width="1.5" height="11" fill="#35ffca"/>
<rect x="98.9" y="179" width="1.5" height="11" fill="#b0ff4f"/>
<rect x="100.1" y="179" width="1.5" height="11" fill="#14ffeb"/>
<rect x="101.3" y="179" width="1.6" height="11" fill="#2affd5"/>
<rect x="102.6" y="179" width="1.6" height="11" fill="#00cfff"/>
<rect x="103.9" y="179" width="1.6" height="11" fill="#0cfff3"/>
<rect x="105.2" y="179" width="1.5" height="11" fill="#00a9ff"/>
<rect x="106.4" y="179" width="1.5" height="11" fill="#005fff"/>
<rect x="107.5" y="179" width="2.7" height="11" fill="#0000a9"/>
<rect x="109.9" y="179" width="1.5" height="11" fill="#0000f1"/>
<rect x="111.1" y="179" width="1.9" height="11" fill="#0051ff"/>
<rect x="112.7" y="179" width="1.9" height="11" fill="#0032ff"/>
<rect x="114.3" y="179" width="1.9" height="11" fill="#0044ff"/>
<rect x="115.8" y="179" width="1.9" height="11" fill="#0029ff"/>
<rect x="117.4" y="179" width="1.9" height="11" fill="#0042ff"/>
<rect x="119.0" y="179" width="1.9" height="11" fill="#0030ff"/>
<rect x="120.6" y="179" width="3.4" height="11" fill="#0000b1"/>
<rect x="123.7" y="179" width="1.9" height="11" fill="#0073ff"/>
<rect x="125.3" y="179" width="1.9" height="11" fill="#004fff"/>
<rect x="126.8" y="179" width="1.9" height="11" fill="#006bff"/>
<rect x="128.4" y="179" width="1.9" height="11" fill="#0046ff"/>
<rect x="130.0" y="179" width="2.6" height="11" fill="#003fff"/>
<rect x="132.3" y="179" width="2.2" height="11" fill="#0000d5"/>
<rect x="134.2" y="179" width="2.4" height="11" fill="#0032ff"/>
<rect x="136.4" y="179" width="1.7" height="11" fill="#0000d8"/>
<rect x="137.8" y="179" width="1.9" height="11" fill="#006dff"/>
<rect x="139.4" y="179" width="1.9" height="11" fill="#0037ff"/>
<rect x="140.9" y="179" width="1.9" height="11" fill="#0063ff"/>
<rect x="142.5" y="179" width="2.3" height="11" fill="#0000ee"/>
<rect x="144.5" y="179" width="2.6" height="11" fill="#0000a1"/>
<rect x="146.8" y="179" width="1.5" height="11" fill="#0000e5"/>
<rect x="147.9" y="179" width="2.6" height="11" fill="#000098"/>
<rect x="150.2" y="179" width="2.0" height="11" fill="#0000e0"/>
<rect x="151.9" y="179" width="1.9" height="11" fill="#004eff"/>
<rect x="153.5" y="179" width="1.9" height="11" fill="#0000a4"/>
<rect x="155.1" y="179" width="1.9" height="11" fill="#0039ff"/>
<rect x="156.6" y="179" width="10.5" height="11" fill="#000092"/>
<rect x="166.8" y="179" width="1.4" height="11" fill="#0000fb"/>
<rect x="167.9" y="179" width="5.5" height="11" fill="#00008e"/>
<rect x="173.1" y="179" width="1.1" height="11" fill="#0000e6"/>
<rect x="173.9" y="179" width="19.9" height="11" fill="#00008c"/>
<rect x="193.5" y="179" width="1.4" height="11" fill="#0000d2"/>
<rect x="194.6" y="179" width="14.1" height="11" fill="#000086"/>
<rect x="208.4" y="179" width="1.4" height="11" fill="#0000d2"/>
<rect x="209.5" y="179" width="19.9" height="11" fill="#00008c"/>
<rect x="229.1" y="179" width="1.1" height="11" fill="#0000e6"/>
<rect x="229.9" y="179" width="5.5" height="11" fill="#00008e"/>
<rect x="235.1" y="179" width="1.4" height="11" fill="#0000fb"/>
<rect x="236.2" y="179" width="10.5" height="11" fill="#000092"/>
<rect x="246.4" y="179" width="1.9" height="11" fill="#0039ff"/>
<rect x="247.9" y="179" width="1.9" height="11" fill="#0000a4"/>
<rect x="249.5" y="179" width="1.9" height="11" fill="#004eff"/>
<rect x="251.1" y="179" width="2.0" height="11" fill="#0000e0"/>
<rect x="252.8" y="179" width="2.6" height="11" fill="#000098"/>
<rect x="255.1" y="179" width="1.5" height="11" fill="#0000e5"/>
<rect x="256.2" y="179" width="2.6" height="11" fill="#0000a1"/>
<rect x="258.5" y="179" width="2.3" height="11" fill="#0000ee"/>
<rect x="260.5" y="179" width="1.9" height="11" fill="#0063ff"/>
<rect x="262.0" y="179" width="1.9" height="11" fill="#0037ff"/>
<rect x="263.6" y="179" width="1.9" height="11" fill="#006dff"/>
<rect x="265.2" y="179" width="1.7" height="11" fill="#0000d8"/>
<rect x="266.6" y="179" width="2.4" height="11" fill="#0032ff"/>
<rect x="268.8" y="179" width="2.2" height="11" fill="#0000d5"/>
<rect x="270.7" y="179" width="2.6" height="11" fill="#003fff"/>
<rect x="273.0" y="179" width="1.9" height="11" fill="#0046ff"/>
<rect x="274.6" y="179" width="1.9" height="11" fill="#006bff"/>
<rect x="276.2" y="179" width="1.9" height="11" fill="#004fff"/>
<rect x="277.7" y="179" width="1.9" height="11" fill="#0073ff"/>
<rect x="279.3" y="179" width="3.4" height="11" fill="#0000b1"/>
<rect x="282.4" y="179" width="1.9" height="11" fill="#0030ff"/>
<rect x="284.0" y="179" width="1.9" height="11" fill="#0042ff"/>
<rect x="285.6" y="179" width="1.9" height="11" fill="#0029ff"/>
<rect x="287.1" y="179" width="1.9" height="11" fill="#0044ff"/>
<rect x="288.7" y="179" width="1.9" height="11" fill="#0032ff"/>
<rect x="290.3" y="179" width="1.9" height="11" fill="#0051ff"/>
<rect x="291.8" y="179" width="1.5" height="11" fill="#0000f1"/>
<rect x="293.1" y="179" width="2.7" height="11" fill="#0000a9"/>
<rect x="295.5" y="179" width="1.5" height="11" fill="#005fff"/>
<rect x="296.6" y="179" width="1.5" height="11" fill="#00a9ff"/>
<rect x="297.8" y="179" width="1.6" height="11" fill="#0cfff3"/>
<rect x="299.1" y="179" width="1.6" height="11" fill="#00cfff"/>
<rect x="300.4" y="179" width="1.6" height="11" fill="#2affd5"/>
<rect x="301.7" y="179" width="1.5" height="11" fill="#14ffeb"/>
<rect x="302.9" y="179" width="1.5" height="11" fill="#b0ff4f"/>
<rect x="304.1" y="179" width="1.5" height="11" fill="#35ffca"/>
<rect x="305.3" y="179" width="1.5" height="11" fill="#00cfff"/>
<rect x="306.4" y="179" width="1.5" height="11" fill="#b3ff4c"/>
<rect x="307.6" y="179" width="1.5" height="11" fill="#38ffc7"/>
<rect x="308.8" y="179" width="1.9" height="11" fill="#54ffab"/>
<rect x="310.4" y="179" width="1.9" height="11" fill="#00deff"/>
<rect x="311.9" y="179" width="1.5" height="11" fill="#0075ff"/>
<rect x="313.1" y="179" width="1.5" height="11" fill="#00b4ff"/>
<rect x="314.3" y="179" width="1.7" height="11" fill="#38ffc7"/>
<rect x="315.7" y="179" width="1.7" height="11" fill="#00d9ff"/>
<rect x="317.0" y="179" width="1.7" height="11" fill="#47ffb8"/>
<rect x="318.4" y="179" width="1.7" height="11" fill="#00d0ff"/>
<rect x="319.8" y="179" width="1.5" height="11" fill="#009bff"/>
<rect x="320.9" y="179" width="1.5" height="11" fill="#007aff"/>
<rect x="322.1" y="179" width="1.5" height="11" fill="#2fffd0"/>
<rect x="323.3" y="179" width="1.5" height="11" fill="#00d9ff"/>
<rect x="324.5" y="179" width="1.6" height="11" fill="#00cfff"/>
<rect x="325.8" y="179" width="1.6" height="11" fill="#5affa5"/>
<rect x="327.1" y="179" width="1.6" height="11" fill="#00dcff"/>
<rect x="328.4" y="179" width="1.5" height="11" fill="#00c2ff"/>
<rect x="329.6" y="179" width="1.5" height="11" fill="#0074ff"/>
<rect x="330.8" y="179" width="1.5" height="11" fill="#00ccff"/>
<rect x="331.9" y="179" width="3.0" height="11" fill="#3dffc2"/>
<rect x="334.7" y="179" width="1.9" height="11" fill="#00bbff"/>
<rect x="336.2" y="179" width="1.5" height="11" fill="#d6ff29"/>
<rect x="337.4" y="179" width="1.5" height="11" fill="#2effd1"/>
<rect x="338.6" y="179" width="1.5" height="11" fill="#00beff"/>
<rect x="339.8" y="179" width="1.5" height="11" fill="#3cffc3"/>
<rect x="340.9" y="179" width="9.4" height="11" fill="#45ffba"/>
<rect x="55.4" y="168" width="6.9" height="11" fill="#82ff7d"/>
<rect x="62.0" y="168" width="1.6" height="11" fill="#0afff5"/>
<rect x="63.3" y="168" width="1.6" height="11" fill="#6eff91"/>
<rect x="64.7" y="168" width="1.6" height="11" fill="#00f4ff"/>
<rect x="66.0" y="168" width="1.5" height="11" fill="#e3ff1c"/>
<rect x="67.1" y="168" width="1.5" height="11" fill="#56ffa9"/>
<rect x="68.3" y="168" width="1.6" height="11" fill="#0066ff"/>
<rect x="69.6" y="168" width="1.6" height="11" fill="#008aff"/>
<rect x="70.9" y="168" width="1.6" height="11" fill="#0055ff"/>
<rect x="72.2" y="168" width="1.9" height="11" fill="#00e2ff"/>
<rect x="73.8" y="168" width="1.9" height="11" fill="#2fffd0"/>
<rect x="75.4" y="168" width="1.9" height="11" fill="#00c9ff"/>
<rect x="76.9" y="168" width="1.7" height="11" fill="#00d2ff"/>
<rect x="78.3" y="168" width="1.7" height="11" fill="#3cffc3"/>
<rect x="79.7" y="168" width="1.7" height="11" fill="#00caff"/>
<rect x="81.1" y="168" width="1.7" height="11" fill="#20ffdf"/>
<rect x="82.4" y="168" width="1.6" height="11" fill="#004aff"/>
<rect x="83.7" y="168" width="1.6" height="11" fill="#0073ff"/>
<rect x="85.0" y="168" width="1.6" height="11" fill="#0046ff"/>
<rect x="86.4" y="168" width="1.5" height="11" fill="#00d9ff"/>
<rect x="87.5" y="168" width="1.5" height="11" fill="#2fffd0"/>
<rect x="88.7" y="168" width="1.9" height="11" fill="#008aff"/>
<rect x="90.3" y="168" width="1.9" height="11" fill="#005dff"/>
<rect x="91.8" y="168" width="1.9" height="11" fill="#0097ff"/>
<rect x="93.4" y="168" width="1.9" height="11" fill="#0056ff"/>
<rect x="95.0" y="168" width="1.6" height="11" fill="#02fffd"/>
<rect x="96.3" y="168" width="1.6" height="11" fill="#00bcff"/>
<rect x="97.6" y="168" width="1.6" height="11" fill="#1bffe4"/>
<rect x="98.9" y="168" width="1.9" height="11" fill="#0006ff"/>
<rect x="100.5" y="168" width="1.9" height="11" fill="#003fff"/>
<rect x="102.0" y="168" width="1.9" height="11" fill="#0016ff"/>
<rect x="103.6" y="168" width="1.6" height="11" fill="#0028ff"/>
<rect x="104.9" y="168" width="1.6" height="11" fill="#0067ff"/>
<rect x="106.2" y="168" width="1.6" height="11" fill="#002bff"/>
<rect x="107.5" y="168" width="2.3" height="11" fill="#0000a4"/>
<rect x="109.6" y="168" width="2.7" height="11" fill="#0010ff"/>
<rect x="111.9" y="168" width="2.7" height="11" fill="#0000a4"/>
<rect x="114.3" y="168" width="2.7" height="11" fill="#0010ff"/>
<rect x="116.6" y="168" width="2.7" height="11" fill="#0000a4"/>
<rect x="119.0" y="168" width="1.9" height="11" fill="#002aff"/>
<rect x="120.6" y="168" width="1.9" height="11" fill="#0048ff"/>
<rect x="122.1" y="168" width="1.9" height="11" fill="#0032ff"/>
<rect x="123.7" y="168" width="1.5" height="11" fill="#0000a4"/>
<rect x="124.9" y="168" width="2.7" height="11" fill="#00008a"/>
<rect x="127.3" y="168" width="2.1" height="11" fill="#00009e"/>
<rect x="129.1" y="168" width="2.5" height="11" fill="#00008e"/>
<rect x="131.3" y="168" width="1.7" height="11" fill="#0000a3"/>
<rect x="132.7" y="168" width="0.7" height="11" fill="#000088"/>
<rect x="133.1" y="168" width="1.9" height="11" fill="#0010ff"/>
<rect x="134.7" y="168" width="14.4" height="11" fill="#000092"/>
<rect x="148.8" y="168" width="1.9" height="11" fill="#0010ff"/>
<rect x="150.4" y="168" width="10.5" height="11" fill="#00008e"/>
<rect x="160.6" y="168" width="2.3" height="11" fill="#0039ff"/>
<rect x="162.6" y="168" width="10.0" height="11" fill="#00008c"/>
<rect x="172.3" y="168" width="11.3" height="11" fill="#0000a4"/>
<rect x="183.3" y="168" width="2.7" height="11" fill="#004eff"/>
<rect x="185.7" y="168" width="10.5" height="11" fill="#0000a4"/>
<rect x="195.8" y="168" width="2.7" height="11" fill="#0000fb"/>
<rect x="198.2" y="168" width="6.9" height="11" fill="#00008c"/>
<rect x="204.8" y="168" width="2.7" height="11" fill="#0000fb"/>
<rect x="207.1" y="168" width="10.5" height="11" fill="#0000a4"/>
<rect x="217.3" y="168" width="2.7" height="11" fill="#004eff"/>
<rect x="219.7" y="168" width="11.3" height="11" fill="#0000a4"/>
<rect x="230.7" y="168" width="10.0" height="11" fill="#00008c"/>
<rect x="240.4" y="168" width="2.3" height="11" fill="#0039ff"/>
<rect x="242.4" y="168" width="10.5" height="11" fill="#00008e"/>
<rect x="252.6" y="168" width="1.9" height="11" fill="#0010ff"/>
<rect x="254.2" y="168" width="14.4" height="11" fill="#000092"/>
<rect x="268.3" y="168" width="1.9" height="11" fill="#0010ff"/>
<rect x="269.9" y="168" width="0.7" height="11" fill="#000088"/>
<rect x="270.3" y="168" width="1.7" height="11" fill="#0000a3"/>
<rect x="271.7" y="168" width="2.5" height="11" fill="#00008e"/>
<rect x="273.9" y="168" width="2.1" height="11" fill="#00009e"/>
<rect x="275.7" y="168" width="2.7" height="11" fill="#00008a"/>
<rect x="278.1" y="168" width="1.5" height="11" fill="#0000a4"/>
<rect x="279.3" y="168" width="1.9" height="11" fill="#0032ff"/>
<rect x="280.9" y="168" width="1.9" height="11" fill="#0048ff"/>
<rect x="282.4" y="168" width="1.9" height="11" fill="#002aff"/>
<rect x="284.0" y="168" width="2.7" height="11" fill="#0000a4"/>
<rect x="286.4" y="168" width="2.7" height="11" fill="#0010ff"/>
<rect x="288.7" y="168" width="2.7" height="11" fill="#0000a4"/>
<rect x="291.1" y="168" width="2.7" height="11" fill="#0010ff"/>
<rect x="293.4" y="168" width="2.3" height="11" fill="#0000a4"/>
<rect x="295.5" y="168" width="1.6" height="11" fill="#002bff"/>
<rect x="296.8" y="168" width="1.6" height="11" fill="#0067ff"/>
<rect x="298.1" y="168" width="1.6" height="11" fill="#0028ff"/>
<rect x="299.4" y="168" width="1.9" height="11" fill="#0016ff"/>
<rect x="300.9" y="168" width="1.9" height="11" fill="#003fff"/>
<rect x="302.5" y="168" width="1.9" height="11" fill="#0006ff"/>
<rect x="304.1" y="168" width="1.6" height="11" fill="#1bffe4"/>
<rect x="305.4" y="168" width="1.6" height="11" fill="#00bcff"/>
<rect x="306.7" y="168" width="1.6" height="11" fill="#02fffd"/>
<rect x="308.0" y="168" width="1.9" height="11" fill="#0056ff"/>
<rect x="309.6" y="168" width="1.9" height="11" fill="#0097ff"/>
<rect x="311.1" y="168" width="1.9" height="11" fill="#005dff"/>
<rect x="312.7" y="168" width="1.9" height="11" fill="#008aff"/>
<rect x="314.3" y="168" width="1.5" height="11" fill="#2fffd0"/>
<rect x="315.5" y="168" width="1.5" height="11" fill="#00d9ff"/>
<rect x="316.6" y="168" width="1.6" height="11" fill="#0046ff"/>
<rect x="317.9" y="168" width="1.6" height="11" fill="#0073ff"/>
<rect x="319.2" y="168" width="1.6" height="11" fill="#004aff"/>
<rect x="320.6" y="168" width="1.7" height="11" fill="#20ffdf"/>
<rect x="321.9" y="168" width="1.7" height="11" fill="#00caff"/>
<rect x="323.3" y="168" width="1.7" height="11" fill="#3cffc3"/>
<rect x="324.7" y="168" width="1.7" height="11" fill="#00d2ff"/>
<rect x="326.0" y="168" width="1.9" height="11" fill="#00c9ff"/>
<rect x="327.6" y="168" width="1.9" height="11" fill="#2fffd0"/>
<rect x="329.2" y="168" width="1.9" height="11" fill="#00e2ff"/>
<rect x="330.8" y="168" width="1.6" height="11" fill="#0055ff"/>
<rect x="332.1" y="168" width="1.6" height="11" fill="#008aff"/>
<rect x="333.4" y="168" width="1.6" height="11" fill="#0066ff"/>
<rect x="334.7" y="168" width="1.5" height="11" fill="#56ffa9"/>
<rect x="335.9" y="168" width="1.5" height="11" fill="#e3ff1c"/>
<rect x="337.0" y="168" width="1.6" height="11" fill="#00f4ff"/>
<rect x="338.3" y="168" width="1.6" height="11" fill="#6eff91"/>
<rect x="339.6" y="168" width="1.6" height="11" fill="#0afff5"/>
<rect x="340.9" y="168" width="9.4" height="11" fill="#82ff7d"/>
<rect x="55.4" y="157" width="6.1" height="11" fill="#ffaf00"/>
<rect x="61.3" y="157" width="1.9" height="11" fill="#07fff8"/>
<rect x="62.8" y="157" width="1.9" height="11" fill="#97ff68"/>
<rect x="64.4" y="157" width="1.5" height="11" fill="#35ffca"/>
<rect x="65.6" y="157" width="1.5" height="11" fill="#00caff"/>
<rect x="66.7" y="157" width="1.5" height="11" fill="#14ffeb"/>
<rect x="67.9" y="157" width="1.5" height="11" fill="#beff41"/>
<rect x="69.1" y="157" width="1.5" height="11" fill="#0ffff0"/>
<rect x="70.3" y="157" width="1.5" height="11" fill="#00cfff"/>
<rect x="71.5" y="157" width="1.5" height="11" fill="#007aff"/>
<rect x="72.6" y="157" width="1.5" height="11" fill="#00b5ff"/>
<rect x="73.8" y="157" width="1.5" height="11" fill="#0064ff"/>
<rect x="75.0" y="157" width="1.5" height="11" fill="#00b0ff"/>
<rect x="76.2" y="157" width="1.6" height="11" fill="#6cff93"/>
<rect x="77.5" y="157" width="1.6" height="11" fill="#00e0ff"/>
<rect x="78.8" y="157" width="1.6" height="11" fill="#5dffa2"/>
<rect x="80.1" y="157" width="1.5" height="11" fill="#e9ff16"/>
<rect x="81.3" y="157" width="1.5" height="11" fill="#82ff7d"/>
<rect x="82.4" y="157" width="1.9" height="11" fill="#07fff8"/>
<rect x="84.0" y="157" width="1.9" height="11" fill="#c0ff3f"/>
<rect x="85.6" y="157" width="1.9" height="11" fill="#00beff"/>
<rect x="87.1" y="157" width="1.9" height="11" fill="#21ffde"/>
<rect x="88.7" y="157" width="1.9" height="11" fill="#00a0ff"/>
<rect x="90.3" y="157" width="1.9" height="11" fill="#0046ff"/>
<rect x="91.8" y="157" width="1.9" height="11" fill="#4dffb2"/>
<rect x="93.4" y="157" width="1.9" height="11" fill="#00d1ff"/>
<rect x="95.0" y="157" width="1.6" height="11" fill="#00d0ff"/>
<rect x="96.3" y="157" width="1.6" height="11" fill="#35ffca"/>
<rect x="97.6" y="157" width="1.6" height="11" fill="#00daff"/>
<rect x="98.9" y="157" width="1.5" height="11" fill="#a1ff5e"/>
<rect x="100.1" y="157" width="1.5" height="11" fill="#e9ff16"/>
<rect x="101.3" y="157" width="1.6" height="11" fill="#00baff"/>
<rect x="102.6" y="157" width="1.6" height="11" fill="#1cffe3"/>
<rect x="103.9" y="157" width="1.6" height="11" fill="#00cdff"/>
<rect x="105.2" y="157" width="1.5" height="11" fill="#009cff"/>
<rect x="106.4" y="157" width="1.5" height="11" fill="#004cff"/>
<rect x="107.5" y="157" width="7.0" height="11" fill="#0039ff"/>
<rect x="114.3" y="157" width="1.9" height="11" fill="#0000b1"/>
<rect x="115.8" y="157" width="3.4" height="11" fill="#0039ff"/>
<rect x="119.0" y="157" width="1.9" height="11" fill="#0000b1"/>
<rect x="120.6" y="157" width="2.1" height="11" fill="#003fff"/>
<rect x="122.4" y="157" width="2.1" height="11" fill="#001aff"/>
<rect x="124.2" y="157" width="2.1" height="11" fill="#003dff"/>
<rect x="126.0" y="157" width="1.9" height="11" fill="#0058ff"/>
<rect x="127.6" y="157" width="1.7" height="11" fill="#0000f2"/>
<rect x="129.0" y="157" width="1.9" height="11" fill="#0000a6"/>
<rect x="130.6" y="157" width="1.2" height="11" fill="#0000e6"/>
<rect x="131.5" y="157" width="2.1" height="11" fill="#0034ff"/>
<rect x="133.3" y="157" width="2.1" height="11" fill="#0062ff"/>
<rect x="135.1" y="157" width="2.1" height="11" fill="#003eff"/>
<rect x="136.8" y="157" width="2.1" height="11" fill="#005cff"/>
<rect x="138.6" y="157" width="2.7" height="11" fill="#0000ab"/>
<rect x="140.9" y="157" width="2.7" height="11" fill="#0010ff"/>
<rect x="143.3" y="157" width="1.5" height="11" fill="#00009c"/>
<rect x="144.4" y="157" width="2.2" height="11" fill="#0000f9"/>
<rect x="146.3" y="157" width="1.5" height="11" fill="#0000aa"/>
<rect x="147.5" y="157" width="1.6" height="11" fill="#0000f2"/>
<rect x="148.8" y="157" width="3.4" height="11" fill="#004eff"/>
<rect x="151.9" y="157" width="8.1" height="11" fill="#0000e6"/>
<rect x="159.8" y="157" width="1.9" height="11" fill="#005eff"/>
<rect x="161.3" y="157" width="1.9" height="11" fill="#003bff"/>
<rect x="162.9" y="157" width="1.9" height="11" fill="#006bff"/>
<rect x="164.5" y="157" width="1.6" height="11" fill="#0000f6"/>
<rect x="165.7" y="157" width="1.6" height="11" fill="#0000ee"/>
<rect x="167.0" y="157" width="1.6" height="11" fill="#0000e6"/>
<rect x="168.2" y="157" width="1.6" height="11" fill="#0000de"/>
<rect x="169.5" y="157" width="1.6" height="11" fill="#0000d6"/>
<rect x="170.7" y="157" width="1.6" height="11" fill="#0000bb"/>
<rect x="172.0" y="157" width="1.6" height="11" fill="#0000b6"/>
<rect x="173.3" y="157" width="1.6" height="11" fill="#0000b1"/>
<rect x="174.5" y="157" width="1.6" height="11" fill="#0000ac"/>
<rect x="175.8" y="157" width="1.6" height="11" fill="#0000a7"/>
<rect x="177.0" y="157" width="1.9" height="11" fill="#0039ff"/>
<rect x="178.6" y="157" width="46.1" height="11" fill="#000086"/>
<rect x="224.4" y="157" width="1.9" height="11" fill="#0039ff"/>
<rect x="226.0" y="157" width="1.6" height="11" fill="#0000a7"/>
<rect x="227.2" y="157" width="1.6" height="11" fill="#0000ac"/>
<rect x="228.5" y="157" width="1.6" height="11" fill="#0000b1"/>
<rect x="229.7" y="157" width="1.6" height="11" fill="#0000b6"/>
<rect x="231.0" y="157" width="1.6" height="11" fill="#0000bb"/>
<rect x="232.2" y="157" width="1.6" height="11" fill="#0000d6"/>
<rect x="233.5" y="157" width="1.6" height="11" fill="#0000de"/>
<rect x="234.7" y="157" width="1.6" height="11" fill="#0000e6"/>
<rect x="236.0" y="157" width="1.6" height="11" fill="#0000ee"/>
<rect x="237.3" y="157" width="1.6" height="11" fill="#0000f6"/>
<rect x="238.5" y="157" width="1.9" height="11" fill="#006bff"/>
<rect x="240.1" y="157" width="1.9" height="11" fill="#003bff"/>
<rect x="241.7" y="157" width="1.9" height="11" fill="#005eff"/>
<rect x="243.2" y="157" width="8.1" height="11" fill="#0000e6"/>
<rect x="251.1" y="157" width="3.4" height="11" fill="#004eff"/>
<rect x="254.2" y="157" width="1.6" height="11" fill="#0000f2"/>
<rect x="255.5" y="157" width="1.5" height="11" fill="#0000aa"/>
<rect x="256.7" y="157" width="2.2" height="11" fill="#0000f9"/>
<rect x="258.5" y="157" width="1.5" height="11" fill="#00009c"/>
<rect x="259.7" y="157" width="2.7" height="11" fill="#0010ff"/>
<rect x="262.0" y="157" width="2.7" height="11" fill="#0000ab"/>
<rect x="264.4" y="157" width="2.1" height="11" fill="#005cff"/>
<rect x="266.2" y="157" width="2.1" height="11" fill="#003eff"/>
<rect x="267.9" y="157" width="2.1" height="11" fill="#0062ff"/>
<rect x="269.7" y="157" width="2.1" height="11" fill="#0034ff"/>
<rect x="271.5" y="157" width="1.2" height="11" fill="#0000e6"/>
<rect x="272.4" y="157" width="1.9" height="11" fill="#0000a6"/>
<rect x="274.0" y="157" width="1.7" height="11" fill="#0000f2"/>
<rect x="275.4" y="157" width="1.9" height="11" fill="#0058ff"/>
<rect x="276.9" y="157" width="2.1" height="11" fill="#003dff"/>
<rect x="278.8" y="157" width="2.1" height="11" fill="#001aff"/>
<rect x="280.6" y="157" width="2.1" height="11" fill="#003fff"/>
<rect x="282.4" y="157" width="1.9" height="11" fill="#0000b1"/>
<rect x="284.0" y="157" width="3.4" height="11" fill="#0039ff"/>
<rect x="287.1" y="157" width="1.9" height="11" fill="#0000b1"/>
<rect x="288.7" y="157" width="7.0" height="11" fill="#0039ff"/>
<rect x="295.5" y="157" width="1.5" height="11" fill="#004cff"/>
<rect x="296.6" y="157" width="1.5" height="11" fill="#009cff"/>
<rect x="297.8" y="157" width="1.6" height="11" fill="#00cdff"/>
<rect x="299.1" y="157" width="1.6" height="11" fill="#1cffe3"/>
<rect x="300.4" y="157" width="1.6" height="11" fill="#00baff"/>
<rect x="301.7" y="157" width="1.5" height="11" fill="#e9ff16"/>
<rect x="302.9" y="157" width="1.5" height="11" fill="#a1ff5e"/>
<rect x="304.1" y="157" width="1.6" height="11" fill="#00daff"/>
<rect x="305.4" y="157" width="1.6" height="11" fill="#35ffca"/>
<rect x="306.7" y="157" width="1.6" height="11" fill="#00d0ff"/>
<rect x="308.0" y="157" width="1.9" height="11" fill="#00d1ff"/>
<rect x="309.6" y="157" width="1.9" height="11" fill="#4dffb2"/>
<rect x="311.1" y="157" width="1.9" height="11" fill="#0046ff"/>
<rect x="312.7" y="157" width="1.9" height="11" fill="#00a0ff"/>
<rect x="314.3" y="157" width="1.9" height="11" fill="#21ffde"/>
<rect x="315.8" y="157" width="1.9" height="11" fill="#00beff"/>
<rect x="317.4" y="157" width="1.9" height="11" fill="#c0ff3f"/>
<rect x="319.0" y="157" width="1.9" height="11" fill="#07fff8"/>
<rect x="320.6" y="157" width="1.5" height="11" fill="#82ff7d"/>
<rect x="321.7" y="157" width="1.5" height="11" fill="#e9ff16"/>
<rect x="322.9" y="157" width="1.6" height="11" fill="#5dffa2"/>
<rect x="324.2" y="157" width="1.6" height="11" fill="#00e0ff"/>
<rect x="325.5" y="157" width="1.6" height="11" fill="#6cff93"/>
<rect x="326.8" y="157" width="1.5" height="11" fill="#00b0ff"/>
<rect x="328.0" y="157" width="1.5" height="11" fill="#0064ff"/>
<rect x="329.2" y="157" width="1.5" height="11" fill="#00b5ff"/>
<rect x="330.4" y="157" width="1.5" height="11" fill="#007aff"/>
<rect x="331.5" y="157" width="1.5" height="11" fill="#00cfff"/>
<rect x="332.7" y="157" width="1.5" height="11" fill="#0ffff0"/>
<rect x="333.9" y="157" width="1.5" height="11" fill="#beff41"/>
<rect x="335.1" y="157" width="1.5" height="11" fill="#14ffeb"/>
<rect x="336.2" y="157" width="1.5" height="11" fill="#00caff"/>
<rect x="337.4" y="157" width="1.5" height="11" fill="#35ffca"/>
<rect x="338.6" y="157" width="1.9" height="11" fill="#97ff68"/>
<rect x="340.2" y="157" width="1.9" height="11" fill="#07fff8"/>
<rect x="341.7" y="157" width="8.6" height="11" fill="#ffaf00"/>
<rect x="55.4" y="146" width="7.7" height="11" fill="#abff54"/>
<rect x="62.8" y="146" width="1.5" height="11" fill="#98ff67"/>
<rect x="64.0" y="146" width="1.5" height="11" fill="#e9ff16"/>
<rect x="65.2" y="146" width="1.5" height="11" fill="#3effc1"/>
<rect x="66.4" y="146" width="1.5" height="11" fill="#00e3ff"/>
<rect x="67.5" y="146" width="1.5" height="11" fill="#0072ff"/>
<rect x="68.7" y="146" width="1.5" height="11" fill="#00bcff"/>
<rect x="69.9" y="146" width="1.5" height="11" fill="#20ffdf"/>
<rect x="71.1" y="146" width="1.5" height="11" fill="#00d8ff"/>
<rect x="72.2" y="146" width="1.5" height="11" fill="#0058ff"/>
<rect x="73.4" y="146" width="1.5" height="11" fill="#009aff"/>
<rect x="74.6" y="146" width="1.5" height="11" fill="#41ffbe"/>
<rect x="75.8" y="146" width="1.5" height="11" fill="#00ceff"/>
<rect x="76.9" y="146" width="1.9" height="11" fill="#c9ff36"/>
<rect x="78.5" y="146" width="1.9" height="11" fill="#4effb1"/>
<rect x="80.1" y="146" width="1.5" height="11" fill="#3cffc3"/>
<rect x="81.3" y="146" width="1.5" height="11" fill="#00e1ff"/>
<rect x="82.4" y="146" width="1.9" height="11" fill="#00a6ff"/>
<rect x="84.0" y="146" width="1.9" height="11" fill="#0051ff"/>
<rect x="85.6" y="146" width="1.6" height="11" fill="#00b6ff"/>
<rect x="86.9" y="146" width="1.6" height="11" fill="#2fffd0"/>
<rect x="88.2" y="146" width="1.6" height="11" fill="#00b2ff"/>
<rect x="89.5" y="146" width="1.5" height="11" fill="#005cff"/>
<rect x="90.7" y="146" width="1.5" height="11" fill="#00b6ff"/>
<rect x="91.8" y="146" width="1.9" height="11" fill="#00b9ff"/>
<rect x="93.4" y="146" width="1.9" height="11" fill="#22ffdd"/>
<rect x="95.0" y="146" width="1.9" height="11" fill="#00e6ff"/>
<rect x="96.6" y="146" width="1.9" height="11" fill="#1fffe0"/>
<rect x="98.1" y="146" width="1.9" height="11" fill="#65ff9a"/>
<rect x="99.7" y="146" width="1.9" height="11" fill="#00daff"/>
<rect x="101.3" y="146" width="1.9" height="11" fill="#005fff"/>
<rect x="102.8" y="146" width="1.9" height="11" fill="#00b6ff"/>
<rect x="104.4" y="146" width="1.9" height="11" fill="#0061ff"/>
<rect x="106.0" y="146" width="1.9" height="11" fill="#0036ff"/>
<rect x="107.5" y="146" width="2.4" height="11" fill="#0000e9"/>
<rect x="109.6" y="146" width="2.1" height="11" fill="#003fff"/>
<rect x="111.4" y="146" width="2.5" height="11" fill="#0000ef"/>
<rect x="113.6" y="146" width="1.0" height="11" fill="#0040ff"/>
<rect x="114.3" y="146" width="3.4" height="11" fill="#004eff"/>
<rect x="117.4" y="146" width="2.4" height="11" fill="#00009f"/>
<rect x="119.6" y="146" width="2.3" height="11" fill="#0000d3"/>
<rect x="121.6" y="146" width="0.8" height="11" fill="#0000a0"/>
<rect x="122.1" y="146" width="3.4" height="11" fill="#0010ff"/>
<rect x="125.3" y="146" width="8.1" height="11" fill="#0000b1"/>
<rect x="133.1" y="146" width="3.4" height="11" fill="#0010ff"/>
<rect x="136.2" y="146" width="5.0" height="11" fill="#0000a4"/>
<rect x="140.9" y="146" width="1.9" height="11" fill="#0015ff"/>
<rect x="142.5" y="146" width="1.9" height="11" fill="#0000fb"/>
<rect x="144.1" y="146" width="1.9" height="11" fill="#0024ff"/>
<rect x="145.7" y="146" width="5.0" height="11" fill="#0000a4"/>
<rect x="150.4" y="146" width="1.9" height="11" fill="#0055ff"/>
<rect x="151.9" y="146" width="1.9" height="11" fill="#0020ff"/>
<rect x="153.5" y="146" width="1.9" height="11" fill="#0044ff"/>
<rect x="155.1" y="146" width="5.0" height="11" fill="#0000a4"/>
<rect x="159.8" y="146" width="1.9" height="11" fill="#0010ff"/>
<rect x="161.3" y="146" width="6.6" height="11" fill="#0000a4"/>
<rect x="167.6" y="146" width="1.9" height="11" fill="#0021ff"/>
<rect x="169.2" y="146" width="1.9" height="11" fill="#0000fe"/>
<rect x="170.7" y="146" width="1.9" height="11" fill="#0021ff"/>
<rect x="172.3" y="146" width="1.9" height="11" fill="#0000fa"/>
<rect x="173.9" y="146" width="3.4" height="11" fill="#0000a4"/>
<rect x="177.0" y="146" width="2.1" height="11" fill="#0047ff"/>
<rect x="178.9" y="146" width="2.1" height="11" fill="#005cff"/>
<rect x="180.7" y="146" width="2.1" height="11" fill="#0046ff"/>
<rect x="182.5" y="146" width="13.6" height="11" fill="#000092"/>
<rect x="195.8" y="146" width="3.4" height="11" fill="#0000e6"/>
<rect x="199.0" y="146" width="5.3" height="11" fill="#00008c"/>
<rect x="204.0" y="146" width="3.4" height="11" fill="#0000e6"/>
<rect x="207.1" y="146" width="13.6" height="11" fill="#000092"/>
<rect x="220.5" y="146" width="2.1" height="11" fill="#0046ff"/>
<rect x="222.3" y="146" width="2.1" height="11" fill="#005cff"/>
<rect x="224.1" y="146" width="2.1" height="11" fill="#0047ff"/>
<rect x="226.0" y="146" width="3.4" height="11" fill="#0000a4"/>
<rect x="229.1" y="146" width="1.9" height="11" fill="#0000fa"/>
<rect x="230.7" y="146" width="1.9" height="11" fill="#0021ff"/>
<rect x="232.2" y="146" width="1.9" height="11" fill="#0000fe"/>
<rect x="233.8" y="146" width="1.9" height="11" fill="#0021ff"/>
<rect x="235.4" y="146" width="6.6" height="11" fill="#0000a4"/>
<rect x="241.7" y="146" width="1.9" height="11" fill="#0010ff"/>
<rect x="243.2" y="146" width="5.0" height="11" fill="#0000a4"/>
<rect x="247.9" y="146" width="1.9" height="11" fill="#0044ff"/>
<rect x="249.5" y="146" width="1.9" height="11" fill="#0020ff"/>
<rect x="251.1" y="146" width="1.9" height="11" fill="#0055ff"/>
<rect x="252.6" y="146" width="5.0" height="11" fill="#0000a4"/>
<rect x="257.3" y="146" width="1.9" height="11" fill="#0024ff"/>
<rect x="258.9" y="146" width="1.9" height="11" fill="#0000fb"/>
<rect x="260.5" y="146" width="1.9" height="11" fill="#0015ff"/>
<rect x="262.0" y="146" width="5.0" height="11" fill="#0000a4"/>
<rect x="266.7" y="146" width="3.4" height="11" fill="#0010ff"/>
<rect x="269.9" y="146" width="8.1" height="11" fill="#0000b1"/>
<rect x="277.7" y="146" width="3.4" height="11" fill="#0010ff"/>
<rect x="280.9" y="146" width="0.8" height="11" fill="#0000a0"/>
<rect x="281.4" y="146" width="2.3" height="11" fill="#0000d3"/>
<rect x="283.4" y="146" width="2.4" height="11" fill="#00009f"/>
<rect x="285.6" y="146" width="3.4" height="11" fill="#004eff"/>
<rect x="288.7" y="146" width="1.0" height="11" fill="#0040ff"/>
<rect x="289.4" y="146" width="2.5" height="11" fill="#0000ef"/>
<rect x="291.6" y="146" width="2.1" height="11" fill="#003fff"/>
<rect x="293.4" y="146" width="2.4" height="11" fill="#0000e9"/>
<rect x="295.5" y="146" width="1.9" height="11" fill="#0036ff"/>
<rect x="297.0" y="146" width="1.9" height="11" fill="#0061ff"/>
<rect x="298.6" y="146" width="1.9" height="11" fill="#00b6ff"/>
<rect x="300.2" y="146" width="1.9" height="11" fill="#005fff"/>
<rect x="301.7" y="146" width="1.9" height="11" fill="#00daff"/>
<rect x="303.3" y="146" width="1.9" height="11" fill="#65ff9a"/>
<rect x="304.9" y="146" width="1.9" height="11" fill="#1fffe0"/>
<rect x="306.4" y="146" width="1.9" height="11" fill="#00e6ff"/>
<rect x="308.0" y="146" width="1.9" height="11" fill="#22ffdd"/>
<rect x="309.6" y="146" width="1.9" height="11" fill="#00b9ff"/>
<rect x="311.1" y="146" width="1.5" height="11" fill="#00b6ff"/>
<rect x="312.3" y="146" width="1.5" height="11" fill="#005cff"/>
<rect x="313.5" y="146" width="1.6" height="11" fill="#00b2ff"/>
<rect x="314.8" y="146" width="1.6" height="11" fill="#2fffd0"/>
<rect x="316.1" y="146" width="1.6" height="11" fill="#00b6ff"/>
<rect x="317.4" y="146" width="1.9" height="11" fill="#0051ff"/>
<rect x="319.0" y="146" width="1.9" height="11" fill="#00a6ff"/>
<rect x="320.6" y="146" width="1.5" height="11" fill="#00e1ff"/>
<rect x="321.7" y="146" width="1.5" height="11" fill="#3cffc3"/>
<rect x="322.9" y="146" width="1.9" height="11" fill="#4effb1"/>
<rect x="324.5" y="146" width="1.9" height="11" fill="#c9ff36"/>
<rect x="326.0" y="146" width="1.5" height="11" fill="#00ceff"/>
<rect x="327.2" y="146" width="1.5" height="11" fill="#41ffbe"/>
<rect x="328.4" y="146" width="1.5" height="11" fill="#009aff"/>
<rect x="329.6" y="146" width="1.5" height="11" fill="#0058ff"/>
<rect x="330.8" y="146" width="1.5" height="11" fill="#00d8ff"/>
<rect x="331.9" y="146" width="1.5" height="11" fill="#20ffdf"/>
<rect x="333.1" y="146" width="1.5" height="11" fill="#00bcff"/>
<rect x="334.3" y="146" width="1.5" height="11" fill="#0072ff"/>
<rect x="335.5" y="146" width="1.5" height="11" fill="#00e3ff"/>
<rect x="336.6" y="146" width="1.5" height="11" fill="#3effc1"/>
<rect x="337.8" y="146" width="1.5" height="11" fill="#e9ff16"/>
<rect x="339.0" y="146" width="1.5" height="11" fill="#98ff67"/>
<rect x="340.2" y="146" width="10.2" height="11" fill="#abff54"/>
<rect x="55.4" y="135" width="6.9" height="11" fill="#07fff8"/>
<rect x="62.0" y="135" width="1.9" height="11" fill="#0077ff"/>
<rect x="63.6" y="135" width="1.5" height="11" fill="#00c4ff"/>
<rect x="64.8" y="135" width="1.5" height="11" fill="#21ffde"/>
<rect x="66.0" y="135" width="1.5" height="11" fill="#0095ff"/>
<rect x="67.1" y="135" width="1.5" height="11" fill="#0046ff"/>
<rect x="68.3" y="135" width="1.5" height="11" fill="#81ff7e"/>
<rect x="69.5" y="135" width="1.5" height="11" fill="#00ddff"/>
<rect x="70.7" y="135" width="1.9" height="11" fill="#00d8ff"/>
<rect x="72.2" y="135" width="1.9" height="11" fill="#39ffc6"/>
<rect x="73.8" y="135" width="1.5" height="11" fill="#006cff"/>
<rect x="75.0" y="135" width="1.5" height="11" fill="#00bfff"/>
<rect x="76.2" y="135" width="1.6" height="11" fill="#3affc5"/>
<rect x="77.5" y="135" width="1.6" height="11" fill="#00edff"/>
<rect x="78.8" y="135" width="1.6" height="11" fill="#50ffaf"/>
<rect x="80.1" y="135" width="1.5" height="11" fill="#0098ff"/>
<rect x="81.3" y="135" width="1.5" height="11" fill="#0065ff"/>
<rect x="82.4" y="135" width="1.6" height="11" fill="#31ffce"/>
<rect x="83.7" y="135" width="1.6" height="11" fill="#00d8ff"/>
<rect x="85.0" y="135" width="1.6" height="11" fill="#1cffe3"/>
<rect x="86.4" y="135" width="1.5" height="11" fill="#005fff"/>
<rect x="87.5" y="135" width="1.5" height="11" fill="#0026ff"/>
<rect x="88.7" y="135" width="1.6" height="11" fill="#0cfff3"/>
<rect x="90.0" y="135" width="1.6" height="11" fill="#00bcff"/>
<rect x="91.3" y="135" width="1.6" height="11" fill="#0efff1"/>
<rect x="92.6" y="135" width="1.9" height="11" fill="#00a7ff"/>
<rect x="94.2" y="135" width="1.9" height="11" fill="#0059ff"/>
<rect x="95.8" y="135" width="1.6" height="11" fill="#00f6ff"/>
<rect x="97.1" y="135" width="1.6" height="11" fill="#00c5ff"/>
<rect x="98.4" y="135" width="1.6" height="11" fill="#1dffe2"/>
<rect x="99.7" y="135" width="1.6" height="11" fill="#0092ff"/>
<rect x="101.0" y="135" width="1.6" height="11" fill="#0057ff"/>
<rect x="102.3" y="135" width="1.6" height="11" fill="#0088ff"/>
<rect x="103.6" y="135" width="1.6" height="11" fill="#0007ff"/>
<rect x="104.9" y="135" width="1.6" height="11" fill="#003bff"/>
<rect x="106.2" y="135" width="1.6" height="11" fill="#000fff"/>
<rect x="107.5" y="135" width="1.6" height="11" fill="#0000a4"/>
<rect x="108.8" y="135" width="3.4" height="11" fill="#0010ff"/>
<rect x="111.9" y="135" width="4.2" height="11" fill="#0000a4"/>
<rect x="115.8" y="135" width="1.9" height="11" fill="#0000fc"/>
<rect x="117.4" y="135" width="1.9" height="11" fill="#001cff"/>
<rect x="119.0" y="135" width="1.9" height="11" fill="#0003ff"/>
<rect x="120.6" y="135" width="2.1" height="11" fill="#0035ff"/>
<rect x="122.4" y="135" width="2.1" height="11" fill="#0062ff"/>
<rect x="124.2" y="135" width="2.1" height="11" fill="#0033ff"/>
<rect x="126.0" y="135" width="2.1" height="11" fill="#0000de"/>
<rect x="127.8" y="135" width="2.6" height="11" fill="#0039ff"/>
<rect x="130.1" y="135" width="1.5" height="11" fill="#0000d5"/>
<rect x="131.4" y="135" width="2.0" height="11" fill="#0037ff"/>
<rect x="133.1" y="135" width="1.9" height="11" fill="#0000dc"/>
<rect x="134.7" y="135" width="1.9" height="11" fill="#0014ff"/>
<rect x="136.2" y="135" width="1.9" height="11" fill="#0008ff"/>
<rect x="137.8" y="135" width="1.9" height="11" fill="#0017ff"/>
<rect x="139.4" y="135" width="10.5" height="11" fill="#0000ab"/>
<rect x="149.6" y="135" width="2.7" height="11" fill="#0010ff"/>
<rect x="151.9" y="135" width="2.8" height="11" fill="#0000df"/>
<rect x="154.4" y="135" width="1.5" height="11" fill="#000099"/>
<rect x="155.6" y="135" width="1.8" height="11" fill="#0000dd"/>
<rect x="157.1" y="135" width="1.5" height="11" fill="#00009c"/>
<rect x="158.3" y="135" width="1.6" height="11" fill="#0000e5"/>
<rect x="159.7" y="135" width="2.6" height="11" fill="#00009e"/>
<rect x="161.9" y="135" width="1.9" height="11" fill="#0000d3"/>
<rect x="163.5" y="135" width="0.5" height="11" fill="#00009b"/>
<rect x="163.7" y="135" width="1.9" height="11" fill="#0010ff"/>
<rect x="165.3" y="135" width="8.1" height="11" fill="#00008c"/>
<rect x="173.1" y="135" width="1.4" height="11" fill="#0000fb"/>
<rect x="174.2" y="135" width="14.9" height="11" fill="#00008c"/>
<rect x="188.8" y="135" width="1.9" height="11" fill="#0000a4"/>
<rect x="190.4" y="135" width="22.6" height="11" fill="#000086"/>
<rect x="212.6" y="135" width="1.9" height="11" fill="#0000a4"/>
<rect x="214.2" y="135" width="14.9" height="11" fill="#00008c"/>
<rect x="228.8" y="135" width="1.4" height="11" fill="#0000fb"/>
<rect x="229.9" y="135" width="8.1" height="11" fill="#00008c"/>
<rect x="237.7" y="135" width="1.9" height="11" fill="#0010ff"/>
<rect x="239.3" y="135" width="0.5" height="11" fill="#00009b"/>
<rect x="239.5" y="135" width="1.9" height="11" fill="#0000d3"/>
<rect x="241.1" y="135" width="2.6" height="11" fill="#00009e"/>
<rect x="243.3" y="135" width="1.6" height="11" fill="#0000e5"/>
<rect x="244.7" y="135" width="1.5" height="11" fill="#00009c"/>
<rect x="245.9" y="135" width="1.8" height="11" fill="#0000dd"/>
<rect x="247.4" y="135" width="1.5" height="11" fill="#000099"/>
<rect x="248.6" y="135" width="2.8" height="11" fill="#0000df"/>
<rect x="251.1" y="135" width="2.7" height="11" fill="#0010ff"/>
<rect x="253.4" y="135" width="10.5" height="11" fill="#0000ab"/>
<rect x="263.6" y="135" width="1.9" height="11" fill="#0017ff"/>
<rect x="265.2" y="135" width="1.9" height="11" fill="#0008ff"/>
<rect x="266.7" y="135" width="1.9" height="11" fill="#0014ff"/>
<rect x="268.3" y="135" width="1.9" height="11" fill="#0000dc"/>
<rect x="269.9" y="135" width="2.0" height="11" fill="#0037ff"/>
<rect x="271.6" y="135" width="1.5" height="11" fill="#0000d5"/>
<rect x="272.8" y="135" width="2.6" height="11" fill="#0039ff"/>
<rect x="275.2" y="135" width="2.1" height="11" fill="#0000de"/>
<rect x="276.9" y="135" width="2.1" height="11" fill="#0033ff"/>
<rect x="278.8" y="135" width="2.1" height="11" fill="#0062ff"/>
<rect x="280.6" y="135" width="2.1" height="11" fill="#0035ff"/>
<rect x="282.4" y="135" width="1.9" height="11" fill="#0003ff"/>
<rect x="284.0" y="135" width="1.9" height="11" fill="#001cff"/>
<rect x="285.6" y="135" width="1.9" height="11" fill="#0000fc"/>
<rect x="287.1" y="135" width="4.2" height="11" fill="#0000a4"/>
<rect x="291.1" y="135" width="3.4" height="11" fill="#0010ff"/>
<rect x="294.2" y="135" width="1.6" height="11" fill="#0000a4"/>
<rect x="295.5" y="135" width="1.6" height="11" fill="#000fff"/>
<rect x="296.8" y="135" width="1.6" height="11" fill="#003bff"/>
<rect x="298.1" y="135" width="1.6" height="11" fill="#0007ff"/>
<rect x="299.4" y="135" width="1.6" height="11" fill="#0088ff"/>
<rect x="300.7" y="135" width="1.6" height="11" fill="#0057ff"/>
<rect x="302.0" y="135" width="1.6" height="11" fill="#0092ff"/>
<rect x="303.3" y="135" width="1.6" height="11" fill="#1dffe2"/>
<rect x="304.6" y="135" width="1.6" height="11" fill="#00c5ff"/>
<rect x="305.9" y="135" width="1.6" height="11" fill="#00f6ff"/>
<rect x="307.2" y="135" width="1.9" height="11" fill="#0059ff"/>
<rect x="308.8" y="135" width="1.9" height="11" fill="#00a7ff"/>
<rect x="310.4" y="135" width="1.6" height="11" fill="#0efff1"/>
<rect x="311.7" y="135" width="1.6" height="11" fill="#00bcff"/>
<rect x="313.0" y="135" width="1.6" height="11" fill="#0cfff3"/>
<rect x="314.3" y="135" width="1.5" height="11" fill="#0026ff"/>
<rect x="315.5" y="135" width="1.5" height="11" fill="#005fff"/>
<rect x="316.6" y="135" width="1.6" height="11" fill="#1cffe3"/>
<rect x="317.9" y="135" width="1.6" height="11" fill="#00d8ff"/>
<rect x="319.2" y="135" width="1.6" height="11" fill="#31ffce"/>
<rect x="320.6" y="135" width="1.5" height="11" fill="#0065ff"/>
<rect x="321.7" y="135" width="1.5" height="11" fill="#0098ff"/>
<rect x="322.9" y="135" width="1.6" height="11" fill="#50ffaf"/>
<rect x="324.2" y="135" width="1.6" height="11" fill="#00edff"/>
<rect x="325.5" y="135" width="1.6" height="11" fill="#3affc5"/>
<rect x="326.8" y="135" width="1.5" height="11" fill="#00bfff"/>
<rect x="328.0" y="135" width="1.5" height="11" fill="#006cff"/>
<rect x="329.2" y="135" width="1.9" height="11" fill="#39ffc6"/>
<rect x="330.8" y="135" width="1.9" height="11" fill="#00d8ff"/>
<rect x="332.3" y="135" width="1.5" height="11" fill="#00ddff"/>
<rect x="333.5" y="135" width="1.5" height="11" fill="#81ff7e"/>
<rect x="334.7" y="135" width="1.5" height="11" fill="#0046ff"/>
<rect x="335.9" y="135" width="1.5" height="11" fill="#0095ff"/>
<rect x="337.0" y="135" width="1.5" height="11" fill="#21ffde"/>
<rect x="338.2" y="135" width="1.5" height="11" fill="#00c4ff"/>
<rect x="339.4" y="135" width="1.9" height="11" fill="#0077ff"/>
<rect x="340.9" y="135" width="9.4" height="11" fill="#07fff8"/>
<rect x="55.4" y="123" width="6.9" height="12" fill="#ffec00"/>
<rect x="62.0" y="123" width="1.5" height="12" fill="#50ffaf"/>
<rect x="63.2" y="123" width="1.5" height="12" fill="#cfff30"/>
<rect x="64.4" y="123" width="1.5" height="12" fill="#00f2ff"/>
<rect x="65.6" y="123" width="1.5" height="12" fill="#53ffac"/>
<rect x="66.7" y="123" width="1.5" height="12" fill="#3affc5"/>
<rect x="67.9" y="123" width="1.5" height="12" fill="#c0ff3f"/>
<rect x="69.1" y="123" width="1.9" height="12" fill="#07fff8"/>
<rect x="70.7" y="123" width="1.5" height="12" fill="#00baff"/>
<rect x="71.8" y="123" width="1.5" height="12" fill="#006fff"/>
<rect x="73.0" y="123" width="1.5" height="12" fill="#32ffcd"/>
<rect x="74.2" y="123" width="1.5" height="12" fill="#8aff75"/>
<rect x="75.4" y="123" width="1.5" height="12" fill="#00e9ff"/>
<rect x="76.5" y="123" width="1.5" height="12" fill="#2bffd4"/>
<rect x="77.7" y="123" width="1.9" height="12" fill="#82ff7d"/>
<rect x="79.3" y="123" width="1.9" height="12" fill="#00ffff"/>
<rect x="80.9" y="123" width="1.5" height="12" fill="#00d4ff"/>
<rect x="82.0" y="123" width="1.5" height="12" fill="#44ffbb"/>
<rect x="83.2" y="123" width="1.9" height="12" fill="#005eff"/>
<rect x="84.8" y="123" width="1.9" height="12" fill="#009fff"/>
<rect x="86.4" y="123" width="1.5" height="12" fill="#3affc5"/>
<rect x="87.5" y="123" width="1.5" height="12" fill="#00c5ff"/>
<rect x="88.7" y="123" width="1.5" height="12" fill="#0054ff"/>
<rect x="89.9" y="123" width="1.5" height="12" fill="#0090ff"/>
<rect x="91.1" y="123" width="1.9" height="12" fill="#46ffb9"/>
<rect x="92.6" y="123" width="1.9" height="12" fill="#00ceff"/>
<rect x="94.2" y="123" width="1.5" height="12" fill="#00b8ff"/>
<rect x="95.4" y="123" width="1.5" height="12" fill="#0059ff"/>
<rect x="96.6" y="123" width="1.9" height="12" fill="#21ffde"/>
<rect x="98.1" y="123" width="1.9" height="12" fill="#00d1ff"/>
<rect x="99.7" y="123" width="1.5" height="12" fill="#0076ff"/>
<rect x="100.9" y="123" width="1.5" height="12" fill="#009dff"/>
<rect x="102.0" y="123" width="1.9" height="12" fill="#00a9ff"/>
<rect x="103.6" y="123" width="1.9" height="12" fill="#05fffa"/>
<rect x="105.2" y="123" width="1.5" height="12" fill="#0063ff"/>
<rect x="106.4" y="123" width="1.5" height="12" fill="#00aeff"/>
<rect x="107.5" y="123" width="6.3" height="12" fill="#0039ff"/>
<rect x="113.5" y="123" width="2.7" height="12" fill="#0058ff"/>
<rect x="115.8" y="123" width="2.5" height="12" fill="#0015ff"/>
<rect x="118.0" y="123" width="2.6" height="12" fill="#0058ff"/>
<rect x="120.3" y="123" width="2.0" height="12" fill="#0017ff"/>
<rect x="122.1" y="123" width="1.4" height="12" fill="#0058ff"/>
<rect x="123.2" y="123" width="0.8" height="12" fill="#0031ff"/>
<rect x="123.7" y="123" width="2.7" height="12" fill="#0000b1"/>
<rect x="126.0" y="123" width="1.9" height="12" fill="#0067ff"/>
<rect x="127.6" y="123" width="1.9" height="12" fill="#0039ff"/>
<rect x="129.2" y="123" width="1.9" height="12" fill="#0069ff"/>
<rect x="130.7" y="123" width="1.9" height="12" fill="#0000f6"/>
<rect x="132.4" y="123" width="1.5" height="12" fill="#003cff"/>
<rect x="133.6" y="123" width="2.7" height="12" fill="#0000ea"/>
<rect x="136.0" y="123" width="1.6" height="12" fill="#0041ff"/>
<rect x="137.3" y="123" width="2.1" height="12" fill="#0000f4"/>
<rect x="139.0" y="123" width="2.0" height="12" fill="#0048ff"/>
<rect x="140.8" y="123" width="2.1" height="12" fill="#0000eb"/>
<rect x="142.5" y="123" width="2.3" height="12" fill="#0046ff"/>
<rect x="144.5" y="123" width="2.3" height="12" fill="#0055ff"/>
<rect x="146.4" y="123" width="4.2" height="12" fill="#0000b1"/>
<rect x="150.4" y="123" width="1.9" height="12" fill="#0051ff"/>
<rect x="151.9" y="123" width="1.9" height="12" fill="#0030ff"/>
<rect x="153.5" y="123" width="1.9" height="12" fill="#004aff"/>
<rect x="155.1" y="123" width="2.3" height="12" fill="#0066ff"/>
<rect x="157.0" y="123" width="2.3" height="12" fill="#0042ff"/>
<rect x="159.0" y="123" width="5.0" height="12" fill="#0000a4"/>
<rect x="163.7" y="123" width="2.0" height="12" fill="#0021ff"/>
<rect x="165.4" y="123" width="2.0" height="12" fill="#0048ff"/>
<rect x="167.1" y="123" width="2.0" height="12" fill="#002fff"/>
<rect x="168.9" y="123" width="2.0" height="12" fill="#0049ff"/>
<rect x="170.6" y="123" width="2.0" height="12" fill="#0024ff"/>
<rect x="172.3" y="123" width="5.0" height="12" fill="#0000b1"/>
<rect x="177.0" y="123" width="2.1" height="12" fill="#0079ff"/>
<rect x="178.9" y="123" width="2.1" height="12" fill="#0057ff"/>
<rect x="180.7" y="123" width="2.1" height="12" fill="#008fff"/>
<rect x="182.5" y="123" width="2.1" height="12" fill="#005aff"/>
<rect x="184.3" y="123" width="2.1" height="12" fill="#007eff"/>
<rect x="186.2" y="123" width="2.1" height="12" fill="#0064ff"/>
<rect x="188.0" y="123" width="1.9" height="12" fill="#0039ff"/>
<rect x="189.6" y="123" width="1.9" height="12" fill="#0058ff"/>
<rect x="191.1" y="123" width="1.9" height="12" fill="#0034ff"/>
<rect x="192.7" y="123" width="2.3" height="12" fill="#0000ef"/>
<rect x="194.7" y="123" width="2.3" height="12" fill="#0008ff"/>
<rect x="196.6" y="123" width="2.7" height="12" fill="#004eff"/>
<rect x="199.0" y="123" width="2.5" height="12" fill="#004bff"/>
<rect x="201.2" y="123" width="0.8" height="12" fill="#0000f5"/>
<rect x="201.8" y="123" width="2.5" height="12" fill="#004bff"/>
<rect x="204.0" y="123" width="2.7" height="12" fill="#004eff"/>
<rect x="206.4" y="123" width="2.3" height="12" fill="#0008ff"/>
<rect x="208.3" y="123" width="2.3" height="12" fill="#0000ef"/>
<rect x="210.3" y="123" width="1.9" height="12" fill="#0034ff"/>
<rect x="211.8" y="123" width="1.9" height="12" fill="#0058ff"/>
<rect x="213.4" y="123" width="1.9" height="12" fill="#0039ff"/>
<rect x="215.0" y="123" width="2.1" height="12" fill="#0064ff"/>
<rect x="216.8" y="123" width="2.1" height="12" fill="#007eff"/>
<rect x="218.6" y="123" width="2.1" height="12" fill="#005aff"/>
<rect x="220.5" y="123" width="2.1" height="12" fill="#008fff"/>
<rect x="222.3" y="123" width="2.1" height="12" fill="#0057ff"/>
<rect x="224.1" y="123" width="2.1" height="12" fill="#0079ff"/>
<rect x="226.0" y="123" width="5.0" height="12" fill="#0000b1"/>
<rect x="230.7" y="123" width="2.0" height="12" fill="#0024ff"/>
<rect x="232.4" y="123" width="2.0" height="12" fill="#0049ff"/>
<rect x="234.1" y="123" width="2.0" height="12" fill="#002fff"/>
<rect x="235.8" y="123" width="2.0" height="12" fill="#0048ff"/>
<rect x="237.6" y="123" width="2.0" height="12" fill="#0021ff"/>
<rect x="239.3" y="123" width="5.0" height="12" fill="#0000a4"/>
<rect x="244.0" y="123" width="2.3" height="12" fill="#0042ff"/>
<rect x="246.0" y="123" width="2.3" height="12" fill="#0066ff"/>
<rect x="247.9" y="123" width="1.9" height="12" fill="#004aff"/>
<rect x="249.5" y="123" width="1.9" height="12" fill="#0030ff"/>
<rect x="251.1" y="123" width="1.9" height="12" fill="#0051ff"/>
<rect x="252.6" y="123" width="4.2" height="12" fill="#0000b1"/>
<rect x="256.6" y="123" width="2.3" height="12" fill="#0055ff"/>
<rect x="258.5" y="123" width="2.3" height="12" fill="#0046ff"/>
<rect x="260.5" y="123" width="2.1" height="12" fill="#0000eb"/>
<rect x="262.2" y="123" width="2.0" height="12" fill="#0048ff"/>
<rect x="263.9" y="123" width="2.1" height="12" fill="#0000f4"/>
<rect x="265.7" y="123" width="1.6" height="12" fill="#0041ff"/>
<rect x="267.0" y="123" width="2.7" height="12" fill="#0000ea"/>
<rect x="269.4" y="123" width="1.5" height="12" fill="#003cff"/>
<rect x="270.6" y="123" width="1.9" height="12" fill="#0000f6"/>
<rect x="272.2" y="123" width="1.9" height="12" fill="#0069ff"/>
<rect x="273.8" y="123" width="1.9" height="12" fill="#0039ff"/>
<rect x="275.4" y="123" width="1.9" height="12" fill="#0067ff"/>
<rect x="276.9" y="123" width="2.7" height="12" fill="#0000b1"/>
<rect x="279.3" y="123" width="0.8" height="12" fill="#0031ff"/>
<rect x="279.8" y="123" width="1.4" height="12" fill="#0058ff"/>
<rect x="280.9" y="123" width="2.0" height="12" fill="#0017ff"/>
<rect x="282.6" y="123" width="2.6" height="12" fill="#0058ff"/>
<rect x="284.9" y="123" width="2.5" height="12" fill="#0015ff"/>
<rect x="287.1" y="123" width="2.7" height="12" fill="#0058ff"/>
<rect x="289.5" y="123" width="6.3" height="12" fill="#0039ff"/>
<rect x="295.5" y="123" width="1.5" height="12" fill="#00aeff"/>
<rect x="296.6" y="123" width="1.5" height="12" fill="#0063ff"/>
<rect x="297.8" y="123" width="1.9" height="12" fill="#05fffa"/>
<rect x="299.4" y="123" width="1.9" height="12" fill="#00a9ff"/>
<rect x="300.9" y="123" width="1.5" height="12" fill="#009dff"/>
<rect x="302.1" y="123" width="1.5" height="12" fill="#0076ff"/>
<rect x="303.3" y="123" width="1.9" height="12" fill="#00d1ff"/>
<rect x="304.9" y="123" width="1.9" height="12" fill="#21ffde"/>
<rect x="306.4" y="123" width="1.5" height="12" fill="#0059ff"/>
<rect x="307.6" y="123" width="1.5" height="12" fill="#00b8ff"/>
<rect x="308.8" y="123" width="1.9" height="12" fill="#00ceff"/>
<rect x="310.4" y="123" width="1.9" height="12" fill="#46ffb9"/>
<rect x="311.9" y="123" width="1.5" height="12" fill="#0090ff"/>
<rect x="313.1" y="123" width="1.5" height="12" fill="#0054ff"/>
<rect x="314.3" y="123" width="1.5" height="12" fill="#00c5ff"/>
<rect x="315.5" y="123" width="1.5" height="12" fill="#3affc5"/>
<rect x="316.6" y="123" width="1.9" height="12" fill="#009fff"/>
<rect x="318.2" y="123" width="1.9" height="12" fill="#005eff"/>
<rect x="319.8" y="123" width="1.5" height="12" fill="#44ffbb"/>
<rect x="320.9" y="123" width="1.5" height="12" fill="#00d4ff"/>
<rect x="322.1" y="123" width="1.9" height="12" fill="#00ffff"/>
<rect x="323.7" y="123" width="1.9" height="12" fill="#82ff7d"/>
<rect x="325.3" y="123" width="1.5" height="12" fill="#2bffd4"/>
<rect x="326.4" y="123" width="1.5" height="12" fill="#00e9ff"/>
<rect x="327.6" y="123" width="1.5" height="12" fill="#8aff75"/>
<rect x="328.8" y="123" width="1.5" height="12" fill="#32ffcd"/>
<rect x="330.0" y="123" width="1.5" height="12" fill="#006fff"/>
<rect x="331.1" y="123" width="1.5" height="12" fill="#00baff"/>
<rect x="332.3" y="123" width="1.9" height="12" fill="#07fff8"/>
<rect x="333.9" y="123" width="1.5" height="12" fill="#c0ff3f"/>
<rect x="335.1" y="123" width="1.5" height="12" fill="#3affc5"/>
<rect x="336.2" y="123" width="1.5" height="12" fill="#53ffac"/>
<rect x="337.4" y="123" width="1.5" height="12" fill="#00f2ff"/>
<rect x="338.6" y="123" width="1.5" height="12" fill="#cfff30"/>
<rect x="339.8" y="123" width="1.5" height="12" fill="#50ffaf"/>
<rect x="340.9" y="123" width="9.4" height="12" fill="#ffec00"/>
<rect x="55.4" y="112" width="6.9" height="11" fill="#e9ff16"/>
<rect x="62.0" y="112" width="1.5" height="11" fill="#54ffab"/>
<rect x="63.2" y="112" width="1.5" height="11" fill="#00c9ff"/>
<rect x="64.4" y="112" width="1.9" height="11" fill="#008bff"/>
<rect x="66.0" y="112" width="1.9" height="11" fill="#00daff"/>
<rect x="67.5" y="112" width="1.9" height="11" fill="#35ffca"/>
<rect x="69.1" y="112" width="1.9" height="11" fill="#82ff7d"/>
<rect x="70.7" y="112" width="1.6" height="11" fill="#00ceff"/>
<rect x="72.0" y="112" width="1.6" height="11" fill="#34ffcb"/>
<rect x="73.3" y="112" width="1.6" height="11" fill="#00dfff"/>
<rect x="74.6" y="112" width="1.9" height="11" fill="#008bff"/>
<rect x="76.2" y="112" width="1.5" height="11" fill="#00bbff"/>
<rect x="77.3" y="112" width="1.5" height="11" fill="#4effb1"/>
<rect x="78.5" y="112" width="1.5" height="11" fill="#6eff91"/>
<rect x="79.7" y="112" width="1.5" height="11" fill="#00f6ff"/>
<rect x="80.9" y="112" width="1.5" height="11" fill="#0064ff"/>
<rect x="82.0" y="112" width="1.5" height="11" fill="#00a9ff"/>
<rect x="83.2" y="112" width="1.9" height="11" fill="#00c1ff"/>
<rect x="84.8" y="112" width="1.9" height="11" fill="#53ffac"/>
<rect x="86.4" y="112" width="1.5" height="11" fill="#0063ff"/>
<rect x="87.5" y="112" width="1.5" height="11" fill="#008bff"/>
<rect x="88.7" y="112" width="1.6" height="11" fill="#18ffe7"/>
<rect x="90.0" y="112" width="1.6" height="11" fill="#00adff"/>
<rect x="91.3" y="112" width="1.6" height="11" fill="#33ffcc"/>
<rect x="92.6" y="112" width="1.5" height="11" fill="#00b8ff"/>
<rect x="93.8" y="112" width="1.5" height="11" fill="#0075ff"/>
<rect x="95.0" y="112" width="1.9" height="11" fill="#00c6ff"/>
<rect x="96.6" y="112" width="1.9" height="11" fill="#00fdff"/>
<rect x="98.1" y="112" width="1.6" height="11" fill="#0054ff"/>
<rect x="99.4" y="112" width="1.6" height="11" fill="#00a5ff"/>
<rect x="100.7" y="112" width="1.6" height="11" fill="#004fff"/>
<rect x="102.0" y="112" width="1.9" height="11" fill="#0083ff"/>
<rect x="103.6" y="112" width="1.9" height="11" fill="#00eeff"/>
<rect x="105.2" y="112" width="1.5" height="11" fill="#0001ff"/>
<rect x="106.4" y="112" width="1.5" height="11" fill="#001aff"/>
<rect x="107.5" y="112" width="2.1" height="11" fill="#0000f3"/>
<rect x="109.3" y="112" width="2.1" height="11" fill="#00009f"/>
<rect x="111.0" y="112" width="0.4" height="11" fill="#0003ff"/>
<rect x="111.1" y="112" width="2.7" height="11" fill="#0010ff"/>
<rect x="113.5" y="112" width="5.8" height="11" fill="#0000a4"/>
<rect x="119.0" y="112" width="2.7" height="11" fill="#0010ff"/>
<rect x="121.3" y="112" width="1.7" height="11" fill="#0000e4"/>
<rect x="122.7" y="112" width="2.5" height="11" fill="#00009c"/>
<rect x="124.9" y="112" width="2.6" height="11" fill="#0000d9"/>
<rect x="127.2" y="112" width="2.7" height="11" fill="#00009e"/>
<rect x="129.6" y="112" width="0.7" height="11" fill="#0000e1"/>
<rect x="130.0" y="112" width="2.7" height="11" fill="#0039ff"/>
<rect x="132.3" y="112" width="6.6" height="11" fill="#0000a4"/>
<rect x="138.6" y="112" width="1.9" height="11" fill="#0009ff"/>
<rect x="140.2" y="112" width="1.9" height="11" fill="#0016ff"/>
<rect x="141.7" y="112" width="1.9" height="11" fill="#0000ff"/>
<rect x="143.3" y="112" width="2.7" height="11" fill="#0000a4"/>
<rect x="145.7" y="112" width="2.7" height="11" fill="#0010ff"/>
<rect x="148.0" y="112" width="4.2" height="11" fill="#0000a4"/>
<rect x="151.9" y="112" width="2.7" height="11" fill="#0039ff"/>
<rect x="154.3" y="112" width="9.7" height="11" fill="#000098"/>
<rect x="163.7" y="112" width="3.4" height="11" fill="#0000fb"/>
<rect x="166.8" y="112" width="4.2" height="11" fill="#0000a4"/>
<rect x="170.7" y="112" width="1.9" height="11" fill="#0046ff"/>
<rect x="172.3" y="112" width="1.9" height="11" fill="#0065ff"/>
<rect x="173.9" y="112" width="1.9" height="11" fill="#0034ff"/>
<rect x="175.5" y="112" width="4.2" height="11" fill="#0000b1"/>
<rect x="179.4" y="112" width="2.7" height="11" fill="#004eff"/>
<rect x="181.7" y="112" width="39.8" height="11" fill="#00008c"/>
<rect x="221.3" y="112" width="2.7" height="11" fill="#004eff"/>
<rect x="223.6" y="112" width="4.2" height="11" fill="#0000b1"/>
<rect x="227.5" y="112" width="1.9" height="11" fill="#0034ff"/>
<rect x="229.1" y="112" width="1.9" height="11" fill="#0065ff"/>
<rect x="230.7" y="112" width="1.9" height="11" fill="#0046ff"/>
<rect x="232.2" y="112" width="4.2" height="11" fill="#0000a4"/>
<rect x="236.2" y="112" width="3.4" height="11" fill="#0000fb"/>
<rect x="239.3" y="112" width="9.7" height="11" fill="#000098"/>
<rect x="248.7" y="112" width="2.7" height="11" fill="#0039ff"/>
<rect x="251.1" y="112" width="4.2" height="11" fill="#0000a4"/>
<rect x="255.0" y="112" width="2.7" height="11" fill="#0010ff"/>
<rect x="257.3" y="112" width="2.7" height="11" fill="#0000a4"/>
<rect x="259.7" y="112" width="1.9" height="11" fill="#0000ff"/>
<rect x="261.3" y="112" width="1.9" height="11" fill="#0016ff"/>
<rect x="262.8" y="112" width="1.9" height="11" fill="#0009ff"/>
<rect x="264.4" y="112" width="6.6" height="11" fill="#0000a4"/>
<rect x="270.7" y="112" width="2.7" height="11" fill="#0039ff"/>
<rect x="273.0" y="112" width="0.7" height="11" fill="#0000e1"/>
<rect x="273.4" y="112" width="2.7" height="11" fill="#00009e"/>
<rect x="275.8" y="112" width="2.6" height="11" fill="#0000d9"/>
<rect x="278.1" y="112" width="2.5" height="11" fill="#00009c"/>
<rect x="280.3" y="112" width="1.7" height="11" fill="#0000e4"/>
<rect x="281.7" y="112" width="2.7" height="11" fill="#0010ff"/>
<rect x="284.0" y="112" width="5.8" height="11" fill="#0000a4"/>
<rect x="289.5" y="112" width="2.7" height="11" fill="#0010ff"/>
<rect x="291.8" y="112" width="0.4" height="11" fill="#0003ff"/>
<rect x="291.9" y="112" width="2.1" height="11" fill="#00009f"/>
<rect x="293.7" y="112" width="2.1" height="11" fill="#0000f3"/>
<rect x="295.5" y="112" width="1.5" height="11" fill="#001aff"/>
<rect x="296.6" y="112" width="1.5" height="11" fill="#0001ff"/>
<rect x="297.8" y="112" width="1.9" height="11" fill="#00eeff"/>
<rect x="299.4" y="112" width="1.9" height="11" fill="#0083ff"/>
<rect x="300.9" y="112" width="1.6" height="11" fill="#004fff"/>
<rect x="302.3" y="112" width="1.6" height="11" fill="#00a5ff"/>
<rect x="303.6" y="112" width="1.6" height="11" fill="#0054ff"/>
<rect x="304.9" y="112" width="1.9" height="11" fill="#00fdff"/>
<rect x="306.4" y="112" width="1.9" height="11" fill="#00c6ff"/>
<rect x="308.0" y="112" width="1.5" height="11" fill="#0075ff"/>
<rect x="309.2" y="112" width="1.5" height="11" fill="#00b8ff"/>
<rect x="310.4" y="112" width="1.6" height="11" fill="#33ffcc"/>
<rect x="311.7" y="112" width="1.6" height="11" fill="#00adff"/>
<rect x="313.0" y="112" width="1.6" height="11" fill="#18ffe7"/>
<rect x="314.3" y="112" width="1.5" height="11" fill="#008bff"/>
<rect x="315.5" y="112" width="1.5" height="11" fill="#0063ff"/>
<rect x="316.6" y="112" width="1.9" height="11" fill="#53ffac"/>
<rect x="318.2" y="112" width="1.9" height="11" fill="#00c1ff"/>
<rect x="319.8" y="112" width="1.5" height="11" fill="#00a9ff"/>
<rect x="320.9" y="112" width="1.5" height="11" fill="#0064ff"/>
<rect x="322.1" y="112" width="1.5" height="11" fill="#00f6ff"/>
<rect x="323.3" y="112" width="1.5" height="11" fill="#6eff91"/>
<rect x="324.5" y="112" width="1.5" height="11" fill="#4effb1"/>
<rect x="325.7" y="112" width="1.5" height="11" fill="#00bbff"/>
<rect x="326.8" y="112" width="1.9" height="11" fill="#008bff"/>
<rect x="328.4" y="112" width="1.6" height="11" fill="#00dfff"/>
<rect x="329.7" y="112" width="1.6" height="11" fill="#34ffcb"/>
<rect x="331.0" y="112" width="1.6" height="11" fill="#00ceff"/>
<rect x="332.3" y="112" width="1.9" height="11" fill="#82ff7d"/>
<rect x="333.9" y="112" width="1.9" height="11" fill="#35ffca"/>
<rect x="335.5" y="112" width="1.9" height="11" fill="#00daff"/>
<rect x="337.0" y="112" width="1.9" height="11" fill="#008bff"/>
<rect x="338.6" y="112" width="1.5" height="11" fill="#00c9ff"/>
<rect x="339.8" y="112" width="1.5" height="11" fill="#54ffab"/>
<rect x="340.9" y="112" width="9.4" height="11" fill="#e9ff16"/>
<rect x="55.4" y="101" width="6.9" height="11" fill="#ffc300"/>
<rect x="62.0" y="101" width="1.5" height="11" fill="#e9ff16"/>
<rect x="63.2" y="101" width="1.5" height="11" fill="#30ffcf"/>
<rect x="64.4" y="101" width="1.9" height="11" fill="#82ff7d"/>
<rect x="66.0" y="101" width="1.9" height="11" fill="#00f4ff"/>
<rect x="67.5" y="101" width="1.5" height="11" fill="#52ffad"/>
<rect x="68.7" y="101" width="1.5" height="11" fill="#00cdff"/>
<rect x="69.9" y="101" width="1.5" height="11" fill="#3fffc0"/>
<rect x="71.1" y="101" width="1.5" height="11" fill="#e2ff1d"/>
<rect x="72.2" y="101" width="1.5" height="11" fill="#00ecff"/>
<rect x="73.4" y="101" width="1.5" height="11" fill="#2cffd3"/>
<rect x="74.6" y="101" width="1.5" height="11" fill="#c8ff37"/>
<rect x="75.8" y="101" width="1.5" height="11" fill="#28ffd7"/>
<rect x="76.9" y="101" width="1.5" height="11" fill="#00e6ff"/>
<rect x="78.1" y="101" width="1.5" height="11" fill="#3bffc4"/>
<rect x="79.3" y="101" width="1.9" height="11" fill="#97ff68"/>
<rect x="80.9" y="101" width="1.5" height="11" fill="#00e2ff"/>
<rect x="82.0" y="101" width="1.5" height="11" fill="#53ffac"/>
<rect x="83.2" y="101" width="1.9" height="11" fill="#51ffae"/>
<rect x="84.8" y="101" width="1.9" height="11" fill="#00cdff"/>
<rect x="86.4" y="101" width="1.9" height="11" fill="#7fff80"/>
<rect x="87.9" y="101" width="1.9" height="11" fill="#d9ff26"/>
<rect x="89.5" y="101" width="1.6" height="11" fill="#40ffbf"/>
<rect x="90.8" y="101" width="1.6" height="11" fill="#00eaff"/>
<rect x="92.1" y="101" width="1.6" height="11" fill="#40ffbf"/>
<rect x="93.4" y="101" width="1.9" height="11" fill="#00a0ff"/>
<rect x="95.0" y="101" width="1.9" height="11" fill="#0073ff"/>
<rect x="96.6" y="101" width="1.5" height="11" fill="#38ffc7"/>
<rect x="97.7" y="101" width="1.5" height="11" fill="#00eaff"/>
<rect x="98.9" y="101" width="1.9" height="11" fill="#e9ff16"/>
<rect x="100.5" y="101" width="1.9" height="11" fill="#6cff93"/>
<rect x="102.0" y="101" width="1.9" height="11" fill="#00caff"/>
<rect x="103.6" y="101" width="1.9" height="11" fill="#19ffe6"/>
<rect x="105.2" y="101" width="1.5" height="11" fill="#00b6ff"/>
<rect x="106.4" y="101" width="1.5" height="11" fill="#006cff"/>
<rect x="107.5" y="101" width="6.3" height="11" fill="#0010ff"/>
<rect x="113.5" y="101" width="1.9" height="11" fill="#0064ff"/>
<rect x="115.1" y="101" width="1.9" height="11" fill="#0040ff"/>
<rect x="116.6" y="101" width="1.9" height="11" fill="#006bff"/>
<rect x="118.2" y="101" width="1.6" height="11" fill="#00009d"/>
<rect x="119.5" y="101" width="2.4" height="11" fill="#0000e9"/>
<rect x="121.5" y="101" width="2.7" height="11" fill="#00009f"/>
<rect x="123.9" y="101" width="2.1" height="11" fill="#0000ee"/>
<rect x="125.7" y="101" width="2.4" height="11" fill="#00009f"/>
<rect x="127.8" y="101" width="0.9" height="11" fill="#0000f4"/>
<rect x="128.4" y="101" width="2.7" height="11" fill="#0010ff"/>
<rect x="130.7" y="101" width="1.9" height="11" fill="#0058ff"/>
<rect x="132.3" y="101" width="1.9" height="11" fill="#003dff"/>
<rect x="133.9" y="101" width="1.9" height="11" fill="#005fff"/>
<rect x="135.5" y="101" width="1.9" height="11" fill="#0032ff"/>
<rect x="137.0" y="101" width="1.9" height="11" fill="#0068ff"/>
<rect x="138.6" y="101" width="1.9" height="11" fill="#0001ff"/>
<rect x="140.2" y="101" width="1.9" height="11" fill="#0000e7"/>
<rect x="141.7" y="101" width="1.9" height="11" fill="#000fff"/>
<rect x="143.3" y="101" width="1.9" height="11" fill="#005dff"/>
<rect x="144.9" y="101" width="1.9" height="11" fill="#0041ff"/>
<rect x="146.4" y="101" width="1.9" height="11" fill="#005fff"/>
<rect x="148.0" y="101" width="1.9" height="11" fill="#0030ff"/>
<rect x="149.6" y="101" width="1.9" height="11" fill="#0000a4"/>
<rect x="151.1" y="101" width="2.7" height="11" fill="#0010ff"/>
<rect x="153.5" y="101" width="12.8" height="11" fill="#000098"/>
<rect x="166.0" y="101" width="3.4" height="11" fill="#0000fb"/>
<rect x="169.2" y="101" width="5.0" height="11" fill="#0000a4"/>
<rect x="173.9" y="101" width="3.4" height="11" fill="#0039ff"/>
<rect x="177.0" y="101" width="2.7" height="11" fill="#0062ff"/>
<rect x="179.4" y="101" width="3.4" height="11" fill="#0000a4"/>
<rect x="182.5" y="101" width="2.3" height="11" fill="#0033ff"/>
<rect x="184.5" y="101" width="2.3" height="11" fill="#0057ff"/>
<rect x="186.4" y="101" width="30.4" height="11" fill="#00008c"/>
<rect x="216.6" y="101" width="2.3" height="11" fill="#0057ff"/>
<rect x="218.5" y="101" width="2.3" height="11" fill="#0033ff"/>
<rect x="220.5" y="101" width="3.4" height="11" fill="#0000a4"/>
<rect x="223.6" y="101" width="2.7" height="11" fill="#0062ff"/>
<rect x="226.0" y="101" width="3.4" height="11" fill="#0039ff"/>
<rect x="229.1" y="101" width="5.0" height="11" fill="#0000a4"/>
<rect x="233.8" y="101" width="3.4" height="11" fill="#0000fb"/>
<rect x="236.9" y="101" width="12.8" height="11" fill="#000098"/>
<rect x="249.5" y="101" width="2.7" height="11" fill="#0010ff"/>
<rect x="251.8" y="101" width="1.9" height="11" fill="#0000a4"/>
<rect x="253.4" y="101" width="1.9" height="11" fill="#0030ff"/>
<rect x="255.0" y="101" width="1.9" height="11" fill="#005fff"/>
<rect x="256.6" y="101" width="1.9" height="11" fill="#0041ff"/>
<rect x="258.1" y="101" width="1.9" height="11" fill="#005dff"/>
<rect x="259.7" y="101" width="1.9" height="11" fill="#000fff"/>
<rect x="261.3" y="101" width="1.9" height="11" fill="#0000e7"/>
<rect x="262.8" y="101" width="1.9" height="11" fill="#0001ff"/>
<rect x="264.4" y="101" width="1.9" height="11" fill="#0068ff"/>
<rect x="266.0" y="101" width="1.9" height="11" fill="#0032ff"/>
<rect x="267.5" y="101" width="1.9" height="11" fill="#005fff"/>
<rect x="269.1" y="101" width="1.9" height="11" fill="#003dff"/>
<rect x="270.7" y="101" width="1.9" height="11" fill="#0058ff"/>
<rect x="272.2" y="101" width="2.7" height="11" fill="#0010ff"/>
<rect x="274.6" y="101" width="0.9" height="11" fill="#0000f4"/>
<rect x="275.2" y="101" width="2.4" height="11" fill="#00009f"/>
<rect x="277.3" y="101" width="2.1" height="11" fill="#0000ee"/>
<rect x="279.1" y="101" width="2.7" height="11" fill="#00009f"/>
<rect x="281.4" y="101" width="2.4" height="11" fill="#0000e9"/>
<rect x="283.5" y="101" width="1.6" height="11" fill="#00009d"/>
<rect x="284.8" y="101" width="1.9" height="11" fill="#006bff"/>
<rect x="286.4" y="101" width="1.9" height="11" fill="#0040ff"/>
<rect x="287.9" y="101" width="1.9" height="11" fill="#0064ff"/>
<rect x="289.5" y="101" width="6.3" height="11" fill="#0010ff"/>
<rect x="295.5" y="101" width="1.5" height="11" fill="#006cff"/>
<rect x="296.6" y="101" width="1.5" height="11" fill="#00b6ff"/>
<rect x="297.8" y="101" width="1.9" height="11" fill="#19ffe6"/>
<rect x="299.4" y="101" width="1.9" height="11" fill="#00caff"/>
<rect x="300.9" y="101" width="1.9" height="11" fill="#6cff93"/>
<rect x="302.5" y="101" width="1.9" height="11" fill="#e9ff16"/>
<rect x="304.1" y="101" width="1.5" height="11" fill="#00eaff"/>
<rect x="305.3" y="101" width="1.5" height="11" fill="#38ffc7"/>
<rect x="306.4" y="101" width="1.9" height="11" fill="#0073ff"/>
<rect x="308.0" y="101" width="1.9" height="11" fill="#00a0ff"/>
<rect x="309.6" y="101" width="1.6" height="11" fill="#40ffbf"/>
<rect x="310.9" y="101" width="1.6" height="11" fill="#00eaff"/>
<rect x="312.2" y="101" width="1.6" height="11" fill="#40ffbf"/>
<rect x="313.5" y="101" width="1.9" height="11" fill="#d9ff26"/>
<rect x="315.1" y="101" width="1.9" height="11" fill="#7fff80"/>
<rect x="316.6" y="101" width="1.9" height="11" fill="#00cdff"/>
<rect x="318.2" y="101" width="1.9" height="11" fill="#51ffae"/>
<rect x="319.8" y="101" width="1.5" height="11" fill="#53ffac"/>
<rect x="320.9" y="101" width="1.5" height="11" fill="#00e2ff"/>
<rect x="322.1" y="101" width="1.9" height="11" fill="#97ff68"/>
<rect x="323.7" y="101" width="1.5" height="11" fill="#3bffc4"/>
<rect x="324.9" y="101" width="1.5" height="11" fill="#00e6ff"/>
<rect x="326.0" y="101" width="1.5" height="11" fill="#28ffd7"/>
<rect x="327.2" y="101" width="1.5" height="11" fill="#c8ff37"/>
<rect x="328.4" y="101" width="1.5" height="11" fill="#2cffd3"/>
<rect x="329.6" y="101" width="1.5" height="11" fill="#00ecff"/>
<rect x="330.8" y="101" width="1.5" height="11" fill="#e2ff1d"/>
<rect x="331.9" y="101" width="1.5" height="11" fill="#3fffc0"/>
<rect x="333.1" y="101" width="1.5" height="11" fill="#00cdff"/>
<rect x="334.3" y="101" width="1.5" height="11" fill="#52ffad"/>
<rect x="335.5" y="101" width="1.9" height="11" fill="#00f4ff"/>
<rect x="337.0" y="101" width="1.9" height="11" fill="#82ff7d"/>
<rect x="338.6" y="101" width="1.5" height="11" fill="#30ffcf"/>
<rect x="339.8" y="101" width="1.5" height="11" fill="#e9ff16"/>
<rect x="340.9" y="101" width="9.4" height="11" fill="#ffc300"/>
<rect x="55.4" y="90" width="6.1" height="11" fill="#d4ff2b"/>
<rect x="61.3" y="90" width="2.7" height="11" fill="#07fff8"/>
<rect x="63.6" y="90" width="1.5" height="11" fill="#0059ff"/>
<rect x="64.8" y="90" width="1.5" height="11" fill="#0099ff"/>
<rect x="66.0" y="90" width="1.9" height="11" fill="#42ffbd"/>
<rect x="67.5" y="90" width="1.9" height="11" fill="#00d1ff"/>
<rect x="69.1" y="90" width="1.9" height="11" fill="#97ff68"/>
<rect x="70.7" y="90" width="1.6" height="11" fill="#00bcff"/>
<rect x="72.0" y="90" width="1.6" height="11" fill="#3cffc3"/>
<rect x="73.3" y="90" width="1.6" height="11" fill="#00d5ff"/>
<rect x="74.6" y="90" width="1.5" height="11" fill="#009dff"/>
<rect x="75.8" y="90" width="1.5" height="11" fill="#005dff"/>
<rect x="76.9" y="90" width="1.9" height="11" fill="#82ff7d"/>
<rect x="78.5" y="90" width="1.6" height="11" fill="#39ffc6"/>
<rect x="79.8" y="90" width="1.6" height="11" fill="#00e9ff"/>
<rect x="81.1" y="90" width="1.6" height="11" fill="#43ffbc"/>
<rect x="82.4" y="90" width="1.9" height="11" fill="#85ff7a"/>
<rect x="84.0" y="90" width="1.9" height="11" fill="#00f5ff"/>
<rect x="85.6" y="90" width="1.5" height="11" fill="#00bcff"/>
<rect x="86.7" y="90" width="1.5" height="11" fill="#2effd1"/>
<rect x="87.9" y="90" width="1.9" height="11" fill="#c0ff3f"/>
<rect x="89.5" y="90" width="1.7" height="11" fill="#0076ff"/>
<rect x="90.9" y="90" width="1.7" height="11" fill="#003aff"/>
<rect x="92.3" y="90" width="1.7" height="11" fill="#007fff"/>
<rect x="93.7" y="90" width="1.7" height="11" fill="#003bff"/>
<rect x="95.1" y="90" width="1.7" height="11" fill="#0083ff"/>
<rect x="96.6" y="90" width="1.6" height="11" fill="#0067ff"/>
<rect x="97.9" y="90" width="1.6" height="11" fill="#00aeff"/>
<rect x="99.2" y="90" width="1.6" height="11" fill="#006aff"/>
<rect x="100.5" y="90" width="1.9" height="11" fill="#006fff"/>
<rect x="102.0" y="90" width="1.9" height="11" fill="#0035ff"/>
<rect x="103.6" y="90" width="1.6" height="11" fill="#0011ff"/>
<rect x="104.9" y="90" width="1.6" height="11" fill="#0000e9"/>
<rect x="106.2" y="90" width="1.6" height="11" fill="#0006ff"/>
<rect x="107.5" y="90" width="1.4" height="11" fill="#00009a"/>
<rect x="108.7" y="90" width="2.0" height="11" fill="#0000ba"/>
<rect x="110.4" y="90" width="2.7" height="11" fill="#000099"/>
<rect x="112.8" y="90" width="1.8" height="11" fill="#0000bb"/>
<rect x="114.3" y="90" width="2.2" height="11" fill="#0003ff"/>
<rect x="116.2" y="90" width="2.2" height="11" fill="#0000ad"/>
<rect x="118.2" y="90" width="2.0" height="11" fill="#0017ff"/>
<rect x="119.9" y="90" width="1.0" height="11" fill="#0000a0"/>
<rect x="120.6" y="90" width="1.9" height="11" fill="#000cff"/>
<rect x="122.1" y="90" width="1.9" height="11" fill="#0000e8"/>
<rect x="123.7" y="90" width="1.9" height="11" fill="#000aff"/>
<rect x="125.3" y="90" width="2.7" height="11" fill="#0000a4"/>
<rect x="127.6" y="90" width="2.7" height="11" fill="#0010ff"/>
<rect x="130.0" y="90" width="5.0" height="11" fill="#0000a4"/>
<rect x="134.7" y="90" width="10.5" height="11" fill="#000098"/>
<rect x="144.9" y="90" width="1.1" height="11" fill="#0000d2"/>
<rect x="145.7" y="90" width="1.9" height="11" fill="#0010ff"/>
<rect x="147.2" y="90" width="8.1" height="11" fill="#000092"/>
<rect x="155.1" y="90" width="1.9" height="11" fill="#0000e6"/>
<rect x="156.6" y="90" width="7.4" height="11" fill="#000092"/>
<rect x="163.7" y="90" width="2.3" height="11" fill="#0044ff"/>
<rect x="165.7" y="90" width="2.3" height="11" fill="#006aff"/>
<rect x="167.6" y="90" width="1.9" height="11" fill="#001bff"/>
<rect x="169.2" y="90" width="1.9" height="11" fill="#0003ff"/>
<rect x="170.7" y="90" width="1.9" height="11" fill="#0017ff"/>
<rect x="172.3" y="90" width="1.9" height="11" fill="#0000d2"/>
<rect x="173.9" y="90" width="1.9" height="11" fill="#0039ff"/>
<rect x="175.5" y="90" width="4.2" height="11" fill="#0000b7"/>
<rect x="179.4" y="90" width="1.9" height="11" fill="#0039ff"/>
<rect x="180.9" y="90" width="5.8" height="11" fill="#0000b7"/>
<rect x="186.4" y="90" width="30.4" height="11" fill="#00008c"/>
<rect x="216.6" y="90" width="5.8" height="11" fill="#0000b7"/>
<rect x="222.0" y="90" width="1.9" height="11" fill="#0039ff"/>
<rect x="223.6" y="90" width="4.2" height="11" fill="#0000b7"/>
<rect x="227.5" y="90" width="1.9" height="11" fill="#0039ff"/>
<rect x="229.1" y="90" width="1.9" height="11" fill="#0000d2"/>
<rect x="230.7" y="90" width="1.9" height="11" fill="#0017ff"/>
<rect x="232.2" y="90" width="1.9" height="11" fill="#0003ff"/>
<rect x="233.8" y="90" width="1.9" height="11" fill="#001bff"/>
<rect x="235.4" y="90" width="2.3" height="11" fill="#006aff"/>
<rect x="237.3" y="90" width="2.3" height="11" fill="#0044ff"/>
<rect x="239.3" y="90" width="7.4" height="11" fill="#000092"/>
<rect x="246.4" y="90" width="1.9" height="11" fill="#0000e6"/>
<rect x="247.9" y="90" width="8.1" height="11" fill="#000092"/>
<rect x="255.8" y="90" width="1.9" height="11" fill="#0010ff"/>
<rect x="257.3" y="90" width="1.1" height="11" fill="#0000d2"/>
<rect x="258.1" y="90" width="10.5" height="11" fill="#000098"/>
<rect x="268.3" y="90" width="5.0" height="11" fill="#0000a4"/>
<rect x="273.0" y="90" width="2.7" height="11" fill="#0010ff"/>
<rect x="275.4" y="90" width="2.7" height="11" fill="#0000a4"/>
<rect x="277.7" y="90" width="1.9" height="11" fill="#000aff"/>
<rect x="279.3" y="90" width="1.9" height="11" fill="#0000e8"/>
<rect x="280.9" y="90" width="1.9" height="11" fill="#000cff"/>
<rect x="282.4" y="90" width="1.0" height="11" fill="#0000a0"/>
<rect x="283.1" y="90" width="2.0" height="11" fill="#0017ff"/>
<rect x="284.8" y="90" width="2.2" height="11" fill="#0000ad"/>
<rect x="286.8" y="90" width="2.2" height="11" fill="#0003ff"/>
<rect x="288.7" y="90" width="1.8" height="11" fill="#0000bb"/>
<rect x="290.2" y="90" width="2.7" height="11" fill="#000099"/>
<rect x="292.6" y="90" width="2.0" height="11" fill="#0000ba"/>
<rect x="294.3" y="90" width="1.4" height="11" fill="#00009a"/>
<rect x="295.5" y="90" width="1.6" height="11" fill="#0006ff"/>
<rect x="296.8" y="90" width="1.6" height="11" fill="#0000e9"/>
<rect x="298.1" y="90" width="1.6" height="11" fill="#0011ff"/>
<rect x="299.4" y="90" width="1.9" height="11" fill="#0035ff"/>
<rect x="300.9" y="90" width="1.9" height="11" fill="#006fff"/>
<rect x="302.5" y="90" width="1.6" height="11" fill="#006aff"/>
<rect x="303.8" y="90" width="1.6" height="11" fill="#00aeff"/>
<rect x="305.1" y="90" width="1.6" height="11" fill="#0067ff"/>
<rect x="306.4" y="90" width="1.7" height="11" fill="#0083ff"/>
<rect x="307.8" y="90" width="1.7" height="11" fill="#003bff"/>
<rect x="309.3" y="90" width="1.7" height="11" fill="#007fff"/>
<rect x="310.7" y="90" width="1.7" height="11" fill="#003aff"/>
<rect x="312.1" y="90" width="1.7" height="11" fill="#0076ff"/>
<rect x="313.5" y="90" width="1.9" height="11" fill="#c0ff3f"/>
<rect x="315.1" y="90" width="1.5" height="11" fill="#2effd1"/>
<rect x="316.2" y="90" width="1.5" height="11" fill="#00bcff"/>
<rect x="317.4" y="90" width="1.9" height="11" fill="#00f5ff"/>
<rect x="319.0" y="90" width="1.9" height="11" fill="#85ff7a"/>
<rect x="320.6" y="90" width="1.6" height="11" fill="#43ffbc"/>
<rect x="321.9" y="90" width="1.6" height="11" fill="#00e9ff"/>
<rect x="323.2" y="90" width="1.6" height="11" fill="#39ffc6"/>
<rect x="324.5" y="90" width="1.9" height="11" fill="#82ff7d"/>
<rect x="326.0" y="90" width="1.5" height="11" fill="#005dff"/>
<rect x="327.2" y="90" width="1.5" height="11" fill="#009dff"/>
<rect x="328.4" y="90" width="1.6" height="11" fill="#00d5ff"/>
<rect x="329.7" y="90" width="1.6" height="11" fill="#3cffc3"/>
<rect x="331.0" y="90" width="1.6" height="11" fill="#00bcff"/>
<rect x="332.3" y="90" width="1.9" height="11" fill="#97ff68"/>
<rect x="333.9" y="90" width="1.9" height="11" fill="#00d1ff"/>
<rect x="335.5" y="90" width="1.9" height="11" fill="#42ffbd"/>
<rect x="337.0" y="90" width="1.5" height="11" fill="#0099ff"/>
<rect x="338.2" y="90" width="1.5" height="11" fill="#0059ff"/>
<rect x="339.4" y="90" width="2.7" height="11" fill="#07fff8"/>
<rect x="341.7" y="90" width="8.6" height="11" fill="#d4ff2b"/>
<rect x="55.4" y="79" width="6.9" height="11" fill="#45ffba"/>
<rect x="62.0" y="79" width="1.6" height="11" fill="#5dffa2"/>
<rect x="63.3" y="79" width="1.6" height="11" fill="#00ddff"/>
<rect x="64.7" y="79" width="1.6" height="11" fill="#59ffa6"/>
<rect x="66.0" y="79" width="1.5" height="11" fill="#3fffc0"/>
<rect x="67.1" y="79" width="1.5" height="11" fill="#00d4ff"/>
<rect x="68.3" y="79" width="1.5" height="11" fill="#009cff"/>
<rect x="69.5" y="79" width="1.5" height="11" fill="#0061ff"/>
<rect x="70.7" y="79" width="1.9" height="11" fill="#00e1ff"/>
<rect x="72.2" y="79" width="1.9" height="11" fill="#3bffc4"/>
<rect x="73.8" y="79" width="1.5" height="11" fill="#00a7ff"/>
<rect x="75.0" y="79" width="1.5" height="11" fill="#0078ff"/>
<rect x="76.2" y="79" width="1.9" height="11" fill="#00c6ff"/>
<rect x="77.7" y="79" width="1.9" height="11" fill="#36ffc9"/>
<rect x="79.3" y="79" width="1.9" height="11" fill="#00ebff"/>
<rect x="80.9" y="79" width="1.5" height="11" fill="#39ffc6"/>
<rect x="82.0" y="79" width="1.5" height="11" fill="#c4ff3b"/>
<rect x="83.2" y="79" width="1.9" height="11" fill="#004cff"/>
<rect x="84.8" y="79" width="1.9" height="11" fill="#008dff"/>
<rect x="86.4" y="79" width="1.6" height="11" fill="#00d6ff"/>
<rect x="87.7" y="79" width="1.6" height="11" fill="#37ffc8"/>
<rect x="89.0" y="79" width="1.6" height="11" fill="#00afff"/>
<rect x="90.3" y="79" width="1.5" height="11" fill="#0057ff"/>
<rect x="91.5" y="79" width="1.5" height="11" fill="#00a3ff"/>
<rect x="92.6" y="79" width="1.9" height="11" fill="#008eff"/>
<rect x="94.2" y="79" width="1.9" height="11" fill="#00e1ff"/>
<rect x="95.8" y="79" width="1.9" height="11" fill="#00aaff"/>
<rect x="97.3" y="79" width="1.5" height="11" fill="#57ffa8"/>
<rect x="98.5" y="79" width="1.5" height="11" fill="#c5ff3a"/>
<rect x="99.7" y="79" width="1.6" height="11" fill="#00a8ff"/>
<rect x="101.0" y="79" width="1.6" height="11" fill="#0dfff2"/>
<rect x="102.3" y="79" width="1.6" height="11" fill="#00bcff"/>
<rect x="103.6" y="79" width="1.5" height="11" fill="#b7ff48"/>
<rect x="104.8" y="79" width="1.5" height="11" fill="#37ffc8"/>
<rect x="106.0" y="79" width="1.9" height="11" fill="#0077ff"/>
<rect x="107.5" y="79" width="4.7" height="11" fill="#0039ff"/>
<rect x="111.9" y="79" width="5.8" height="11" fill="#0000d2"/>
<rect x="117.4" y="79" width="1.9" height="11" fill="#001fff"/>
<rect x="119.0" y="79" width="1.9" height="11" fill="#000bff"/>
<rect x="120.6" y="79" width="1.9" height="11" fill="#001eff"/>
<rect x="122.1" y="79" width="2.1" height="11" fill="#0063ff"/>
<rect x="123.9" y="79" width="2.6" height="11" fill="#003aff"/>
<rect x="126.2" y="79" width="2.8" height="11" fill="#005eff"/>
<rect x="128.7" y="79" width="1.6" height="11" fill="#0032ff"/>
<rect x="130.0" y="79" width="6.6" height="11" fill="#0000ab"/>
<rect x="136.2" y="79" width="1.9" height="11" fill="#001fff"/>
<rect x="137.8" y="79" width="1.9" height="11" fill="#0000fe"/>
<rect x="139.4" y="79" width="1.9" height="11" fill="#0024ff"/>
<rect x="140.9" y="79" width="2.7" height="11" fill="#004eff"/>
<rect x="143.3" y="79" width="1.1" height="11" fill="#0010ff"/>
<rect x="144.1" y="79" width="11.3" height="11" fill="#0000a4"/>
<rect x="155.1" y="79" width="1.9" height="11" fill="#0010ff"/>
<rect x="156.6" y="79" width="2.7" height="11" fill="#0000a4"/>
<rect x="159.0" y="79" width="1.9" height="11" fill="#0000fb"/>
<rect x="160.6" y="79" width="12.1" height="11" fill="#000092"/>
<rect x="172.3" y="79" width="1.9" height="11" fill="#0000fb"/>
<rect x="173.9" y="79" width="6.6" height="11" fill="#000092"/>
<rect x="180.2" y="79" width="2.7" height="11" fill="#0010ff"/>
<rect x="182.5" y="79" width="5.8" height="11" fill="#0000a4"/>
<rect x="188.0" y="79" width="2.7" height="11" fill="#004eff"/>
<rect x="190.4" y="79" width="6.6" height="11" fill="#0000a4"/>
<rect x="196.6" y="79" width="2.7" height="11" fill="#0039ff"/>
<rect x="199.0" y="79" width="5.3" height="11" fill="#0000a4"/>
<rect x="204.0" y="79" width="2.7" height="11" fill="#0039ff"/>
<rect x="206.4" y="79" width="6.6" height="11" fill="#0000a4"/>
<rect x="212.6" y="79" width="2.7" height="11" fill="#004eff"/>
<rect x="215.0" y="79" width="5.8" height="11" fill="#0000a4"/>
<rect x="220.5" y="79" width="2.7" height="11" fill="#0010ff"/>
<rect x="222.8" y="79" width="6.6" height="11" fill="#000092"/>
<rect x="229.1" y="79" width="1.9" height="11" fill="#0000fb"/>
<rect x="230.7" y="79" width="12.1" height="11" fill="#000092"/>
<rect x="242.4" y="79" width="1.9" height="11" fill="#0000fb"/>
<rect x="244.0" y="79" width="2.7" height="11" fill="#0000a4"/>
<rect x="246.4" y="79" width="1.9" height="11" fill="#0010ff"/>
<rect x="247.9" y="79" width="11.3" height="11" fill="#0000a4"/>
<rect x="258.9" y="79" width="1.1" height="11" fill="#0010ff"/>
<rect x="259.7" y="79" width="2.7" height="11" fill="#004eff"/>
<rect x="262.0" y="79" width="1.9" height="11" fill="#0024ff"/>
<rect x="263.6" y="79" width="1.9" height="11" fill="#0000fe"/>
<rect x="265.2" y="79" width="1.9" height="11" fill="#001fff"/>
<rect x="266.7" y="79" width="6.6" height="11" fill="#0000ab"/>
<rect x="273.0" y="79" width="1.6" height="11" fill="#0032ff"/>
<rect x="274.3" y="79" width="2.8" height="11" fill="#005eff"/>
<rect x="276.8" y="79" width="2.6" height="11" fill="#003aff"/>
<rect x="279.1" y="79" width="2.1" height="11" fill="#0063ff"/>
<rect x="280.9" y="79" width="1.9" height="11" fill="#001eff"/>
<rect x="282.4" y="79" width="1.9" height="11" fill="#000bff"/>
<rect x="284.0" y="79" width="1.9" height="11" fill="#001fff"/>
<rect x="285.6" y="79" width="5.8" height="11" fill="#0000d2"/>
<rect x="291.1" y="79" width="4.7" height="11" fill="#0039ff"/>
<rect x="295.5" y="79" width="1.9" height="11" fill="#0077ff"/>
<rect x="297.0" y="79" width="1.5" height="11" fill="#37ffc8"/>
<rect x="298.2" y="79" width="1.5" height="11" fill="#b7ff48"/>
<rect x="299.4" y="79" width="1.6" height="11" fill="#00bcff"/>
<rect x="300.7" y="79" width="1.6" height="11" fill="#0dfff2"/>
<rect x="302.0" y="79" width="1.6" height="11" fill="#00a8ff"/>
<rect x="303.3" y="79" width="1.5" height="11" fill="#c5ff3a"/>
<rect x="304.5" y="79" width="1.5" height="11" fill="#57ffa8"/>
<rect x="305.7" y="79" width="1.9" height="11" fill="#00aaff"/>
<rect x="307.2" y="79" width="1.9" height="11" fill="#00e1ff"/>
<rect x="308.8" y="79" width="1.9" height="11" fill="#008eff"/>
<rect x="310.4" y="79" width="1.5" height="11" fill="#00a3ff"/>
<rect x="311.5" y="79" width="1.5" height="11" fill="#0057ff"/>
<rect x="312.7" y="79" width="1.6" height="11" fill="#00afff"/>
<rect x="314.0" y="79" width="1.6" height="11" fill="#37ffc8"/>
<rect x="315.3" y="79" width="1.6" height="11" fill="#00d6ff"/>
<rect x="316.6" y="79" width="1.9" height="11" fill="#008dff"/>
<rect x="318.2" y="79" width="1.9" height="11" fill="#004cff"/>
<rect x="319.8" y="79" width="1.5" height="11" fill="#c4ff3b"/>
<rect x="320.9" y="79" width="1.5" height="11" fill="#39ffc6"/>
<rect x="322.1" y="79" width="1.9" height="11" fill="#00ebff"/>
<rect x="323.7" y="79" width="1.9" height="11" fill="#36ffc9"/>
<rect x="325.3" y="79" width="1.9" height="11" fill="#00c6ff"/>
<rect x="326.8" y="79" width="1.5" height="11" fill="#0078ff"/>
<rect x="328.0" y="79" width="1.5" height="11" fill="#00a7ff"/>
<rect x="329.2" y="79" width="1.9" height="11" fill="#3bffc4"/>
<rect x="330.8" y="79" width="1.9" height="11" fill="#00e1ff"/>
<rect x="332.3" y="79" width="1.5" height="11" fill="#0061ff"/>
<rect x="333.5" y="79" width="1.5" height="11" fill="#009cff"/>
<rect x="334.7" y="79" width="1.5" height="11" fill="#00d4ff"/>
<rect x="335.9" y="79" width="1.5" height="11" fill="#3fffc0"/>
<rect x="337.0" y="79" width="1.6" height="11" fill="#59ffa6"/>
<rect x="338.3" y="79" width="1.6" height="11" fill="#00ddff"/>
<rect x="339.6" y="79" width="1.6" height="11" fill="#5dffa2"/>
<rect x="340.9" y="79" width="9.4" height="11" fill="#45ffba"/>
<rect x="55.4" y="68" width="7.7" height="11" fill="#ff9a00"/>
<rect x="62.8" y="68" width="1.5" height="11" fill="#00e1ff"/>
<rect x="64.0" y="68" width="1.5" height="11" fill="#27ffd8"/>
<rect x="65.2" y="68" width="1.5" height="11" fill="#5cffa3"/>
<rect x="66.4" y="68" width="1.5" height="11" fill="#d1ff2e"/>
<rect x="67.5" y="68" width="1.5" height="11" fill="#23ffdc"/>
<rect x="68.7" y="68" width="1.5" height="11" fill="#00bbff"/>
<rect x="69.9" y="68" width="1.5" height="11" fill="#00afff"/>
<rect x="71.1" y="68" width="1.5" height="11" fill="#0058ff"/>
<rect x="72.2" y="68" width="1.9" height="11" fill="#00ddff"/>
<rect x="73.8" y="68" width="1.9" height="11" fill="#2cffd3"/>
<rect x="75.4" y="68" width="1.9" height="11" fill="#008bff"/>
<rect x="76.9" y="68" width="1.9" height="11" fill="#43ffbc"/>
<rect x="78.5" y="68" width="1.9" height="11" fill="#00e4ff"/>
<rect x="80.1" y="68" width="1.5" height="11" fill="#00b6ff"/>
<rect x="81.3" y="68" width="1.5" height="11" fill="#005bff"/>
<rect x="82.4" y="68" width="1.5" height="11" fill="#3bffc4"/>
<rect x="83.6" y="68" width="1.5" height="11" fill="#00b9ff"/>
<rect x="84.8" y="68" width="1.5" height="11" fill="#56ffa9"/>
<rect x="86.0" y="68" width="1.5" height="11" fill="#e9ff16"/>
<rect x="87.1" y="68" width="1.9" height="11" fill="#25ffda"/>
<rect x="88.7" y="68" width="1.9" height="11" fill="#00e0ff"/>
<rect x="90.3" y="68" width="1.5" height="11" fill="#14ffeb"/>
<rect x="91.5" y="68" width="1.5" height="11" fill="#9dff62"/>
<rect x="92.6" y="68" width="1.9" height="11" fill="#2bffd4"/>
<rect x="94.2" y="68" width="1.9" height="11" fill="#00acff"/>
<rect x="95.8" y="68" width="1.9" height="11" fill="#0063ff"/>
<rect x="97.3" y="68" width="1.9" height="11" fill="#009aff"/>
<rect x="98.9" y="68" width="1.9" height="11" fill="#1fffe0"/>
<rect x="100.5" y="68" width="1.9" height="11" fill="#00a5ff"/>
<rect x="102.0" y="68" width="1.9" height="11" fill="#00a0ff"/>
<rect x="103.6" y="68" width="1.9" height="11" fill="#005aff"/>
<rect x="105.2" y="68" width="1.5" height="11" fill="#006bff"/>
<rect x="106.4" y="68" width="1.5" height="11" fill="#0029ff"/>
<rect x="107.5" y="68" width="1.7" height="11" fill="#0000f0"/>
<rect x="108.9" y="68" width="2.2" height="11" fill="#0041ff"/>
<rect x="110.8" y="68" width="0.6" height="11" fill="#0000ef"/>
<rect x="111.1" y="68" width="2.3" height="11" fill="#0000a2"/>
<rect x="113.2" y="68" width="2.4" height="11" fill="#0000d9"/>
<rect x="115.3" y="68" width="1.7" height="11" fill="#0000a4"/>
<rect x="116.6" y="68" width="1.9" height="11" fill="#0030ff"/>
<rect x="118.2" y="68" width="1.9" height="11" fill="#0069ff"/>
<rect x="119.8" y="68" width="1.9" height="11" fill="#0044ff"/>
<rect x="121.3" y="68" width="2.7" height="11" fill="#0000b1"/>
<rect x="123.7" y="68" width="2.3" height="11" fill="#005fff"/>
<rect x="125.6" y="68" width="2.3" height="11" fill="#0039ff"/>
<rect x="127.6" y="68" width="3.4" height="11" fill="#0010ff"/>
<rect x="130.7" y="68" width="3.4" height="11" fill="#004eff"/>
<rect x="133.9" y="68" width="2.7" height="11" fill="#0000ab"/>
<rect x="136.2" y="68" width="2.7" height="11" fill="#0010ff"/>
<rect x="138.6" y="68" width="5.8" height="11" fill="#0000b7"/>
<rect x="144.1" y="68" width="2.8" height="11" fill="#0049ff"/>
<rect x="146.6" y="68" width="2.3" height="11" fill="#0012ff"/>
<rect x="148.6" y="68" width="2.1" height="11" fill="#004aff"/>
<rect x="150.4" y="68" width="3.4" height="11" fill="#0000a4"/>
<rect x="153.5" y="68" width="3.4" height="11" fill="#0010ff"/>
<rect x="156.6" y="68" width="6.6" height="11" fill="#0000ab"/>
<rect x="162.9" y="68" width="2.7" height="11" fill="#004eff"/>
<rect x="165.3" y="68" width="8.9" height="11" fill="#0000b1"/>
<rect x="173.9" y="68" width="1.9" height="11" fill="#004eff"/>
<rect x="175.5" y="68" width="8.1" height="11" fill="#0000a4"/>
<rect x="183.3" y="68" width="36.7" height="11" fill="#000086"/>
<rect x="219.7" y="68" width="8.1" height="11" fill="#0000a4"/>
<rect x="227.5" y="68" width="1.9" height="11" fill="#004eff"/>
<rect x="229.1" y="68" width="8.9" height="11" fill="#0000b1"/>
<rect x="237.7" y="68" width="2.7" height="11" fill="#004eff"/>
<rect x="240.1" y="68" width="6.6" height="11" fill="#0000ab"/>
<rect x="246.4" y="68" width="3.4" height="11" fill="#0010ff"/>
<rect x="249.5" y="68" width="3.4" height="11" fill="#0000a4"/>
<rect x="252.6" y="68" width="2.1" height="11" fill="#004aff"/>
<rect x="254.4" y="68" width="2.3" height="11" fill="#0012ff"/>
<rect x="256.4" y="68" width="2.8" height="11" fill="#0049ff"/>
<rect x="258.9" y="68" width="5.8" height="11" fill="#0000b7"/>
<rect x="264.4" y="68" width="2.7" height="11" fill="#0010ff"/>
<rect x="266.7" y="68" width="2.7" height="11" fill="#0000ab"/>
<rect x="269.1" y="68" width="3.4" height="11" fill="#004eff"/>
<rect x="272.2" y="68" width="3.4" height="11" fill="#0010ff"/>
<rect x="275.4" y="68" width="2.3" height="11" fill="#0039ff"/>
<rect x="277.3" y="68" width="2.3" height="11" fill="#005fff"/>
<rect x="279.3" y="68" width="2.7" height="11" fill="#0000b1"/>
<rect x="281.7" y="68" width="1.9" height="11" fill="#0044ff"/>
<rect x="283.2" y="68" width="1.9" height="11" fill="#0069ff"/>
<rect x="284.8" y="68" width="1.9" height="11" fill="#0030ff"/>
<rect x="286.4" y="68" width="1.7" height="11" fill="#0000a4"/>
<rect x="287.7" y="68" width="2.4" height="11" fill="#0000d9"/>
<rect x="289.8" y="68" width="2.3" height="11" fill="#0000a2"/>
<rect x="291.8" y="68" width="0.6" height="11" fill="#0000ef"/>
<rect x="292.2" y="68" width="2.2" height="11" fill="#0041ff"/>
<rect x="294.0" y="68" width="1.7" height="11" fill="#0000f0"/>
<rect x="295.5" y="68" width="1.5" height="11" fill="#0029ff"/>
<rect x="296.6" y="68" width="1.5" height="11" fill="#006bff"/>
<rect x="297.8" y="68" width="1.9" height="11" fill="#005aff"/>
<rect x="299.4" y="68" width="1.9" height="11" fill="#00a0ff"/>
<rect x="300.9" y="68" width="1.9" height="11" fill="#00a5ff"/>
<rect x="302.5" y="68" width="1.9" height="11" fill="#1fffe0"/>
<rect x="304.1" y="68" width="1.9" height="11" fill="#009aff"/>
<rect x="305.7" y="68" width="1.9" height="11" fill="#0063ff"/>
<rect x="307.2" y="68" width="1.9" height="11" fill="#00acff"/>
<rect x="308.8" y="68" width="1.9" height="11" fill="#2bffd4"/>
<rect x="310.4" y="68" width="1.5" height="11" fill="#9dff62"/>
<rect x="311.5" y="68" width="1.5" height="11" fill="#14ffeb"/>
<rect x="312.7" y="68" width="1.9" height="11" fill="#00e0ff"/>
<rect x="314.3" y="68" width="1.9" height="11" fill="#25ffda"/>
<rect x="315.8" y="68" width="1.5" height="11" fill="#e9ff16"/>
<rect x="317.0" y="68" width="1.5" height="11" fill="#56ffa9"/>
<rect x="318.2" y="68" width="1.5" height="11" fill="#00b9ff"/>
<rect x="319.4" y="68" width="1.5" height="11" fill="#3bffc4"/>
<rect x="320.6" y="68" width="1.5" height="11" fill="#005bff"/>
<rect x="321.7" y="68" width="1.5" height="11" fill="#00b6ff"/>
<rect x="322.9" y="68" width="1.9" height="11" fill="#00e4ff"/>
<rect x="324.5" y="68" width="1.9" height="11" fill="#43ffbc"/>
<rect x="326.0" y="68" width="1.9" height="11" fill="#008bff"/>
<rect x="327.6" y="68" width="1.9" height="11" fill="#2cffd3"/>
<rect x="329.2" y="68" width="1.9" height="11" fill="#00ddff"/>
<rect x="330.8" y="68" width="1.5" height="11" fill="#0058ff"/>
<rect x="331.9" y="68" width="1.5" height="11" fill="#00afff"/>
<rect x="333.1" y="68" width="1.5" height="11" fill="#00bbff"/>
<rect x="334.3" y="68" width="1.5" height="11" fill="#23ffdc"/>
<rect x="335.5" y="68" width="1.5" height="11" fill="#d1ff2e"/>
<rect x="336.6" y="68" width="1.5" height="11" fill="#5cffa3"/>
<rect x="337.8" y="68" width="1.5" height="11" fill="#27ffd8"/>
<rect x="339.0" y="68" width="1.5" height="11" fill="#00e1ff"/>
<rect x="340.2" y="68" width="10.2" height="11" fill="#ff9a00"/>
<rect x="55.4" y="57" width="6.9" height="11" fill="#1cffe3"/>
<rect x="62.0" y="57" width="1.5" height="11" fill="#00a8ff"/>
<rect x="63.2" y="57" width="1.5" height="11" fill="#0afff5"/>
<rect x="64.4" y="57" width="1.9" height="11" fill="#00c0ff"/>
<rect x="66.0" y="57" width="1.9" height="11" fill="#41ffbe"/>
<rect x="67.5" y="57" width="1.5" height="11" fill="#00afff"/>
<rect x="68.7" y="57" width="1.5" height="11" fill="#007aff"/>
<rect x="69.9" y="57" width="1.6" height="11" fill="#2bffd4"/>
<rect x="71.2" y="57" width="1.6" height="11" fill="#00deff"/>
<rect x="72.5" y="57" width="1.6" height="11" fill="#4cffb3"/>
<rect x="73.8" y="57" width="1.5" height="11" fill="#40ffbf"/>
<rect x="75.0" y="57" width="1.5" height="11" fill="#00d3ff"/>
<rect x="76.2" y="57" width="1.5" height="11" fill="#00b4ff"/>
<rect x="77.3" y="57" width="1.5" height="11" fill="#005aff"/>
<rect x="78.5" y="57" width="1.6" height="11" fill="#50ffaf"/>
<rect x="79.8" y="57" width="1.6" height="11" fill="#00c4ff"/>
<rect x="81.1" y="57" width="1.6" height="11" fill="#23ffdc"/>
<rect x="82.4" y="57" width="1.9" height="11" fill="#1fffe0"/>
<rect x="84.0" y="57" width="1.9" height="11" fill="#00d6ff"/>
<rect x="85.6" y="57" width="1.9" height="11" fill="#0071ff"/>
<rect x="87.1" y="57" width="1.9" height="11" fill="#00a4ff"/>
<rect x="88.7" y="57" width="1.9" height="11" fill="#004dff"/>
<rect x="90.3" y="57" width="1.9" height="11" fill="#0018ff"/>
<rect x="91.8" y="57" width="1.9" height="11" fill="#0055ff"/>
<rect x="93.4" y="57" width="1.9" height="11" fill="#18ffe7"/>
<rect x="95.0" y="57" width="1.9" height="11" fill="#00b9ff"/>
<rect x="96.6" y="57" width="1.5" height="11" fill="#00e9ff"/>
<rect x="97.7" y="57" width="1.5" height="11" fill="#63ff9c"/>
<rect x="98.9" y="57" width="1.9" height="11" fill="#00a7ff"/>
<rect x="100.5" y="57" width="1.9" height="11" fill="#0062ff"/>
<rect x="102.0" y="57" width="1.9" height="11" fill="#00f0ff"/>
<rect x="103.6" y="57" width="1.9" height="11" fill="#007cff"/>
<rect x="105.2" y="57" width="1.5" height="11" fill="#0034ff"/>
<rect x="106.4" y="57" width="1.5" height="11" fill="#0065ff"/>
<rect x="107.5" y="57" width="2.1" height="11" fill="#0000f9"/>
<rect x="109.3" y="57" width="1.5" height="11" fill="#0000a7"/>
<rect x="110.5" y="57" width="2.4" height="11" fill="#0002ff"/>
<rect x="112.6" y="57" width="0.4" height="11" fill="#0000a9"/>
<rect x="112.7" y="57" width="2.8" height="11" fill="#0054ff"/>
<rect x="115.2" y="57" width="1.5" height="11" fill="#000eff"/>
<rect x="116.4" y="57" width="1.8" height="11" fill="#004fff"/>
<rect x="117.9" y="57" width="2.2" height="11" fill="#000dff"/>
<rect x="119.8" y="57" width="2.2" height="11" fill="#004dff"/>
<rect x="121.7" y="57" width="0.7" height="11" fill="#0010ff"/>
<rect x="122.1" y="57" width="1.7" height="11" fill="#0000a1"/>
<rect x="123.5" y="57" width="2.5" height="11" fill="#0000e5"/>
<rect x="125.7" y="57" width="2.0" height="11" fill="#00009e"/>
<rect x="127.4" y="57" width="1.5" height="11" fill="#0000d2"/>
<rect x="128.6" y="57" width="2.4" height="11" fill="#000098"/>
<rect x="130.7" y="57" width="1.9" height="11" fill="#0000d9"/>
<rect x="132.3" y="57" width="2.2" height="11" fill="#00009c"/>
<rect x="134.2" y="57" width="0.8" height="11" fill="#0000d7"/>
<rect x="134.7" y="57" width="1.9" height="11" fill="#0033ff"/>
<rect x="136.2" y="57" width="1.9" height="11" fill="#0040ff"/>
<rect x="137.8" y="57" width="1.9" height="11" fill="#001eff"/>
<rect x="139.4" y="57" width="1.9" height="11" fill="#004fff"/>
<rect x="140.9" y="57" width="3.4" height="11" fill="#0000ab"/>
<rect x="144.1" y="57" width="1.6" height="11" fill="#003dff"/>
<rect x="145.4" y="57" width="2.8" height="11" fill="#0000f2"/>
<rect x="147.9" y="57" width="2.2" height="11" fill="#0042ff"/>
<rect x="149.8" y="57" width="1.9" height="11" fill="#0000f9"/>
<rect x="151.4" y="57" width="0.8" height="11" fill="#003eff"/>
<rect x="151.9" y="57" width="5.0" height="11" fill="#0000ab"/>
<rect x="156.6" y="57" width="2.7" height="11" fill="#0010ff"/>
<rect x="159.0" y="57" width="5.0" height="11" fill="#0000a4"/>
<rect x="163.7" y="57" width="3.4" height="11" fill="#0000fb"/>
<rect x="166.8" y="57" width="2.1" height="11" fill="#006dff"/>
<rect x="168.6" y="57" width="2.1" height="11" fill="#002dff"/>
<rect x="170.4" y="57" width="2.1" height="11" fill="#006aff"/>
<rect x="172.1" y="57" width="2.1" height="11" fill="#0040ff"/>
<rect x="173.9" y="57" width="1.9" height="11" fill="#0044ff"/>
<rect x="175.5" y="57" width="1.9" height="11" fill="#006cff"/>
<rect x="177.0" y="57" width="1.9" height="11" fill="#0054ff"/>
<rect x="178.6" y="57" width="1.9" height="11" fill="#006aff"/>
<rect x="180.2" y="57" width="1.9" height="11" fill="#004fff"/>
<rect x="181.7" y="57" width="1.9" height="11" fill="#0077ff"/>
<rect x="183.3" y="57" width="10.5" height="11" fill="#00008c"/>
<rect x="193.5" y="57" width="2.7" height="11" fill="#0010ff"/>
<rect x="195.8" y="57" width="11.6" height="11" fill="#000086"/>
<rect x="207.1" y="57" width="2.7" height="11" fill="#0010ff"/>
<rect x="209.5" y="57" width="10.5" height="11" fill="#00008c"/>
<rect x="219.7" y="57" width="1.9" height="11" fill="#0077ff"/>
<rect x="221.3" y="57" width="1.9" height="11" fill="#004fff"/>
<rect x="222.8" y="57" width="1.9" height="11" fill="#006aff"/>
<rect x="224.4" y="57" width="1.9" height="11" fill="#0054ff"/>
<rect x="226.0" y="57" width="1.9" height="11" fill="#006cff"/>
<rect x="227.5" y="57" width="1.9" height="11" fill="#0044ff"/>
<rect x="229.1" y="57" width="2.1" height="11" fill="#0040ff"/>
<rect x="230.9" y="57" width="2.1" height="11" fill="#006aff"/>
<rect x="232.6" y="57" width="2.1" height="11" fill="#002dff"/>
<rect x="234.4" y="57" width="2.1" height="11" fill="#006dff"/>
<rect x="236.2" y="57" width="3.4" height="11" fill="#0000fb"/>
<rect x="239.3" y="57" width="5.0" height="11" fill="#0000a4"/>
<rect x="244.0" y="57" width="2.7" height="11" fill="#0010ff"/>
<rect x="246.4" y="57" width="5.0" height="11" fill="#0000ab"/>
<rect x="251.1" y="57" width="0.8" height="11" fill="#003eff"/>
<rect x="251.6" y="57" width="1.9" height="11" fill="#0000f9"/>
<rect x="253.2" y="57" width="2.2" height="11" fill="#0042ff"/>
<rect x="255.1" y="57" width="2.8" height="11" fill="#0000f2"/>
<rect x="257.6" y="57" width="1.6" height="11" fill="#003dff"/>
<rect x="258.9" y="57" width="3.4" height="11" fill="#0000ab"/>
<rect x="262.0" y="57" width="1.9" height="11" fill="#004fff"/>
<rect x="263.6" y="57" width="1.9" height="11" fill="#001eff"/>
<rect x="265.2" y="57" width="1.9" height="11" fill="#0040ff"/>
<rect x="266.7" y="57" width="1.9" height="11" fill="#0033ff"/>
<rect x="268.3" y="57" width="0.8" height="11" fill="#0000d7"/>
<rect x="268.8" y="57" width="2.2" height="11" fill="#00009c"/>
<rect x="270.7" y="57" width="1.9" height="11" fill="#0000d9"/>
<rect x="272.3" y="57" width="2.4" height="11" fill="#000098"/>
<rect x="274.4" y="57" width="1.5" height="11" fill="#0000d2"/>
<rect x="275.6" y="57" width="2.0" height="11" fill="#00009e"/>
<rect x="277.3" y="57" width="2.5" height="11" fill="#0000e5"/>
<rect x="279.5" y="57" width="1.7" height="11" fill="#0000a1"/>
<rect x="280.9" y="57" width="0.7" height="11" fill="#0010ff"/>
<rect x="281.3" y="57" width="2.2" height="11" fill="#004dff"/>
<rect x="283.2" y="57" width="2.2" height="11" fill="#000dff"/>
<rect x="285.1" y="57" width="1.8" height="11" fill="#004fff"/>
<rect x="286.6" y="57" width="1.5" height="11" fill="#000eff"/>
<rect x="287.8" y="57" width="2.8" height="11" fill="#0054ff"/>
<rect x="290.3" y="57" width="0.4" height="11" fill="#0000a9"/>
<rect x="290.4" y="57" width="2.4" height="11" fill="#0002ff"/>
<rect x="292.5" y="57" width="1.5" height="11" fill="#0000a7"/>
<rect x="293.7" y="57" width="2.1" height="11" fill="#0000f9"/>
<rect x="295.5" y="57" width="1.5" height="11" fill="#0065ff"/>
<rect x="296.6" y="57" width="1.5" height="11" fill="#0034ff"/>
<rect x="297.8" y="57" width="1.9" height="11" fill="#007cff"/>
<rect x="299.4" y="57" width="1.9" height="11" fill="#00f0ff"/>
<rect x="300.9" y="57" width="1.9" height="11" fill="#0062ff"/>
<rect x="302.5" y="57" width="1.9" height="11" fill="#00a7ff"/>
<rect x="304.1" y="57" width="1.5" height="11" fill="#63ff9c"/>
<rect x="305.3" y="57" width="1.5" height="11" fill="#00e9ff"/>
<rect x="306.4" y="57" width="1.9" height="11" fill="#00b9ff"/>
<rect x="308.0" y="57" width="1.9" height="11" fill="#18ffe7"/>
<rect x="309.6" y="57" width="1.9" height="11" fill="#0055ff"/>
<rect x="311.1" y="57" width="1.9" height="11" fill="#0018ff"/>
<rect x="312.7" y="57" width="1.9" height="11" fill="#004dff"/>
<rect x="314.3" y="57" width="1.9" height="11" fill="#00a4ff"/>
<rect x="315.8" y="57" width="1.9" height="11" fill="#0071ff"/>
<rect x="317.4" y="57" width="1.9" height="11" fill="#00d6ff"/>
<rect x="319.0" y="57" width="1.9" height="11" fill="#1fffe0"/>
<rect x="320.6" y="57" width="1.6" height="11" fill="#23ffdc"/>
<rect x="321.9" y="57" width="1.6" height="11" fill="#00c4ff"/>
<rect x="323.2" y="57" width="1.6" height="11" fill="#50ffaf"/>
<rect x="324.5" y="57" width="1.5" height="11" fill="#005aff"/>
<rect x="325.7" y="57" width="1.5" height="11" fill="#00b4ff"/>
<rect x="326.8" y="57" width="1.5" height="11" fill="#00d3ff"/>
<rect x="328.0" y="57" width="1.5" height="11" fill="#40ffbf"/>
<rect x="329.2" y="57" width="1.6" height="11" fill="#4cffb3"/>
<rect x="330.5" y="57" width="1.6" height="11" fill="#00deff"/>
<rect x="331.8" y="57" width="1.6" height="11" fill="#2bffd4"/>
<rect x="333.1" y="57" width="1.5" height="11" fill="#007aff"/>
<rect x="334.3" y="57" width="1.5" height="11" fill="#00afff"/>
<rect x="335.5" y="57" width="1.9" height="11" fill="#41ffbe"/>
<rect x="337.0" y="57" width="1.9" height="11" fill="#00c0ff"/>
<rect x="338.6" y="57" width="1.5" height="11" fill="#0afff5"/>
<rect x="339.8" y="57" width="1.5" height="11" fill="#00a8ff"/>
<rect x="340.9" y="57" width="9.4" height="11" fill="#1cffe3"/>
<rect x="55.4" y="46" width="6.9" height="11" fill="#97ff68"/>
<rect x="62.0" y="46" width="1.5" height="11" fill="#00cbff"/>
<rect x="63.2" y="46" width="1.5" height="11" fill="#43ffbc"/>
<rect x="64.4" y="46" width="1.5" height="11" fill="#c1ff3e"/>
<rect x="65.6" y="46" width="1.5" height="11" fill="#57ffa8"/>
<rect x="66.7" y="46" width="1.5" height="11" fill="#3affc5"/>
<rect x="67.9" y="46" width="1.5" height="11" fill="#00e9ff"/>
<rect x="69.1" y="46" width="1.9" height="11" fill="#0061ff"/>
<rect x="70.7" y="46" width="1.9" height="11" fill="#00a2ff"/>
<rect x="72.2" y="46" width="1.9" height="11" fill="#005aff"/>
<rect x="73.8" y="46" width="1.9" height="11" fill="#20ffdf"/>
<rect x="75.4" y="46" width="1.9" height="11" fill="#00a9ff"/>
<rect x="76.9" y="46" width="1.5" height="11" fill="#00aeff"/>
<rect x="78.1" y="46" width="1.5" height="11" fill="#006fff"/>
<rect x="79.3" y="46" width="1.9" height="11" fill="#00b4ff"/>
<rect x="80.9" y="46" width="1.9" height="11" fill="#39ffc6"/>
<rect x="82.4" y="46" width="1.9" height="11" fill="#00bfff"/>
<rect x="84.0" y="46" width="1.5" height="11" fill="#0078ff"/>
<rect x="85.2" y="46" width="1.5" height="11" fill="#00b0ff"/>
<rect x="86.4" y="46" width="1.5" height="11" fill="#46ffb9"/>
<rect x="87.5" y="46" width="1.5" height="11" fill="#00d5ff"/>
<rect x="88.7" y="46" width="1.9" height="11" fill="#94ff6b"/>
<rect x="90.3" y="46" width="1.9" height="11" fill="#1dffe2"/>
<rect x="91.8" y="46" width="1.9" height="11" fill="#0096ff"/>
<rect x="93.4" y="46" width="1.9" height="11" fill="#004eff"/>
<rect x="95.0" y="46" width="1.9" height="11" fill="#1bffe4"/>
<rect x="96.6" y="46" width="1.9" height="11" fill="#00a7ff"/>
<rect x="98.1" y="46" width="1.6" height="11" fill="#0089ff"/>
<rect x="99.4" y="46" width="1.6" height="11" fill="#004fff"/>
<rect x="100.7" y="46" width="1.6" height="11" fill="#0094ff"/>
<rect x="102.0" y="46" width="1.9" height="11" fill="#0068ff"/>
<rect x="103.6" y="46" width="1.9" height="11" fill="#003dff"/>
<rect x="105.2" y="46" width="1.5" height="11" fill="#0004ff"/>
<rect x="106.4" y="46" width="1.5" height="11" fill="#0019ff"/>
<rect x="107.5" y="46" width="2.3" height="11" fill="#0017ff"/>
<rect x="109.6" y="46" width="1.9" height="11" fill="#0022ff"/>
<rect x="111.1" y="46" width="1.9" height="11" fill="#0000f9"/>
<rect x="112.7" y="46" width="1.9" height="11" fill="#0015ff"/>
<rect x="114.3" y="46" width="2.7" height="11" fill="#0000ab"/>
<rect x="116.6" y="46" width="2.3" height="11" fill="#0005ff"/>
<rect x="118.6" y="46" width="2.3" height="11" fill="#0020ff"/>
<rect x="120.6" y="46" width="1.9" height="11" fill="#0057ff"/>
<rect x="122.1" y="46" width="1.9" height="11" fill="#0045ff"/>
<rect x="123.7" y="46" width="1.9" height="11" fill="#005dff"/>
<rect x="125.3" y="46" width="1.9" height="11" fill="#0033ff"/>
<rect x="126.8" y="46" width="2.3" height="11" fill="#0000fa"/>
<rect x="128.8" y="46" width="2.3" height="11" fill="#001fff"/>
<rect x="130.7" y="46" width="3.4" height="11" fill="#004eff"/>
<rect x="133.9" y="46" width="1.5" height="11" fill="#00009b"/>
<rect x="135.1" y="46" width="1.8" height="11" fill="#0000db"/>
<rect x="136.5" y="46" width="2.4" height="11" fill="#00009c"/>
<rect x="138.6" y="46" width="1.9" height="11" fill="#0000da"/>
<rect x="140.2" y="46" width="2.8" height="11" fill="#000099"/>
<rect x="142.7" y="46" width="2.2" height="11" fill="#0000d8"/>
<rect x="144.6" y="46" width="1.4" height="11" fill="#000099"/>
<rect x="145.7" y="46" width="2.7" height="11" fill="#0010ff"/>
<rect x="148.0" y="46" width="3.4" height="11" fill="#0000a4"/>
<rect x="151.1" y="46" width="1.8" height="11" fill="#0038ff"/>
<rect x="152.7" y="46" width="2.6" height="11" fill="#0000f9"/>
<rect x="155.0" y="46" width="1.7" height="11" fill="#0040ff"/>
<rect x="156.4" y="46" width="0.5" height="11" fill="#0000f3"/>
<rect x="156.6" y="46" width="5.8" height="11" fill="#0000a4"/>
<rect x="162.1" y="46" width="2.1" height="11" fill="#005aff"/>
<rect x="164.0" y="46" width="2.1" height="11" fill="#0040ff"/>
<rect x="165.8" y="46" width="2.1" height="11" fill="#0063ff"/>
<rect x="167.6" y="46" width="5.0" height="11" fill="#0000ab"/>
<rect x="172.3" y="46" width="2.1" height="11" fill="#008eff"/>
<rect x="174.1" y="46" width="2.1" height="11" fill="#004dff"/>
<rect x="176.0" y="46" width="2.1" height="11" fill="#0079ff"/>
<rect x="177.8" y="46" width="2.1" height="11" fill="#004bff"/>
<rect x="179.6" y="46" width="2.1" height="11" fill="#0075ff"/>
<rect x="181.5" y="46" width="2.1" height="11" fill="#0058ff"/>
<rect x="183.3" y="46" width="2.7" height="11" fill="#0000fb"/>
<rect x="185.7" y="46" width="3.8" height="11" fill="#00008c"/>
<rect x="189.1" y="46" width="1.2" height="11" fill="#0000a4"/>
<rect x="190.0" y="46" width="7.2" height="11" fill="#00008c"/>
<rect x="196.9" y="46" width="1.2" height="11" fill="#0000a4"/>
<rect x="197.9" y="46" width="7.5" height="11" fill="#000089"/>
<rect x="205.1" y="46" width="1.2" height="11" fill="#0000a4"/>
<rect x="206.0" y="46" width="7.2" height="11" fill="#00008c"/>
<rect x="212.9" y="46" width="1.2" height="11" fill="#0000a4"/>
<rect x="213.9" y="46" width="3.8" height="11" fill="#00008c"/>
<rect x="217.3" y="46" width="2.7" height="11" fill="#0000fb"/>
<rect x="219.7" y="46" width="2.1" height="11" fill="#0058ff"/>
<rect x="221.5" y="46" width="2.1" height="11" fill="#0075ff"/>
<rect x="223.3" y="46" width="2.1" height="11" fill="#004bff"/>
<rect x="225.2" y="46" width="2.1" height="11" fill="#0079ff"/>
<rect x="227.0" y="46" width="2.1" height="11" fill="#004dff"/>
<rect x="228.8" y="46" width="2.1" height="11" fill="#008eff"/>
<rect x="230.7" y="46" width="5.0" height="11" fill="#0000ab"/>
<rect x="235.4" y="46" width="2.1" height="11" fill="#0063ff"/>
<rect x="237.2" y="46" width="2.1" height="11" fill="#0040ff"/>
<rect x="239.0" y="46" width="2.1" height="11" fill="#005aff"/>
<rect x="240.9" y="46" width="5.8" height="11" fill="#0000a4"/>
<rect x="246.4" y="46" width="0.5" height="11" fill="#0000f3"/>
<rect x="246.6" y="46" width="1.7" height="11" fill="#0040ff"/>
<rect x="248.0" y="46" width="2.6" height="11" fill="#0000f9"/>
<rect x="250.3" y="46" width="1.8" height="11" fill="#0038ff"/>
<rect x="251.8" y="46" width="3.4" height="11" fill="#0000a4"/>
<rect x="255.0" y="46" width="2.7" height="11" fill="#0010ff"/>
<rect x="257.3" y="46" width="1.4" height="11" fill="#000099"/>
<rect x="258.4" y="46" width="2.2" height="11" fill="#0000d8"/>
<rect x="260.3" y="46" width="2.8" height="11" fill="#000099"/>
<rect x="262.8" y="46" width="1.9" height="11" fill="#0000da"/>
<rect x="264.4" y="46" width="2.4" height="11" fill="#00009c"/>
<rect x="266.4" y="46" width="1.8" height="11" fill="#0000db"/>
<rect x="267.9" y="46" width="1.5" height="11" fill="#00009b"/>
<rect x="269.1" y="46" width="3.4" height="11" fill="#004eff"/>
<rect x="272.2" y="46" width="2.3" height="11" fill="#001fff"/>
<rect x="274.2" y="46" width="2.3" height="11" fill="#0000fa"/>
<rect x="276.2" y="46" width="1.9" height="11" fill="#0033ff"/>
<rect x="277.7" y="46" width="1.9" height="11" fill="#005dff"/>
<rect x="279.3" y="46" width="1.9" height="11" fill="#0045ff"/>
<rect x="280.9" y="46" width="1.9" height="11" fill="#0057ff"/>
<rect x="282.4" y="46" width="2.3" height="11" fill="#0020ff"/>
<rect x="284.4" y="46" width="2.3" height="11" fill="#0005ff"/>
<rect x="286.4" y="46" width="2.7" height="11" fill="#0000ab"/>
<rect x="288.7" y="46" width="1.9" height="11" fill="#0015ff"/>
<rect x="290.3" y="46" width="1.9" height="11" fill="#0000f9"/>
<rect x="291.8" y="46" width="1.9" height="11" fill="#0022ff"/>
<rect x="293.4" y="46" width="2.3" height="11" fill="#0017ff"/>
<rect x="295.5" y="46" width="1.5" height="11" fill="#0019ff"/>
<rect x="296.6" y="46" width="1.5" height="11" fill="#0004ff"/>
<rect x="297.8" y="46" width="1.9" height="11" fill="#003dff"/>
<rect x="299.4" y="46" width="1.9" height="11" fill="#0068ff"/>
<rect x="300.9" y="46" width="1.6" height="11" fill="#0094ff"/>
<rect x="302.3" y="46" width="1.6" height="11" fill="#004fff"/>
<rect x="303.6" y="46" width="1.6" height="11" fill="#0089ff"/>
<rect x="304.9" y="46" width="1.9" height="11" fill="#00a7ff"/>
<rect x="306.4" y="46" width="1.9" height="11" fill="#1bffe4"/>
<rect x="308.0" y="46" width="1.9" height="11" fill="#004eff"/>
<rect x="309.6" y="46" width="1.9" height="11" fill="#0096ff"/>
<rect x="311.1" y="46" width="1.9" height="11" fill="#1dffe2"/>
<rect x="312.7" y="46" width="1.9" height="11" fill="#94ff6b"/>
<rect x="314.3" y="46" width="1.5" height="11" fill="#00d5ff"/>
<rect x="315.5" y="46" width="1.5" height="11" fill="#46ffb9"/>
<rect x="316.6" y="46" width="1.5" height="11" fill="#00b0ff"/>
<rect x="317.8" y="46" width="1.5" height="11" fill="#0078ff"/>
<rect x="319.0" y="46" width="1.9" height="11" fill="#00bfff"/>
<rect x="320.6" y="46" width="1.9" height="11" fill="#39ffc6"/>
<rect x="322.1" y="46" width="1.9" height="11" fill="#00b4ff"/>
<rect x="323.7" y="46" width="1.5" height="11" fill="#006fff"/>
<rect x="324.9" y="46" width="1.5" height="11" fill="#00aeff"/>
<rect x="326.0" y="46" width="1.9" height="11" fill="#00a9ff"/>
<rect x="327.6" y="46" width="1.9" height="11" fill="#20ffdf"/>
<rect x="329.2" y="46" width="1.9" height="11" fill="#005aff"/>
<rect x="330.8" y="46" width="1.9" height="11" fill="#00a2ff"/>
<rect x="332.3" y="46" width="1.9" height="11" fill="#0061ff"/>
<rect x="333.9" y="46" width="1.5" height="11" fill="#00e9ff"/>
<rect x="335.1" y="46" width="1.5" height="11" fill="#3affc5"/>
<rect x="336.2" y="46" width="1.5" height="11" fill="#57ffa8"/>
<rect x="337.4" y="46" width="1.5" height="11" fill="#c1ff3e"/>
<rect x="338.6" y="46" width="1.5" height="11" fill="#43ffbc"/>
<rect x="339.8" y="46" width="1.5" height="11" fill="#00cbff"/>
<rect x="340.9" y="46" width="9.4" height="11" fill="#97ff68"/>
<rect x="55.4" y="35" width="6.9" height="11" fill="#30ffcf"/>
<rect x="62.0" y="35" width="1.5" height="11" fill="#00d1ff"/>
<rect x="63.2" y="35" width="1.5" height="11" fill="#3affc5"/>
<rect x="64.4" y="35" width="1.6" height="11" fill="#008dff"/>
<rect x="65.7" y="35" width="1.6" height="11" fill="#0056ff"/>
<rect x="67.0" y="35" width="1.6" height="11" fill="#009aff"/>
<rect x="68.3" y="35" width="1.5" height="11" fill="#3dffc2"/>
<rect x="69.5" y="35" width="1.5" height="11" fill="#00b9ff"/>
<rect x="70.7" y="35" width="1.9" height="11" fill="#42ffbd"/>
<rect x="72.2" y="35" width="1.9" height="11" fill="#00daff"/>
<rect x="73.8" y="35" width="1.6" height="11" fill="#0092ff"/>
<rect x="75.1" y="35" width="1.6" height="11" fill="#0047ff"/>
<rect x="76.4" y="35" width="1.6" height="11" fill="#00a7ff"/>
<rect x="77.7" y="35" width="1.9" height="11" fill="#00e3ff"/>
<rect x="79.3" y="35" width="1.9" height="11" fill="#40ffbf"/>
<rect x="80.9" y="35" width="1.9" height="11" fill="#0069ff"/>
<rect x="82.4" y="35" width="1.9" height="11" fill="#009bff"/>
<rect x="84.0" y="35" width="1.5" height="11" fill="#33ffcc"/>
<rect x="85.2" y="35" width="1.5" height="11" fill="#00c0ff"/>
<rect x="86.4" y="35" width="1.6" height="11" fill="#0051ff"/>
<rect x="87.7" y="35" width="1.6" height="11" fill="#0074ff"/>
<rect x="89.0" y="35" width="1.6" height="11" fill="#003aff"/>
<rect x="90.3" y="35" width="1.6" height="11" fill="#00bdff"/>
<rect x="91.6" y="35" width="1.6" height="11" fill="#39ffc6"/>
<rect x="92.9" y="35" width="1.6" height="11" fill="#00bbff"/>
<rect x="94.2" y="35" width="1.9" height="11" fill="#006bff"/>
<rect x="95.8" y="35" width="1.9" height="11" fill="#00b8ff"/>
<rect x="97.3" y="35" width="1.9" height="11" fill="#0074ff"/>
<rect x="98.9" y="35" width="1.5" height="11" fill="#0016ff"/>
<rect x="100.1" y="35" width="1.5" height="11" fill="#0049ff"/>
<rect x="101.3" y="35" width="1.7" height="11" fill="#00abff"/>
<rect x="102.6" y="35" width="1.7" height="11" fill="#16ffe9"/>
<rect x="104.0" y="35" width="1.7" height="11" fill="#00c5ff"/>
<rect x="105.4" y="35" width="1.7" height="11" fill="#00fcff"/>
<rect x="106.7" y="35" width="1.1" height="11" fill="#0077ff"/>
<rect x="107.5" y="35" width="2.2" height="11" fill="#0000d8"/>
<rect x="109.4" y="35" width="2.1" height="11" fill="#0000a4"/>
<rect x="111.2" y="35" width="2.0" height="11" fill="#0000d6"/>
<rect x="112.9" y="35" width="2.6" height="11" fill="#0000a1"/>
<rect x="115.3" y="35" width="2.3" height="11" fill="#0000e6"/>
<rect x="117.3" y="35" width="1.8" height="11" fill="#0000a0"/>
<rect x="118.8" y="35" width="2.0" height="11" fill="#0000df"/>
<rect x="120.6" y="35" width="1.8" height="11" fill="#0000a8"/>
<rect x="122.0" y="35" width="2.4" height="11" fill="#0009ff"/>
<rect x="124.1" y="35" width="2.3" height="11" fill="#0000af"/>
<rect x="126.1" y="35" width="1.0" height="11" fill="#0018ff"/>
<rect x="126.8" y="35" width="2.7" height="11" fill="#00009c"/>
<rect x="129.2" y="35" width="1.6" height="11" fill="#000fff"/>
<rect x="130.6" y="35" width="2.0" height="11" fill="#0000a5"/>
<rect x="132.3" y="35" width="2.2" height="11" fill="#0000f4"/>
<rect x="134.1" y="35" width="0.8" height="11" fill="#0000a5"/>
<rect x="134.7" y="35" width="14.4" height="11" fill="#0000a4"/>
<rect x="148.8" y="35" width="1.9" height="11" fill="#0000fb"/>
<rect x="150.4" y="35" width="5.0" height="11" fill="#0000a4"/>
<rect x="155.1" y="35" width="2.3" height="11" fill="#0000ef"/>
<rect x="157.0" y="35" width="2.3" height="11" fill="#0002ff"/>
<rect x="159.0" y="35" width="1.5" height="11" fill="#000086"/>
<rect x="160.2" y="35" width="2.2" height="11" fill="#00009b"/>
<rect x="162.1" y="35" width="1.7" height="11" fill="#00008a"/>
<rect x="163.5" y="35" width="1.5" height="11" fill="#00009b"/>
<rect x="164.8" y="35" width="2.0" height="11" fill="#00008b"/>
<rect x="166.4" y="35" width="2.5" height="11" fill="#000098"/>
<rect x="168.7" y="35" width="2.1" height="11" fill="#000087"/>
<rect x="170.5" y="35" width="2.6" height="11" fill="#00009c"/>
<rect x="172.8" y="35" width="1.4" height="11" fill="#000086"/>
<rect x="173.9" y="35" width="2.5" height="11" fill="#00009b"/>
<rect x="176.1" y="35" width="1.3" height="11" fill="#000089"/>
<rect x="177.0" y="35" width="22.3" height="11" fill="#000086"/>
<rect x="199.0" y="35" width="1.9" height="11" fill="#00009e"/>
<rect x="200.6" y="35" width="2.2" height="11" fill="#000086"/>
<rect x="202.4" y="35" width="1.9" height="11" fill="#00009e"/>
<rect x="204.0" y="35" width="22.3" height="11" fill="#000086"/>
<rect x="226.0" y="35" width="1.3" height="11" fill="#000089"/>
<rect x="226.9" y="35" width="2.5" height="11" fill="#00009b"/>
<rect x="229.1" y="35" width="1.4" height="11" fill="#000086"/>
<rect x="230.2" y="35" width="2.6" height="11" fill="#00009c"/>
<rect x="232.5" y="35" width="2.1" height="11" fill="#000087"/>
<rect x="234.3" y="35" width="2.5" height="11" fill="#000098"/>
<rect x="236.5" y="35" width="2.0" height="11" fill="#00008b"/>
<rect x="238.2" y="35" width="1.5" height="11" fill="#00009b"/>
<rect x="239.4" y="35" width="1.7" height="11" fill="#00008a"/>
<rect x="240.8" y="35" width="2.2" height="11" fill="#00009b"/>
<rect x="242.8" y="35" width="1.5" height="11" fill="#000086"/>
<rect x="244.0" y="35" width="2.3" height="11" fill="#0002ff"/>
<rect x="246.0" y="35" width="2.3" height="11" fill="#0000ef"/>
<rect x="247.9" y="35" width="5.0" height="11" fill="#0000a4"/>
<rect x="252.6" y="35" width="1.9" height="11" fill="#0000fb"/>
<rect x="254.2" y="35" width="14.4" height="11" fill="#0000a4"/>
<rect x="268.3" y="35" width="0.8" height="11" fill="#0000a5"/>
<rect x="268.8" y="35" width="2.2" height="11" fill="#0000f4"/>
<rect x="270.7" y="35" width="2.0" height="11" fill="#0000a5"/>
<rect x="272.4" y="35" width="1.6" height="11" fill="#000fff"/>
<rect x="273.7" y="35" width="2.7" height="11" fill="#00009c"/>
<rect x="276.2" y="35" width="1.0" height="11" fill="#0018ff"/>
<rect x="276.9" y="35" width="2.3" height="11" fill="#0000af"/>
<rect x="278.9" y="35" width="2.4" height="11" fill="#0009ff"/>
<rect x="281.0" y="35" width="1.8" height="11" fill="#0000a8"/>
<rect x="282.4" y="35" width="2.0" height="11" fill="#0000df"/>
<rect x="284.2" y="35" width="1.8" height="11" fill="#0000a0"/>
<rect x="285.7" y="35" width="2.3" height="11" fill="#0000e6"/>
<rect x="287.7" y="35" width="2.6" height="11" fill="#0000a1"/>
<rect x="290.0" y="35" width="2.0" height="11" fill="#0000d6"/>
<rect x="291.8" y="35" width="2.1" height="11" fill="#0000a4"/>
<rect x="293.6" y="35" width="2.2" height="11" fill="#0000d8"/>
<rect x="295.5" y="35" width="1.1" height="11" fill="#0077ff"/>
<rect x="296.2" y="35" width="1.7" height="11" fill="#00fcff"/>
<rect x="297.6" y="35" width="1.7" height="11" fill="#00c5ff"/>
<rect x="299.0" y="35" width="1.7" height="11" fill="#16ffe9"/>
<rect x="300.4" y="35" width="1.7" height="11" fill="#00abff"/>
<rect x="301.7" y="35" width="1.5" height="11" fill="#0049ff"/>
<rect x="302.9" y="35" width="1.5" height="11" fill="#0016ff"/>
<rect x="304.1" y="35" width="1.9" height="11" fill="#0074ff"/>
<rect x="305.7" y="35" width="1.9" height="11" fill="#00b8ff"/>
<rect x="307.2" y="35" width="1.9" height="11" fill="#006bff"/>
<rect x="308.8" y="35" width="1.6" height="11" fill="#00bbff"/>
<rect x="310.1" y="35" width="1.6" height="11" fill="#39ffc6"/>
<rect x="311.4" y="35" width="1.6" height="11" fill="#00bdff"/>
<rect x="312.7" y="35" width="1.6" height="11" fill="#003aff"/>
<rect x="314.0" y="35" width="1.6" height="11" fill="#0074ff"/>
<rect x="315.3" y="35" width="1.6" height="11" fill="#0051ff"/>
<rect x="316.6" y="35" width="1.5" height="11" fill="#00c0ff"/>
<rect x="317.8" y="35" width="1.5" height="11" fill="#33ffcc"/>
<rect x="319.0" y="35" width="1.9" height="11" fill="#009bff"/>
<rect x="320.6" y="35" width="1.9" height="11" fill="#0069ff"/>
<rect x="322.1" y="35" width="1.9" height="11" fill="#40ffbf"/>
<rect x="323.7" y="35" width="1.9" height="11" fill="#00e3ff"/>
<rect x="325.3" y="35" width="1.6" height="11" fill="#00a7ff"/>
<rect x="326.6" y="35" width="1.6" height="11" fill="#0047ff"/>
<rect x="327.9" y="35" width="1.6" height="11" fill="#0092ff"/>
<rect x="329.2" y="35" width="1.9" height="11" fill="#00daff"/>
<rect x="330.8" y="35" width="1.9" height="11" fill="#42ffbd"/>
<rect x="332.3" y="35" width="1.5" height="11" fill="#00b9ff"/>
<rect x="333.5" y="35" width="1.5" height="11" fill="#3dffc2"/>
<rect x="334.7" y="35" width="1.6" height="11" fill="#009aff"/>
<rect x="336.0" y="35" width="1.6" height="11" fill="#0056ff"/>
<rect x="337.3" y="35" width="1.6" height="11" fill="#008dff"/>
<rect x="338.6" y="35" width="1.5" height="11" fill="#3affc5"/>
<rect x="339.8" y="35" width="1.5" height="11" fill="#00d1ff"/>
<rect x="340.9" y="35" width="9.4" height="11" fill="#30ffcf"/>
<rect x="55.4" y="19" width="5.8" height="16" fill="#ff9a00"/>
<rect x="60.9" y="19" width="2.2" height="16" fill="#07fff8"/>
<rect x="62.8" y="19" width="1.5" height="16" fill="#e9ff16"/>
<rect x="64.0" y="19" width="1.5" height="16" fill="#40ffbf"/>
<rect x="65.2" y="19" width="1.5" height="16" fill="#43ffbc"/>
<rect x="66.4" y="19" width="1.5" height="16" fill="#00eaff"/>
<rect x="67.5" y="19" width="1.5" height="16" fill="#31ffce"/>
<rect x="68.7" y="19" width="1.5" height="16" fill="#e9ff16"/>
<rect x="69.9" y="19" width="1.9" height="16" fill="#34ffcb"/>
<rect x="71.5" y="19" width="1.9" height="16" fill="#00bfff"/>
<rect x="73.0" y="19" width="1.5" height="16" fill="#00cdff"/>
<rect x="74.2" y="19" width="1.5" height="16" fill="#006eff"/>
<rect x="75.4" y="19" width="1.5" height="16" fill="#00c9ff"/>
<rect x="76.5" y="19" width="1.5" height="16" fill="#24ffdb"/>
<rect x="77.7" y="19" width="1.9" height="16" fill="#54ffab"/>
<rect x="79.3" y="19" width="1.9" height="16" fill="#d3ff2c"/>
<rect x="80.9" y="19" width="1.5" height="16" fill="#00dbff"/>
<rect x="82.0" y="19" width="1.5" height="16" fill="#4dffb2"/>
<rect x="83.2" y="19" width="1.5" height="16" fill="#cdff32"/>
<rect x="84.4" y="19" width="1.5" height="16" fill="#38ffc7"/>
<rect x="85.6" y="19" width="1.9" height="16" fill="#008bff"/>
<rect x="87.1" y="19" width="1.9" height="16" fill="#00f2ff"/>
<rect x="88.7" y="19" width="1.9" height="16" fill="#04fffb"/>
<rect x="90.3" y="19" width="1.9" height="16" fill="#63ff9c"/>
<rect x="91.8" y="19" width="1.9" height="16" fill="#00ebff"/>
<rect x="93.4" y="19" width="1.5" height="16" fill="#3affc5"/>
<rect x="94.6" y="19" width="1.5" height="16" fill="#00b8ff"/>
<rect x="95.8" y="19" width="1.5" height="16" fill="#61ff9e"/>
<rect x="96.9" y="19" width="1.5" height="16" fill="#a5ff5a"/>
<rect x="98.1" y="19" width="1.5" height="16" fill="#4effb1"/>
<rect x="99.3" y="19" width="1.5" height="16" fill="#00c4ff"/>
<rect x="100.5" y="19" width="1.9" height="16" fill="#0072ff"/>
<rect x="102.0" y="19" width="1.9" height="16" fill="#00b2ff"/>
<rect x="103.6" y="19" width="1.6" height="16" fill="#0080ff"/>
<rect x="104.9" y="19" width="1.6" height="16" fill="#0052ff"/>
<rect x="106.2" y="19" width="1.6" height="16" fill="#008bff"/>
<rect x="107.5" y="19" width="2.7" height="16" fill="#0002ff"/>
<rect x="109.9" y="19" width="1.4" height="16" fill="#0000a9"/>
<rect x="111.0" y="19" width="2.4" height="16" fill="#0000ff"/>
<rect x="113.1" y="19" width="1.5" height="16" fill="#000098"/>
<rect x="114.3" y="19" width="3.4" height="16" fill="#0010ff"/>
<rect x="117.4" y="19" width="2.3" height="16" fill="#0000e0"/>
<rect x="119.4" y="19" width="2.4" height="16" fill="#00009b"/>
<rect x="121.4" y="19" width="2.6" height="16" fill="#0000d6"/>
<rect x="123.7" y="19" width="2.6" height="16" fill="#00009d"/>
<rect x="126.1" y="19" width="1.1" height="16" fill="#0000e0"/>
<rect x="126.8" y="19" width="2.3" height="16" fill="#003dff"/>
<rect x="128.8" y="19" width="2.2" height="16" fill="#0000fa"/>
<rect x="130.7" y="19" width="1.9" height="16" fill="#0041ff"/>
<rect x="132.4" y="19" width="1.0" height="16" fill="#0000ff"/>
<rect x="133.1" y="19" width="2.6" height="16" fill="#0000e0"/>
<rect x="135.4" y="19" width="2.1" height="16" fill="#0000a4"/>
<rect x="137.2" y="19" width="2.5" height="16" fill="#0000e4"/>
<rect x="139.4" y="19" width="2.5" height="16" fill="#00009b"/>
<rect x="141.6" y="19" width="1.8" height="16" fill="#0000d2"/>
<rect x="143.1" y="19" width="2.0" height="16" fill="#0000a2"/>
<rect x="144.8" y="19" width="1.1" height="16" fill="#0000db"/>
<rect x="145.7" y="19" width="1.9" height="16" fill="#0056ff"/>
<rect x="147.2" y="19" width="1.9" height="16" fill="#0020ff"/>
<rect x="148.8" y="19" width="1.9" height="16" fill="#004eff"/>
<rect x="150.4" y="19" width="1.9" height="16" fill="#0026ff"/>
<rect x="151.9" y="19" width="3.4" height="16" fill="#0000ab"/>
<rect x="155.1" y="19" width="1.9" height="16" fill="#000bff"/>
<rect x="156.6" y="19" width="1.9" height="16" fill="#0015ff"/>
<rect x="158.2" y="19" width="1.9" height="16" fill="#0005ff"/>
<rect x="159.8" y="19" width="3.4" height="16" fill="#0000ab"/>
<rect x="162.9" y="19" width="2.3" height="16" fill="#001aff"/>
<rect x="164.9" y="19" width="1.8" height="16" fill="#0048ff"/>
<rect x="166.4" y="19" width="1.5" height="16" fill="#0010ff"/>
<rect x="167.6" y="19" width="1.9" height="16" fill="#0009ff"/>
<rect x="169.2" y="19" width="2.0" height="16" fill="#00009f"/>
<rect x="170.9" y="19" width="1.6" height="16" fill="#000fff"/>
<rect x="172.2" y="19" width="2.0" height="16" fill="#0000a2"/>
<rect x="173.9" y="19" width="2.1" height="16" fill="#005fff"/>
<rect x="175.7" y="19" width="2.1" height="16" fill="#003dff"/>
<rect x="177.5" y="19" width="2.1" height="16" fill="#006bff"/>
<rect x="179.4" y="19" width="5.8" height="16" fill="#0000a4"/>
<rect x="184.9" y="19" width="2.7" height="16" fill="#0000fb"/>
<rect x="187.2" y="19" width="28.8" height="16" fill="#00008c"/>
<rect x="215.8" y="19" width="2.7" height="16" fill="#0000fb"/>
<rect x="218.1" y="19" width="5.8" height="16" fill="#0000a4"/>
<rect x="223.6" y="19" width="2.1" height="16" fill="#006bff"/>
<rect x="225.4" y="19" width="2.1" height="16" fill="#003dff"/>
<rect x="227.3" y="19" width="2.1" height="16" fill="#005fff"/>
<rect x="229.1" y="19" width="2.0" height="16" fill="#0000a2"/>
<rect x="230.8" y="19" width="1.6" height="16" fill="#000fff"/>
<rect x="232.1" y="19" width="2.0" height="16" fill="#00009f"/>
<rect x="233.8" y="19" width="1.9" height="16" fill="#0009ff"/>
<rect x="235.4" y="19" width="1.5" height="16" fill="#0010ff"/>
<rect x="236.6" y="19" width="1.8" height="16" fill="#0048ff"/>
<rect x="238.1" y="19" width="2.3" height="16" fill="#001aff"/>
<rect x="240.1" y="19" width="3.4" height="16" fill="#0000ab"/>
<rect x="243.2" y="19" width="1.9" height="16" fill="#0005ff"/>
<rect x="244.8" y="19" width="1.9" height="16" fill="#0015ff"/>
<rect x="246.4" y="19" width="1.9" height="16" fill="#000bff"/>
<rect x="247.9" y="19" width="3.4" height="16" fill="#0000ab"/>
<rect x="251.1" y="19" width="1.9" height="16" fill="#0026ff"/>
<rect x="252.6" y="19" width="1.9" height="16" fill="#004eff"/>
<rect x="254.2" y="19" width="1.9" height="16" fill="#0020ff"/>
<rect x="255.8" y="19" width="1.9" height="16" fill="#0056ff"/>
<rect x="257.3" y="19" width="1.1" height="16" fill="#0000db"/>
<rect x="258.2" y="19" width="2.0" height="16" fill="#0000a2"/>
<rect x="259.9" y="19" width="1.8" height="16" fill="#0000d2"/>
<rect x="261.4" y="19" width="2.5" height="16" fill="#00009b"/>
<rect x="263.6" y="19" width="2.5" height="16" fill="#0000e4"/>
<rect x="265.8" y="19" width="2.1" height="16" fill="#0000a4"/>
<rect x="267.6" y="19" width="2.6" height="16" fill="#0000e0"/>
<rect x="269.9" y="19" width="1.0" height="16" fill="#0000ff"/>
<rect x="270.6" y="19" width="1.9" height="16" fill="#0041ff"/>
<rect x="272.3" y="19" width="2.2" height="16" fill="#0000fa"/>
<rect x="274.2" y="19" width="2.3" height="16" fill="#003dff"/>
<rect x="276.2" y="19" width="1.1" height="16" fill="#0000e0"/>
<rect x="276.9" y="19" width="2.6" height="16" fill="#00009d"/>
<rect x="279.3" y="19" width="2.6" height="16" fill="#0000d6"/>
<rect x="281.5" y="19" width="2.4" height="16" fill="#00009b"/>
<rect x="283.6" y="19" width="2.3" height="16" fill="#0000e0"/>
<rect x="285.6" y="19" width="3.4" height="16" fill="#0010ff"/>
<rect x="288.7" y="19" width="1.5" height="16" fill="#000098"/>
<rect x="289.9" y="19" width="2.4" height="16" fill="#0000ff"/>
<rect x="292.0" y="19" width="1.4" height="16" fill="#0000a9"/>
<rect x="293.1" y="19" width="2.7" height="16" fill="#0002ff"/>
<rect x="295.5" y="19" width="1.6" height="16" fill="#008bff"/>
<rect x="296.8" y="19" width="1.6" height="16" fill="#0052ff"/>
<rect x="298.1" y="19" width="1.6" height="16" fill="#0080ff"/>
<rect x="299.4" y="19" width="1.9" height="16" fill="#00b2ff"/>
<rect x="300.9" y="19" width="1.9" height="16" fill="#0072ff"/>
<rect x="302.5" y="19" width="1.5" height="16" fill="#00c4ff"/>
<rect x="303.7" y="19" width="1.5" height="16" fill="#4effb1"/>
<rect x="304.9" y="19" width="1.5" height="16" fill="#a5ff5a"/>
<rect x="306.0" y="19" width="1.5" height="16" fill="#61ff9e"/>
<rect x="307.2" y="19" width="1.5" height="16" fill="#00b8ff"/>
<rect x="308.4" y="19" width="1.5" height="16" fill="#3affc5"/>
<rect x="309.6" y="19" width="1.9" height="16" fill="#00ebff"/>
<rect x="311.1" y="19" width="1.9" height="16" fill="#63ff9c"/>
<rect x="312.7" y="19" width="1.9" height="16" fill="#04fffb"/>
<rect x="314.3" y="19" width="1.9" height="16" fill="#00f2ff"/>
<rect x="315.8" y="19" width="1.9" height="16" fill="#008bff"/>
<rect x="317.4" y="19" width="1.5" height="16" fill="#38ffc7"/>
<rect x="318.6" y="19" width="1.5" height="16" fill="#cdff32"/>
<rect x="319.8" y="19" width="1.5" height="16" fill="#4dffb2"/>
<rect x="320.9" y="19" width="1.5" height="16" fill="#00dbff"/>
<rect x="322.1" y="19" width="1.9" height="16" fill="#d3ff2c"/>
<rect x="323.7" y="19" width="1.9" height="16" fill="#54ffab"/>
<rect x="325.3" y="19" width="1.5" height="16" fill="#24ffdb"/>
<rect x="326.4" y="19" width="1.5" height="16" fill="#00c9ff"/>
<rect x="327.6" y="19" width="1.5" height="16" fill="#006eff"/>
<rect x="328.8" y="19" width="1.5" height="16" fill="#00cdff"/>
<rect x="330.0" y="19" width="1.9" height="16" fill="#00bfff"/>
<rect x="331.5" y="19" width="1.9" height="16" fill="#34ffcb"/>
<rect x="333.1" y="19" width="1.5" height="16" fill="#e9ff16"/>
<rect x="334.3" y="19" width="1.5" height="16" fill="#31ffce"/>
<rect x="335.5" y="19" width="1.5" height="16" fill="#00eaff"/>
<rect x="336.6" y="19" width="1.5" height="16" fill="#43ffbc"/>
<rect x="337.8" y="19" width="1.5" height="16" fill="#40ffbf"/>
<rect x="339.0" y="19" width="1.5" height="16" fill="#e9ff16"/>
<rect x="340.2" y="19" width="2.2" height="16" fill="#07fff8"/>
<rect x="342.0" y="19" width="8.3" height="16" fill="#ff9a00"/>
</g>
<rect x="201.1" y="23.4" width="0.9" height="488.9" fill="#000088" opacity="0.8"/></g>
<rect class="ax" x="60.0" y="23.4" width="285.5" height="488.9"/>
<path class="ax" d="M88.5 512.3v-4.9M88.5 23.4v4.9"/><path class="ax" d="M117.1 512.3v-4.9M117.1 23.4v4.9"/><path class="ax" d="M145.7 512.3v-4.9M145.7 23.4v4.9"/><path class="ax" d="M174.2 512.3v-4.9M174.2 23.4v4.9"/><path class="ax" d="M202.8 512.3v-4.9M202.8 23.4v4.9"/><path class="ax" d="M231.3 512.3v-4.9M231.3 23.4v4.9"/><path class="ax" d="M259.9 512.3v-4.9M259.9 23.4v4.9"/><path class="ax" d="M288.4 512.3v-4.9M288.4 23.4v4.9"/><path class="ax" d="M316.9 512.3v-4.9M316.9 23.4v4.9"/><path class="ax" d="M60.0 506.7h4.9M345.5 506.7h-4.9"/><text class="tk" x="48.6" y="513.8" text-anchor="end">7</text><path class="ax" d="M60.0 473.4h4.9M345.5 473.4h-4.9"/><text class="tk" x="53.1" y="480.5" text-anchor="end">10</text><path class="ax" d="M60.0 417.9h4.9M345.5 417.9h-4.9"/><text class="tk" x="53.1" y="425.0" text-anchor="end">15</text><path class="ax" d="M60.0 362.3h4.9M345.5 362.3h-4.9"/><text class="tk" x="53.1" y="369.4" text-anchor="end">20</text><path class="ax" d="M60.0 306.7h4.9M345.5 306.7h-4.9"/><text class="tk" x="53.1" y="313.8" text-anchor="end">25</text><path class="ax" d="M60.0 251.2h4.9M345.5 251.2h-4.9"/><text class="tk" x="53.1" y="258.3" text-anchor="end">30</text><path class="ax" d="M60.0 195.6h4.9M345.5 195.6h-4.9"/><text class="tk" x="53.1" y="202.7" text-anchor="end">35</text><path class="ax" d="M60.0 140.1h4.9M345.5 140.1h-4.9"/><text class="tk" x="53.1" y="147.2" text-anchor="end">40</text><path class="ax" d="M60.0 84.5h4.9M345.5 84.5h-4.9"/><text class="tk" x="53.1" y="91.6" text-anchor="end">45</text><path class="ax" d="M60.0 29.0h4.9M345.5 29.0h-4.9"/><text class="tk" x="53.1" y="36.1" text-anchor="end">50</text><text class="tk" x="59.9" y="536" text-anchor="middle">-2.5</text><text class="tk" x="82.6" y="536" text-anchor="middle">-2</text><text class="tk" x="117.1" y="536" text-anchor="middle">-1.5</text><text class="tk" x="139.7" y="536" text-anchor="middle">-1</text><text class="tk" x="173.7" y="536" text-anchor="middle">-0.5</text><text class="tk" x="195.2" y="536" text-anchor="middle">0</text><text class="tk" x="228.4" y="536" text-anchor="middle">0.5</text><text class="tk" x="252.4" y="536" text-anchor="middle">1</text><text class="tk" x="285.8" y="536" text-anchor="middle">1.5</text><text class="tk" x="308.9" y="536" text-anchor="middle">2</text><text class="tk" x="342.5" y="536" text-anchor="middle">2.5</text><text class="lb" x="202.2" y="560.3" text-anchor="middle">E (eV)</text>
<text class="tt" x="58.4" y="15">(a)</text>
<text class="lb" style="font-size:21.4px" transform="translate(16.8,298.2) rotate(-90)">R<tspan dy="10.8" font-size="17px">o</tspan><tspan dy="-10.8"> (Å)</tspan></text>
<rect x="371.3" y="23.4" width="26.4" height="488.9" fill="url(#jet)"/>
<rect class="ax" x="371.3" y="23.4" width="26.4" height="488.9"/>
<text class="tk" x="403.4" y="519.4">0</text><path class="ax" d="M397.7 463.2h-5"/><text class="tk" x="403.4" y="470.3">0.5</text><path class="ax" d="M397.7 414.0h-5"/><text class="tk" x="403.4" y="421.1">1</text><path class="ax" d="M397.7 364.9h-5"/><text class="tk" x="403.4" y="372.0">1.5</text><path class="ax" d="M397.7 315.8h-5"/><text class="tk" x="403.4" y="322.9">2</text><path class="ax" d="M397.7 266.6h-5"/><text class="tk" x="403.4" y="273.7">2.5</text><path class="ax" d="M397.7 217.5h-5"/><text class="tk" x="403.4" y="224.6">3</text><path class="ax" d="M397.7 168.4h-5"/><text class="tk" x="403.4" y="175.5">3.5</text><path class="ax" d="M397.7 119.2h-5"/><text class="tk" x="403.4" y="126.3">4</text><path class="ax" d="M397.7 70.1h-5"/><text class="tk" x="403.4" y="77.2">4.5</text><text class="cl" transform="translate(449.1,268) rotate(-90)" text-anchor="middle">Transmission</text>
<rect class="ax" x="552.3" y="28.4" width="128.6" height="488.5"/>
<text class="tk" x="552.0" y="543" text-anchor="middle">0</text><path class="ax" d="M616.3 516.9v-4.9M616.3 28.4v4.9"/><text class="tk" x="616.3" y="543" text-anchor="middle">1</text><text class="tk" x="680.6" y="543" text-anchor="middle">2</text><path class="ax" d="M552.3 482.8h4.9M680.9 482.8h-4.9"/><text class="tk" x="546.5" y="489.7" text-anchor="end">10</text><path class="ax" d="M552.3 426.0h4.9M680.9 426.0h-4.9"/><text class="tk" x="546.5" y="432.9" text-anchor="end">15</text><path class="ax" d="M552.3 369.2h4.9M680.9 369.2h-4.9"/><text class="tk" x="546.5" y="376.1" text-anchor="end">20</text><path class="ax" d="M552.3 312.4h4.9M680.9 312.4h-4.9"/><text class="tk" x="546.5" y="319.3" text-anchor="end">25</text><path class="ax" d="M552.3 255.6h4.9M680.9 255.6h-4.9"/><text class="tk" x="546.5" y="262.5" text-anchor="end">30</text><path class="ax" d="M552.3 198.8h4.9M680.9 198.8h-4.9"/><text class="tk" x="546.5" y="205.7" text-anchor="end">35</text><path class="ax" d="M552.3 142.0h4.9M680.9 142.0h-4.9"/><text class="tk" x="546.5" y="148.9" text-anchor="end">40</text><path class="ax" d="M552.3 85.2h4.9M680.9 85.2h-4.9"/><text class="tk" x="546.5" y="92.1" text-anchor="end">45</text><text class="tk" x="546.5" y="35.3" text-anchor="end">50</text><text class="lb" style="font-size:22px" x="616.2" y="568.2" text-anchor="middle">Gap (eV)</text>
<text class="tt" x="552.6" y="16.2">(b)</text>
<text class="lb" style="font-size:22.3px" transform="translate(506.4,304.3) rotate(-90)">R<tspan dy="10.9" font-size="17.5px">o</tspan><tspan dy="-10.9"> (Å)</tspan></text>
<polyline points="552.0,516.9 552.0,505.5 552.0,494.2 553.9,482.8 552.0,471.5 557.1,460.1 553.3,448.7 553.3,437.4 552.0,426.0 553.3,414.7 552.6,403.3 635.3,391.9 552.6,380.6 553.3,369.2 611.2,357.9 552.0,346.5 553.3,335.1 552.6,323.8 604.7,312.4 552.0,301.1 586.7,289.7 552.0,278.3 577.7,267.0 552.0,255.6 553.3,244.2 552.0,232.9 582.2,221.5 552.0,210.2 552.0,198.8 553.3,187.4 553.3,176.1 591.5,164.7 552.6,153.4 577.1,142.0 552.0,130.6 584.8,119.3 552.0,107.9 568.1,96.6 552.0,85.2 588.8,73.8 553.3,62.5 553.3,51.1 553.3,39.8 569.4,28.4" fill="none" stroke="#0000ff" stroke-width="2.1" stroke-linejoin="round"/>
<circle cx="552.0" cy="516.9" r="3.8" fill="none" stroke="#0000ff" stroke-width="2.2"/><circle cx="552.0" cy="505.5" r="3.8" fill="none" stroke="#0000ff" stroke-width="2.2"/><circle cx="552.0" cy="494.2" r="3.8" fill="none" stroke="#0000ff" stroke-width="2.2"/><circle cx="553.9" cy="482.8" r="3.8" fill="none" stroke="#0000ff" stroke-width="2.2"/><circle cx="552.0" cy="471.5" r="3.8" fill="none" stroke="#0000ff" stroke-width="2.2"/><circle cx="557.1" cy="460.1" r="3.8" fill="none" stroke="#0000ff" stroke-width="2.2"/><circle cx="553.3" cy="448.7" r="3.8" fill="none" stroke="#0000ff" stroke-width="2.2"/><circle cx="553.3" cy="437.4" r="3.8" fill="none" stroke="#0000ff" stroke-width="2.2"/><circle cx="552.0" cy="426.0" r="3.8" fill="none" stroke="#0000ff" stroke-width="2.2"/><circle cx="553.3" cy="414.7" r="3.8" fill="none" stroke="#0000ff" stroke-width="2.2"/><circle cx="552.6" cy="403.3" r="3.8" fill="none" stroke="#0000ff" stroke-width="2.2"/><circle cx="635.3" cy="391.9" r="3.8" fill="none" stroke="#0000ff" stroke-width="2.2"/><circle cx="552.6" cy="380.6" r="3.8" fill="none" stroke="#0000ff" stroke-width="2.2"/><circle cx="553.3" cy="369.2" r="3.8" fill="none" stroke="#0000ff" stroke-width="2.2"/><circle cx="611.2" cy="357.9" r="3.8" fill="none" stroke="#0000ff" stroke-width="2.2"/><circle cx="552.0" cy="346.5" r="3.8" fill="none" stroke="#0000ff" stroke-width="2.2"/><circle cx="553.3" cy="335.1" r="3.8" fill="none" stroke="#0000ff" stroke-width="2.2"/><circle cx="552.6" cy="323.8" r="3.8" fill="none" stroke="#0000ff" stroke-width="2.2"/><circle cx="604.7" cy="312.4" r="3.8" fill="none" stroke="#0000ff" stroke-width="2.2"/><circle cx="552.0" cy="301.1" r="3.8" fill="none" stroke="#0000ff" stroke-width="2.2"/><circle cx="586.7" cy="289.7" r="3.8" fill="none" stroke="#0000ff" stroke-width="2.2"/><circle cx="552.0" cy="278.3" r="3.8" fill="none" stroke="#0000ff" stroke-width="2.2"/><circle cx="577.7" cy="267.0" r="3.8" fill="none" stroke="#0000ff" stroke-width="2.2"/><circle cx="552.0" cy="255.6" r="3.8" fill="none" stroke="#0000ff" stroke-width="2.2"/><circle cx="553.3" cy="244.2" r="3.8" fill="none" stroke="#0000ff" stroke-width="2.2"/><circle cx="552.0" cy="232.9" r="3.8" fill="none" stroke="#0000ff" stroke-width="2.2"/><circle cx="582.2" cy="221.5" r="3.8" fill="none" stroke="#0000ff" stroke-width="2.2"/><circle cx="552.0" cy="210.2" r="3.8" fill="none" stroke="#0000ff" stroke-width="2.2"/><circle cx="552.0" cy="198.8" r="3.8" fill="none" stroke="#0000ff" stroke-width="2.2"/><circle cx="553.3" cy="187.4" r="3.8" fill="none" stroke="#0000ff" stroke-width="2.2"/><circle cx="553.3" cy="176.1" r="3.8" fill="none" stroke="#0000ff" stroke-width="2.2"/><circle cx="591.5" cy="164.7" r="3.8" fill="none" stroke="#0000ff" stroke-width="2.2"/><circle cx="552.6" cy="153.4" r="3.8" fill="none" stroke="#0000ff" stroke-width="2.2"/><circle cx="577.1" cy="142.0" r="3.8" fill="none" stroke="#0000ff" stroke-width="2.2"/><circle cx="552.0" cy="130.6" r="3.8" fill="none" stroke="#0000ff" stroke-width="2.2"/><circle cx="584.8" cy="119.3" r="3.8" fill="none" stroke="#0000ff" stroke-width="2.2"/><circle cx="552.0" cy="107.9" r="3.8" fill="none" stroke="#0000ff" stroke-width="2.2"/><circle cx="568.1" cy="96.6" r="3.8" fill="none" stroke="#0000ff" stroke-width="2.2"/><circle cx="552.0" cy="85.2" r="3.8" fill="none" stroke="#0000ff" stroke-width="2.2"/><circle cx="588.8" cy="73.8" r="3.8" fill="none" stroke="#0000ff" stroke-width="2.2"/><circle cx="553.3" cy="62.5" r="3.8" fill="none" stroke="#0000ff" stroke-width="2.2"/><circle cx="553.3" cy="51.1" r="3.8" fill="none" stroke="#0000ff" stroke-width="2.2"/><circle cx="553.3" cy="39.8" r="3.8" fill="none" stroke="#0000ff" stroke-width="2.2"/><circle cx="569.4" cy="28.4" r="3.8" fill="none" stroke="#0000ff" stroke-width="2.2"/>
</svg></body></html>
